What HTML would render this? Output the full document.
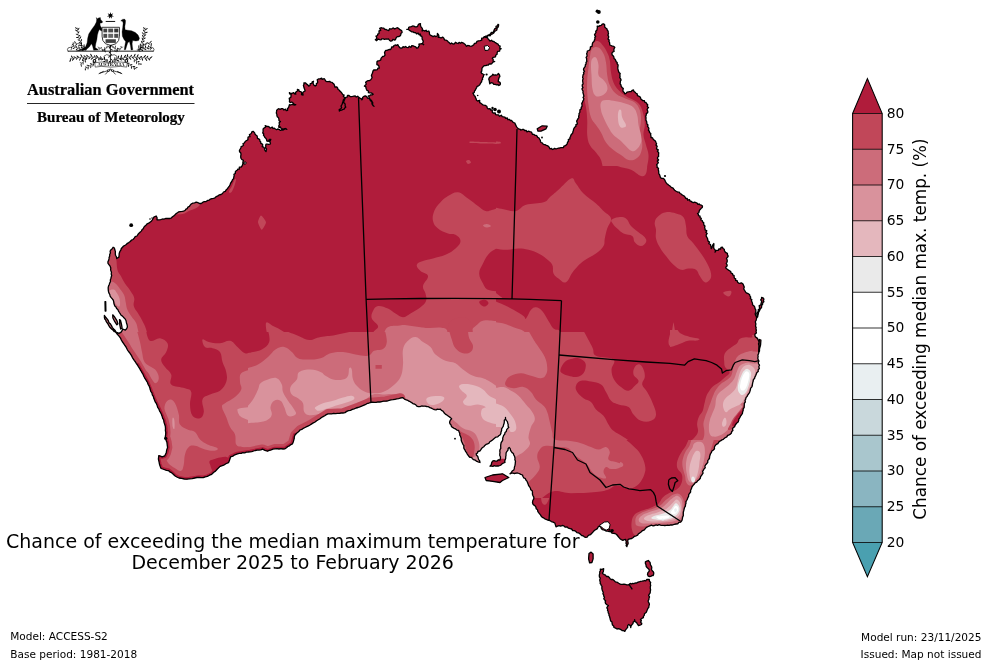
<!DOCTYPE html>
<html lang="en">
<head>
<meta charset="utf-8">
<title>Chance of exceeding the median maximum temperature</title>
<style>
html,body{margin:0;padding:0;background:#fff;}
body{width:992px;height:664px;overflow:hidden;}
svg{display:block;}
</style>
</head>
<body>
<svg width="992" height="664" viewBox="0 0 992 664">
<rect width="992" height="664" fill="#fff"/>
<defs><clipPath id="land"><path d="M113.1 247.2 L114.4 248.0 L114.8 249.8 L115.4 251.6 L115.3 253.5 L115.5 255.2 L116.4 256.8 L116.7 258.5 L118.9 257.1 L119.1 255.3 L119.2 253.5 L119.8 251.7 L120.8 250.2 L121.3 248.5 L122.5 247.2 L123.6 246.0 L125.0 245.3 L126.3 244.5 L127.4 243.3 L128.8 242.6 L130.2 241.5 L131.4 240.2 L133.1 239.5 L134.2 238.1 L135.2 236.6 L137.0 236.0 L137.9 234.5 L139.0 233.2 L140.3 232.1 L141.5 230.9 L142.1 229.5 L143.4 228.6 L143.9 227.1 L145.0 226.0 L146.2 224.9 L147.2 223.8 L148.7 223.1 L150.0 222.2 L151.3 221.3 L152.2 220.0 L153.0 218.6 L153.8 217.2 L156.2 216.0 L157.1 217.8 L157.0 219.8 L158.9 219.9 L160.7 219.6 L162.5 219.0 L164.0 219.1 L165.5 218.5 L167.0 218.3 L168.5 218.5 L170.0 218.5 L171.5 217.8 L172.5 216.7 L173.9 215.9 L175.0 214.8 L176.1 213.6 L177.5 212.8 L178.8 211.8 L180.3 211.6 L181.9 211.4 L183.5 211.1 L185.0 210.5 L185.9 209.2 L187.3 208.6 L187.9 207.1 L189.4 206.4 L190.2 205.1 L191.2 204.0 L192.8 203.1 L194.6 202.9 L196.2 202.2 L197.9 202.7 L199.5 203.5 L201.2 203.5 L202.6 202.4 L204.2 201.7 L206.1 201.6 L207.5 200.5 L209.1 200.2 L210.4 199.1 L211.9 198.6 L213.5 198.3 L215.0 197.8 L216.3 196.6 L217.9 195.9 L219.3 194.8 L221.1 194.5 L222.5 193.5 L223.5 192.0 L225.3 191.3 L226.2 189.8 L227.5 188.7 L228.3 187.4 L229.3 186.1 L230.0 184.8 L230.7 183.0 L231.8 181.5 L232.5 179.8 L233.6 178.6 L233.8 177.0 L234.2 175.7 L233.9 174.2 L235.4 173.4 L235.3 171.9 L236.1 170.8 L237.2 170.2 L237.8 169.1 L239.4 169.1 L239.3 167.1 L241.0 167.2 L241.8 166.3 L242.5 165.2 L242.7 163.7 L244.2 163.5 L242.8 162.5 L243.4 160.4 L241.8 159.5 L241.0 158.3 L240.7 157.0 L240.8 155.6 L241.0 154.3 L240.8 153.0 L239.6 151.8 L239.4 150.5 L240.2 149.0 L240.9 148.0 L241.1 146.7 L242.5 146.1 L243.5 145.3 L243.0 143.5 L244.4 143.0 L244.9 141.9 L245.8 141.0 L247.0 140.3 L248.0 139.6 L247.9 138.0 L248.3 136.8 L250.0 136.6 L249.4 134.6 L250.6 134.0 L251.4 133.1 L251.8 131.9 L253.1 131.3 L254.7 132.9 L255.0 134.1 L255.9 135.0 L257.0 135.7 L257.3 136.9 L257.5 138.3 L258.7 138.9 L259.8 139.7 L259.8 141.1 L260.8 141.9 L260.7 143.3 L262.1 143.9 L262.8 144.9 L262.2 146.7 L263.7 147.2 L264.4 148.1 L264.6 149.4 L265.0 150.6 L266.0 151.5 L266.3 150.2 L266.6 149.0 L265.5 147.8 L265.8 146.6 L265.7 145.4 L266.0 144.2 L267.3 144.2 L268.7 144.3 L270.0 144.2 L270.5 143.0 L269.6 141.6 L270.4 140.5 L270.8 139.4 L269.3 139.5 L268.5 141.3 L266.8 141.0 L266.6 139.6 L266.0 138.5 L264.9 137.6 L264.4 136.4 L263.5 135.4 L263.7 133.8 L262.7 132.9 L263.1 131.7 L263.1 130.3 L263.1 129.0 L264.1 128.0 L265.6 127.1 L265.2 125.6 L266.7 126.4 L268.4 126.5 L269.4 127.1 L270.4 128.2 L272.2 127.0 L272.9 128.5 L274.4 128.2 L275.4 129.0 L276.5 129.7 L277.7 129.0 L279.1 129.3 L280.4 130.4 L281.7 130.0 L283.0 130.2 L284.3 128.6 L285.6 129.0 L286.9 129.4 L285.7 128.5 L284.0 129.5 L282.7 128.9 L281.3 128.8 L280.4 127.0 L278.9 127.3 L278.8 125.7 L279.5 124.4 L279.1 122.8 L280.5 121.6 L279.0 120.8 L278.9 119.2 L278.5 117.7 L277.3 116.8 L276.9 115.6 L276.9 114.4 L276.3 113.1 L276.5 111.9 L276.6 110.7 L277.3 109.5 L278.6 108.7 L280.1 109.3 L281.5 108.6 L282.9 108.7 L283.8 110.0 L285.5 109.1 L286.3 110.6 L287.7 110.3 L287.4 108.7 L288.6 107.5 L289.0 106.1 L289.4 104.7 L290.6 105.0 L291.9 104.5 L293.2 104.7 L294.5 105.2 L295.8 104.7 L294.4 104.8 L293.7 103.5 L292.7 102.9 L291.8 102.0 L290.1 102.6 L289.4 101.5 L289.6 100.0 L289.2 98.4 L290.9 97.3 L291.0 95.8 L291.1 94.4 L289.6 93.8 L289.4 92.6 L290.5 93.5 L291.9 93.5 L293.5 92.6 L294.5 93.8 L295.8 94.2 L295.3 92.7 L296.3 91.7 L297.6 90.8 L297.4 89.4 L298.9 89.8 L299.2 91.3 L300.9 91.6 L301.7 92.6 L301.5 94.7 L303.1 95.0 L302.7 93.4 L303.2 92.0 L305.1 91.0 L304.7 89.4 L304.1 88.1 L303.8 86.8 L303.4 85.6 L304.0 84.2 L303.9 82.9 L305.6 83.0 L306.6 84.1 L307.8 84.9 L308.7 86.1 L310.0 85.5 L310.2 83.7 L311.7 83.4 L312.2 81.9 L313.5 81.3 L313.0 82.8 L313.4 84.0 L314.0 85.2 L315.2 86.1 L316.4 85.2 L316.3 83.8 L317.6 82.8 L317.6 81.4 L317.2 79.8 L318.4 78.9 L320.1 78.9 L321.6 78.1 L322.2 79.4 L324.2 78.7 L325.0 79.7 L325.6 81.0 L326.9 81.6 L328.3 81.7 L329.7 81.3 L330.6 82.2 L332.1 82.3 L332.9 83.3 L333.9 84.1 L334.5 85.3 L334.8 87.0 L336.8 86.9 L337.6 88.0 L338.1 89.5 L339.4 90.2 L340.1 91.4 L341.2 92.2 L342.0 93.3 L342.7 94.5 L344.2 95.0 L343.2 96.1 L344.6 97.5 L344.5 98.8 L343.4 99.8 L343.0 101.3 L343.4 102.5 L344.8 103.4 L345.2 104.6 L345.1 106.0 L345.8 107.1 L344.8 107.9 L344.1 109.1 L342.8 109.5 L341.7 110.1 L340.4 110.3 L339.4 111.1 L339.2 109.6 L340.7 108.8 L341.6 107.6 L341.0 106.0 L341.8 104.8 L342.4 103.6 L342.6 102.3 L343.9 101.4 L344.4 100.0 L345.0 98.6 L345.8 97.4 L347.1 97.2 L347.5 95.3 L349.0 95.5 L350.1 96.5 L351.3 96.6 L352.6 96.4 L353.9 96.1 L355.2 95.9 L356.2 97.0 L357.7 96.2 L358.7 97.4 L359.9 98.1 L361.2 98.6 L361.9 99.8 L362.6 98.8 L362.6 97.5 L363.5 96.6 L365.2 95.8 L366.8 96.6 L367.4 98.1 L369.3 98.4 L370.0 99.8 L370.6 101.0 L372.2 101.5 L371.9 103.1 L372.2 104.4 L372.9 105.5 L374.0 106.3 L373.2 105.3 L372.4 104.3 L372.8 102.8 L371.7 101.9 L371.6 100.6 L370.5 99.7 L369.5 98.5 L369.0 97.1 L368.4 95.8 L369.7 95.7 L370.7 94.8 L372.1 94.9 L373.2 94.2 L372.2 93.4 L371.0 92.8 L369.6 92.8 L368.4 92.6 L368.5 91.0 L367.0 90.4 L366.4 89.3 L366.0 88.1 L365.8 86.7 L364.4 86.1 L365.3 85.1 L366.3 84.1 L365.6 82.2 L366.8 81.3 L368.1 80.6 L369.6 80.6 L370.8 79.7 L371.6 78.5 L372.1 77.3 L371.4 75.8 L371.8 74.5 L372.4 73.3 L372.7 72.0 L373.2 70.8 L372.9 71.3 L373.6 70.0 L375.0 70.0 L376.3 69.9 L377.4 69.6 L378.0 68.1 L379.4 68.1 L379.0 66.7 L378.6 65.4 L376.9 64.7 L376.9 63.2 L377.0 61.6 L378.0 60.9 L379.6 60.6 L380.8 59.9 L381.0 58.4 L381.8 57.4 L382.7 56.5 L384.2 56.2 L385.0 55.2 L384.8 53.9 L384.5 52.6 L385.1 51.4 L385.8 50.3 L387.0 50.3 L388.2 49.8 L389.4 49.4 L390.6 49.5 L391.3 48.4 L391.7 47.0 L393.5 46.8 L393.9 45.5 L395.2 45.0 L396.6 45.3 L397.9 44.7 L398.6 46.1 L399.5 47.4 L400.7 48.2 L401.9 48.0 L403.1 46.7 L404.4 47.3 L405.6 46.4 L406.8 47.4 L408.2 47.6 L409.2 46.3 L410.9 47.4 L411.8 45.6 L413.2 45.8 L414.4 46.3 L415.7 46.8 L416.6 48.0 L418.1 47.9 L418.5 46.7 L419.3 45.6 L418.9 44.2 L420.1 44.0 L421.4 43.6 L422.6 43.9 L423.7 44.7 L422.4 43.5 L423.3 41.7 L422.9 40.3 L422.1 39.0 L422.2 37.7 L421.8 36.4 L420.2 35.6 L420.5 34.2 L419.0 34.6 L418.2 33.1 L416.5 33.9 L415.6 32.6 L414.2 32.6 L413.0 31.9 L411.6 31.8 L410.5 30.9 L409.3 30.4 L408.4 29.2 L406.8 29.4 L408.4 29.3 L408.7 27.4 L410.0 26.9 L411.3 26.6 L412.6 26.0 L413.9 26.2 L415.2 26.8 L416.5 26.9 L417.6 26.4 L418.1 24.9 L419.0 23.9 L420.5 23.7 L420.4 25.0 L420.7 26.2 L421.3 27.3 L422.3 28.4 L422.4 29.6 L422.1 31.0 L423.3 30.2 L424.9 31.1 L426.1 30.2 L426.7 31.6 L428.8 31.0 L429.4 32.6 L429.5 34.2 L430.3 35.2 L431.8 35.8 L433.0 36.6 L434.6 35.8 L435.8 36.6 L437.2 36.0 L437.4 34.7 L437.4 33.4 L438.4 34.6 L438.9 35.9 L438.2 37.4 L439.7 37.4 L441.0 38.0 L442.6 37.1 L443.9 38.2 L444.4 39.8 L445.8 40.1 L447.1 40.6 L448.1 41.7 L449.3 42.8 L450.3 43.9 L451.5 42.9 L453.0 44.0 L454.3 43.9 L455.4 42.3 L456.8 43.1 L458.1 43.5 L459.1 42.4 L460.5 43.3 L461.6 42.3 L462.8 42.8 L463.9 43.4 L464.9 44.2 L465.7 45.2 L466.5 46.3 L467.7 45.4 L468.9 45.6 L470.1 46.2 L471.3 46.3 L472.6 45.6 L473.8 44.8 L474.5 43.3 L476.1 43.1 L477.0 41.4 L478.5 40.8 L480.2 40.6 L481.7 40.2 L481.7 38.1 L483.4 37.9 L484.2 36.6 L485.8 37.3 L487.4 37.7 L488.1 38.9 L489.0 39.8 L490.0 41.1 L491.6 40.2 L492.5 41.4 L493.9 41.5 L494.8 42.3 L496.0 42.9 L496.9 43.7 L498.1 44.2 L498.7 45.5 L500.2 46.1 L499.6 48.1 L501.1 48.7 L499.9 49.5 L499.6 51.2 L497.7 51.3 L497.1 52.7 L497.1 54.3 L495.7 55.3 L495.5 56.8 L494.3 57.2 L493.1 57.3 L492.3 58.4 L493.2 59.4 L493.1 61.1 L494.7 61.6 L493.4 61.7 L492.5 62.7 L491.6 63.8 L490.4 64.0 L489.0 64.0 L488.3 65.2 L486.9 65.1 L485.8 65.6 L484.5 65.6 L483.4 66.3 L482.6 67.3 L481.9 68.4 L481.9 69.7 L481.8 71.0 L481.0 72.1 L481.7 73.4 L482.9 74.0 L484.2 74.5 L483.5 75.6 L483.3 76.9 L482.4 78.0 L482.6 79.4 L481.8 80.3 L481.6 81.8 L480.8 82.7 L480.2 83.9 L479.6 85.0 L478.5 85.8 L477.1 86.4 L476.6 87.6 L475.9 88.8 L475.4 90.0 L474.5 91.0 L474.3 92.5 L472.9 93.1 L473.6 94.2 L474.0 95.4 L475.1 96.3 L475.5 97.6 L476.1 98.7 L476.5 100.3 L477.6 101.0 L479.7 100.5 L479.6 102.6 L480.8 103.2 L481.8 104.0 L482.8 104.8 L484.2 105.2 L485.6 105.5 L486.8 106.2 L487.2 107.8 L488.1 108.9 L490.0 108.6 L490.6 110.0 L492.3 110.0 L492.3 112.3 L493.4 113.1 L495.2 112.8 L495.6 114.6 L497.1 114.8 L498.5 114.9 L499.5 116.3 L501.3 115.2 L502.2 116.7 L503.5 116.9 L504.9 117.1 L505.6 118.4 L507.3 118.0 L507.8 119.7 L509.5 119.3 L510.2 120.5 L511.7 120.5 L512.5 121.7 L513.5 122.5 L514.9 123.1 L515.4 124.4 L516.0 125.6 L516.6 126.9 L517.5 127.9 L518.5 128.8 L519.7 129.1 L520.8 130.1 L522.3 129.5 L523.7 129.3 L524.7 130.7 L526.1 130.3 L527.0 131.8 L528.5 131.2 L529.7 131.7 L531.1 131.8 L531.9 132.9 L532.5 134.4 L534.0 134.3 L534.8 135.4 L536.3 135.4 L537.2 136.2 L537.7 137.4 L539.1 138.0 L539.5 139.1 L540.3 140.1 L540.5 141.4 L541.0 142.5 L542.2 142.9 L543.0 143.9 L543.9 144.6 L545.3 144.7 L546.3 145.4 L547.5 145.7 L548.5 146.4 L549.3 147.4 L549.9 148.8 L551.5 148.4 L552.2 149.5 L553.5 149.1 L554.6 148.3 L556.0 149.0 L557.2 148.5 L558.5 148.1 L559.7 148.0 L560.9 147.6 L562.2 147.6 L563.5 147.5 L563.9 146.1 L565.4 145.6 L566.5 144.8 L567.3 143.7 L567.5 142.2 L568.5 141.2 L568.3 139.7 L569.9 138.9 L569.9 137.5 L570.6 136.3 L571.0 135.0 L571.8 134.0 L572.7 133.1 L572.9 131.7 L573.4 130.6 L573.6 129.2 L574.1 128.1 L574.9 127.1 L576.0 126.2 L575.8 124.9 L577.4 123.9 L577.1 122.5 L576.6 121.1 L577.4 119.9 L577.9 118.7 L578.9 117.6 L578.6 116.2 L579.1 115.0 L579.0 113.7 L579.8 112.5 L579.9 111.2 L579.9 109.8 L581.3 108.9 L581.2 107.5 L582.0 106.4 L582.1 105.0 L581.7 103.6 L582.4 102.4 L582.8 101.2 L583.5 100.0 L583.8 98.7 L583.0 97.5 L583.9 96.2 L583.6 95.0 L583.3 93.7 L582.9 92.5 L583.1 91.2 L582.4 90.0 L581.9 88.8 L583.0 87.5 L582.3 86.3 L582.2 85.0 L583.1 83.8 L582.9 82.5 L582.7 81.3 L582.6 80.0 L583.2 78.8 L582.6 77.5 L582.9 76.2 L583.0 75.0 L583.9 73.8 L583.5 72.5 L584.5 71.4 L583.5 69.8 L583.7 68.6 L584.5 67.4 L585.3 66.3 L585.3 65.0 L586.1 63.9 L586.0 62.5 L586.9 61.3 L586.6 60.0 L586.7 58.8 L586.1 57.4 L586.9 56.3 L587.1 55.0 L586.6 53.7 L587.2 52.5 L587.3 51.0 L588.9 50.5 L590.0 49.7 L590.3 48.3 L590.4 46.9 L592.0 46.4 L592.2 45.0 L592.4 43.7 L592.8 42.4 L594.0 41.4 L594.4 40.1 L595.0 39.0 L594.8 37.5 L595.6 36.4 L594.5 34.8 L595.2 33.7 L596.0 32.5 L595.7 31.2 L597.0 30.1 L597.1 28.8 L597.4 27.6 L597.2 26.2 L598.8 26.4 L599.9 25.6 L601.3 25.4 L602.2 24.2 L603.5 23.8 L604.6 24.5 L604.7 25.8 L604.8 27.2 L605.8 28.0 L606.9 28.8 L607.2 30.0 L608.1 31.1 L608.2 32.4 L608.5 33.7 L607.8 35.1 L608.6 36.2 L608.6 37.5 L608.0 38.9 L609.2 40.0 L608.9 41.3 L609.6 42.5 L609.7 43.7 L609.8 45.0 L611.1 45.5 L612.3 46.2 L613.8 46.3 L614.8 47.5 L614.1 48.7 L613.8 50.0 L614.1 51.4 L612.4 52.3 L611.9 53.5 L612.2 55.0 L613.3 55.9 L613.9 57.0 L614.0 58.5 L615.1 59.3 L615.7 60.4 L616.2 61.7 L617.2 62.5 L617.1 63.8 L618.1 64.9 L618.0 66.2 L617.8 67.6 L617.9 68.9 L618.2 70.1 L618.5 71.3 L619.0 72.5 L620.2 73.6 L619.8 75.0 L620.1 76.2 L619.7 77.5 L620.6 78.7 L621.1 79.9 L620.4 81.3 L620.3 82.6 L620.1 83.8 L621.0 85.0 L621.2 86.4 L622.1 87.5 L623.3 88.5 L622.9 90.1 L623.1 91.5 L624.2 92.5 L624.8 93.8 L626.0 93.3 L627.0 92.1 L628.4 91.9 L629.8 91.7 L631.2 91.5 L632.1 90.3 L633.5 90.0 L633.9 91.4 L635.1 92.2 L635.9 93.2 L637.2 93.9 L637.4 95.4 L638.5 96.2 L639.8 96.6 L640.5 97.7 L640.9 99.1 L641.9 99.8 L642.7 100.7 L644.4 100.6 L644.6 102.2 L646.0 102.5 L646.7 103.7 L647.7 104.8 L647.3 106.5 L648.5 107.5 L647.5 108.6 L647.1 109.8 L647.8 111.3 L647.7 112.6 L646.3 113.6 L646.3 114.9 L645.7 116.1 L646.0 117.5 L646.0 118.8 L645.9 120.2 L646.6 121.3 L646.8 122.6 L646.9 123.9 L648.0 125.0 L647.5 126.4 L648.5 127.5 L648.9 128.7 L648.4 130.2 L649.4 131.3 L649.5 132.6 L650.8 133.6 L650.6 134.9 L651.0 136.2 L651.0 137.5 L652.6 137.9 L653.2 139.3 L654.3 140.2 L655.4 141.1 L656.0 142.5 L656.6 143.7 L655.9 145.1 L657.2 146.2 L656.7 147.6 L656.5 148.9 L658.3 149.8 L657.4 151.3 L658.6 152.4 L658.7 153.7 L658.5 155.0 L658.7 156.3 L657.6 157.4 L657.5 158.6 L658.6 160.0 L657.3 161.1 L658.3 162.4 L657.8 163.6 L656.6 164.7 L657.2 166.0 L657.0 167.4 L658.5 168.3 L658.2 169.8 L658.7 171.0 L658.7 172.3 L658.8 173.7 L659.6 174.8 L660.0 176.0 L660.4 177.4 L661.4 178.3 L663.1 178.3 L664.1 179.1 L664.9 180.2 L665.4 181.5 L666.1 182.6 L666.9 183.7 L667.9 184.4 L668.9 185.3 L670.0 186.0 L670.9 186.9 L671.9 187.7 L673.1 188.1 L673.8 189.2 L674.7 190.2 L675.7 191.0 L676.8 191.5 L677.8 192.2 L679.4 192.2 L680.0 193.5 L681.2 194.0 L682.0 194.9 L683.2 195.5 L684.3 196.1 L685.1 197.1 L685.7 198.4 L687.2 198.5 L687.6 200.1 L689.5 199.6 L690.0 201.0 L691.2 201.3 L692.1 202.2 L693.3 202.7 L694.8 202.1 L695.9 202.7 L697.1 203.1 L697.9 204.3 L699.3 204.0 L700.3 204.9 L701.5 205.2 L702.5 206.0 L702.3 207.4 L701.2 208.3 L700.4 209.3 L699.5 210.2 L699.1 211.5 L698.8 212.8 L697.5 213.5 L698.4 214.4 L698.5 215.7 L700.1 216.2 L700.0 217.7 L701.3 218.3 L700.8 220.0 L702.3 220.5 L702.5 221.9 L703.7 222.5 L703.7 224.0 L704.0 225.2 L705.0 226.0 L704.6 227.4 L705.0 228.6 L705.1 229.9 L706.8 230.8 L705.8 232.3 L707.2 233.4 L706.2 234.9 L706.2 236.2 L706.9 237.3 L707.5 238.5 L707.8 239.8 L708.1 241.1 L709.5 242.0 L708.8 243.7 L710.5 244.5 L710.7 245.9 L711.1 247.1 L711.2 248.5 L712.1 247.4 L712.3 245.9 L713.0 244.7 L713.8 243.5 L713.9 244.8 L713.7 246.1 L713.7 247.3 L713.9 248.6 L715.0 249.7 L715.5 250.9 L715.0 252.2 L715.7 251.0 L716.8 250.3 L718.4 250.4 L718.9 248.8 L720.6 249.0 L721.0 247.3 L722.5 247.2 L723.0 248.5 L724.3 249.2 L724.4 250.6 L725.0 251.8 L725.9 252.7 L727.4 253.3 L727.5 254.8 L728.2 256.1 L727.5 257.3 L726.5 258.4 L727.1 259.8 L727.3 261.0 L726.9 262.3 L726.2 263.5 L727.1 264.8 L727.1 266.1 L725.7 267.2 L726.2 268.5 L727.4 269.2 L728.4 270.1 L729.6 270.8 L730.7 271.5 L731.1 273.1 L732.5 273.5 L732.7 274.8 L734.1 275.5 L734.1 277.0 L734.4 278.2 L735.7 278.9 L735.6 280.4 L737.4 280.8 L737.5 282.2 L738.6 283.1 L739.9 283.4 L741.3 282.8 L742.5 283.5 L743.3 284.6 L743.7 285.9 L744.3 287.1 L743.7 288.7 L744.3 289.9 L745.0 291.0 L745.7 292.3 L746.8 293.2 L748.3 293.7 L749.5 294.5 L750.0 296.0 L750.7 297.1 L750.3 298.6 L751.8 299.5 L751.4 301.0 L752.1 302.2 L752.5 303.4 L752.5 304.8 L753.8 305.7 L754.8 307.1 L754.9 308.4 L755.7 309.7 L755.9 311.0 L755.6 312.4 L755.2 313.8 L755.5 315.2 L756.3 316.5 L756.6 317.8 L756.4 319.2 L756.1 320.4 L755.4 321.5 L755.5 322.7 L755.9 324.0 L755.6 325.2 L755.6 326.4 L756.2 327.6 L755.9 328.9 L756.4 330.0 L756.0 331.3 L756.4 332.9 L755.0 334.0 L754.9 335.4 L755.3 336.8 L756.4 337.6 L757.5 338.4 L758.0 339.6 L758.6 340.8 L759.1 342.2 L758.5 343.8 L758.8 345.2 L759.5 346.6 L759.5 348.1 L759.5 349.5 L759.5 350.9 L758.9 352.2 L758.6 353.5 L757.9 355.0 L758.1 356.6 L757.8 358.2 L758.2 359.8 L759.0 361.1 L758.3 362.6 L758.7 364.0 L759.5 365.2 L758.8 366.8 L759.3 368.5 L758.1 369.9 L758.2 371.6 L756.9 372.6 L756.3 374.1 L755.7 375.6 L754.9 377.0 L754.6 378.4 L753.4 379.5 L753.2 381.0 L752.8 382.4 L752.5 383.9 L752.3 385.5 L751.9 386.9 L750.7 388.1 L750.4 389.6 L750.0 391.1 L749.5 392.6 L748.6 393.8 L747.7 395.1 L747.1 396.4 L746.0 397.6 L745.7 399.1 L745.0 400.5 L745.3 402.0 L744.3 403.3 L744.3 404.8 L744.2 406.3 L744.1 407.7 L743.1 409.0 L743.1 410.6 L742.6 412.1 L742.4 413.7 L741.4 414.9 L740.5 416.2 L739.9 417.6 L738.9 418.8 L738.7 420.4 L738.2 421.9 L737.0 422.8 L736.0 424.0 L735.1 425.2 L734.6 426.7 L733.3 427.6 L732.4 428.8 L732.9 430.5 L731.7 431.6 L731.4 433.0 L730.4 434.1 L729.1 434.9 L727.6 435.4 L726.8 436.9 L725.4 437.5 L724.2 438.4 L723.3 439.4 L722.0 439.8 L720.9 440.6 L719.8 441.2 L718.8 442.1 L717.9 443.6 L716.3 444.4 L715.2 445.7 L714.4 447.0 L714.5 448.8 L713.4 450.0 L711.9 451.0 L711.3 452.7 L710.4 453.9 L710.0 455.3 L709.6 456.6 L709.5 458.1 L708.8 459.4 L707.7 460.6 L707.8 462.3 L706.8 463.5 L705.8 464.7 L704.9 466.0 L705.2 467.8 L704.0 468.9 L703.4 470.2 L702.6 471.4 L703.1 473.1 L702.2 474.3 L701.6 475.5 L700.6 476.5 L700.4 478.0 L699.3 479.5 L697.7 480.7 L696.7 482.1 L695.1 482.9 L694.1 484.3 L692.9 485.6 L691.9 487.0 L691.4 488.8 L690.6 490.2 L690.6 492.0 L689.6 493.3 L688.7 494.7 L688.6 496.4 L687.8 497.8 L687.3 499.2 L686.6 500.5 L685.9 501.7 L686.0 503.3 L685.5 504.6 L685.4 506.1 L684.6 507.3 L684.2 508.7 L683.8 510.5 L683.3 512.2 L683.3 514.1 L683.3 515.7 L682.6 517.1 L682.4 518.6 L681.9 520.6 L680.5 522.2 L678.8 522.3 L677.7 523.9 L676.0 524.0 L674.2 524.3 L672.5 525.0 L670.6 524.9 L669.2 525.3 L667.7 525.2 L666.3 525.4 L664.8 525.5 L663.4 525.3 L661.9 525.4 L660.5 525.2 L659.1 524.6 L657.6 525.3 L656.1 524.9 L654.6 525.5 L653.1 525.9 L651.3 525.2 L649.8 525.8 L648.2 526.5 L646.6 527.3 L645.3 528.6 L644.4 529.8 L643.1 530.4 L641.8 531.1 L640.8 532.2 L639.6 533.1 L638.4 533.8 L637.6 535.1 L636.3 535.8 L634.5 536.3 L633.2 537.5 L631.7 538.5 L629.9 538.8 L628.1 539.4 L627.8 540.6 L627.8 541.8 L628.2 543.1 L627.8 544.3 L627.1 545.4 L626.9 546.6 L626.1 545.5 L626.6 544.2 L625.9 543.1 L626.4 541.8 L625.8 540.6 L625.8 539.4 L624.3 539.7 L622.9 540.3 L621.4 539.6 L620.0 538.7 L618.9 537.4 L617.8 536.0 L616.6 534.5 L615.0 533.5 L613.5 533.3 L611.9 533.0 L610.8 531.6 L609.2 531.5 L607.7 531.1 L606.2 531.1 L605.0 530.3 L603.7 529.8 L602.3 529.6 L601.3 528.5 L600.7 526.9 L599.4 526.1 L598.1 527.1 L597.4 528.6 L596.1 529.4 L594.7 530.2 L593.6 531.2 L592.7 532.5 L591.5 533.5 L590.6 534.7 L589.1 535.0 L588.0 535.8 L587.1 537.1 L585.7 537.4 L584.3 536.9 L583.2 535.8 L581.7 535.5 L580.6 534.6 L579.7 533.5 L578.4 532.9 L576.9 532.6 L575.9 531.5 L574.5 530.6 L572.7 530.5 L571.6 529.0 L570.0 528.6 L568.4 528.2 L567.1 526.9 L565.2 527.2 L563.9 525.9 L562.2 525.5 L560.8 526.2 L559.0 525.7 L557.5 526.1 L556.0 526.8 L555.4 524.9 L554.8 523.0 L553.1 522.1 L551.3 521.6 L549.8 520.5 L547.5 520.0 L546.2 519.4 L544.8 518.8 L543.7 517.9 L542.3 517.3 L541.2 516.2 L540.5 514.9 L539.6 513.8 L538.6 512.6 L537.8 511.3 L537.5 509.7 L536.2 508.8 L535.9 507.2 L535.2 506.0 L533.9 505.1 L532.9 504.0 L532.5 502.5 L532.8 500.5 L533.8 498.8 L533.8 497.1 L533.0 495.7 L532.4 494.1 L532.5 492.5 L532.2 490.8 L530.8 489.8 L530.4 488.2 L529.6 486.8 L528.6 485.5 L528.1 484.0 L527.5 482.5 L526.9 481.1 L525.9 480.0 L525.3 478.5 L523.7 477.8 L523.0 476.5 L522.5 475.0 L520.8 474.4 L519.2 473.5 L517.5 473.0 L516.0 473.2 L514.5 473.5 L513.0 473.1 L511.5 473.2 L510.0 473.8 L511.4 472.6 L512.2 471.0 L513.8 470.0 L514.3 468.6 L514.4 467.1 L514.9 465.7 L515.2 464.2 L515.3 462.7 L515.5 461.2 L514.9 459.7 L515.0 458.0 L514.6 456.4 L513.8 455.0 L513.4 453.5 L512.1 452.6 L511.2 451.4 L510.5 450.2 L510.2 448.6 L509.2 447.5 L508.1 448.5 L508.0 450.1 L507.0 451.3 L506.2 452.5 L506.0 453.9 L506.0 455.4 L505.7 456.8 L505.7 458.2 L505.3 459.6 L504.7 461.0 L505.0 462.5 L503.6 463.0 L502.2 463.6 L501.3 464.8 L500.0 465.5 L498.6 466.0 L497.2 466.0 L495.7 466.1 L494.3 465.6 L492.9 466.3 L491.4 466.1 L490.0 466.2 L491.3 464.8 L491.6 462.9 L492.5 461.2 L494.0 460.7 L495.6 461.2 L497.1 461.0 L498.4 459.8 L500.0 460.0 L500.4 458.5 L500.5 457.0 L499.8 455.5 L499.8 454.0 L500.0 452.5 L499.8 451.0 L500.0 449.6 L500.8 448.3 L500.7 446.8 L500.7 445.3 L500.9 443.9 L501.2 442.5 L502.2 441.2 L502.8 439.8 L502.7 438.1 L503.2 436.7 L503.7 435.3 L504.8 434.0 L505.0 432.5 L506.3 431.5 L506.6 429.8 L507.5 428.5 L508.8 427.5 L508.1 426.1 L508.2 424.5 L507.7 423.1 L507.4 421.6 L506.3 420.4 L505.5 419.1 L505.5 417.5 L505.5 419.1 L504.3 420.3 L504.3 421.8 L504.1 423.3 L503.6 424.7 L503.3 426.2 L502.5 427.5 L501.6 428.9 L501.6 430.5 L501.0 432.0 L500.8 433.6 L500.0 435.0 L498.7 435.8 L497.7 436.9 L496.0 437.1 L494.8 438.0 L493.6 439.0 L492.5 440.0 L491.2 440.9 L489.8 441.7 L489.0 443.2 L487.6 443.9 L486.0 444.4 L484.8 445.4 L483.9 446.7 L482.5 447.5 L481.5 448.6 L480.7 449.9 L479.8 451.0 L478.0 451.3 L477.5 453.0 L476.2 453.8 L476.6 455.3 L477.8 456.5 L478.2 458.1 L478.7 459.6 L479.7 460.9 L480.0 462.5 L478.2 461.9 L476.5 461.2 L475.0 460.0 L473.5 459.7 L472.4 458.6 L471.4 457.4 L469.8 457.3 L468.8 456.2 L467.9 455.0 L467.1 453.8 L466.5 452.5 L465.5 451.4 L465.0 450.0 L464.0 448.7 L463.8 447.2 L463.9 445.5 L462.9 444.3 L462.3 442.9 L461.6 441.5 L461.2 440.0 L461.2 438.2 L460.6 436.5 L459.8 435.1 L459.8 433.4 L459.1 431.9 L458.6 430.4 L456.9 430.1 L455.6 428.9 L454.0 428.3 L452.6 427.4 L451.4 426.4 L451.0 424.9 L450.0 423.8 L449.6 422.3 L450.2 420.4 L451.6 418.8 L450.2 417.4 L448.5 416.3 L447.2 415.2 L445.8 414.4 L444.5 413.3 L443.7 412.1 L442.8 411.0 L441.4 410.3 L440.5 409.2 L439.0 409.3 L437.4 409.1 L436.0 409.9 L434.4 409.7 L432.9 409.0 L431.4 408.2 L429.8 407.6 L428.4 406.7 L426.7 406.5 L425.1 406.1 L423.3 406.2 L421.6 406.0 L420.0 406.6 L418.3 406.7 L416.8 406.1 L415.8 404.8 L414.4 404.0 L412.8 403.6 L411.6 402.6 L410.2 401.7 L408.9 401.2 L407.7 400.3 L406.3 399.9 L405.0 399.4 L403.8 398.5 L402.7 397.6 L400.5 398.0 L398.7 398.6 L396.8 398.9 L394.9 399.3 L393.0 399.7 L391.1 399.8 L389.2 400.3 L387.4 401.0 L385.5 401.2 L383.6 401.2 L381.8 401.6 L379.9 402.0 L378.0 401.9 L376.1 402.3 L374.3 402.3 L372.4 402.1 L370.5 402.5 L368.7 403.2 L366.8 403.7 L365.2 404.7 L363.4 405.4 L361.6 406.2 L359.8 406.9 L358.0 407.5 L356.1 408.0 L354.2 408.8 L352.3 409.4 L350.5 410.3 L348.5 410.7 L346.7 411.4 L345.0 412.6 L343.0 413.0 L341.1 413.0 L339.3 413.4 L337.4 413.4 L335.5 413.6 L333.6 413.4 L331.8 413.8 L329.9 413.9 L328.0 413.8 L326.3 414.6 L324.7 415.7 L323.1 416.6 L321.5 417.5 L320.0 418.8 L318.3 419.7 L316.6 420.7 L315.1 422.0 L313.3 422.9 L311.7 423.9 L310.0 425.0 L308.4 425.9 L306.7 426.7 L305.0 427.5 L303.3 428.3 L301.8 429.4 L300.0 430.0 L298.5 431.8 L296.6 433.2 L295.0 435.0 L294.3 436.7 L294.2 438.5 L293.7 440.3 L293.2 442.0 L292.5 443.8 L290.9 444.6 L289.5 445.8 L287.8 446.5 L286.5 447.8 L285.0 448.8 L283.0 449.0 L281.0 448.6 L279.0 449.0 L277.0 448.6 L275.0 448.8 L273.0 449.1 L271.2 449.9 L269.3 450.4 L267.5 451.2 L265.0 450.3 L262.5 449.2 L260.8 449.9 L259.0 450.1 L257.1 450.1 L255.3 450.5 L253.6 451.0 L251.8 451.6 L250.0 451.8 L248.2 452.0 L246.4 452.1 L244.7 452.8 L242.8 452.7 L241.1 453.4 L239.3 453.3 L237.5 453.8 L234.8 454.8 L232.9 456.1 L230.6 456.9 L229.6 460.0 L228.5 462.7 L226.3 463.5 L224.3 464.8 L222.2 465.7 L220.1 466.4 L218.5 467.9 L216.9 469.5 L215.5 471.1 L213.8 472.2 L211.7 474.3 L209.5 475.2 L207.4 476.4 L205.2 476.8 L203.2 477.7 L201.1 477.7 L199.0 477.4 L196.9 477.5 L194.8 478.0 L192.2 478.6 L189.5 478.8 L186.9 479.2 L184.3 479.0 L181.6 478.4 L179.0 478.0 L176.8 477.0 L174.8 475.8 L173.3 474.2 L171.6 472.7 L169.9 471.9 L168.5 470.6 L166.3 470.3 L164.2 469.5 L161.1 468.5 L160.2 466.4 L159.5 464.3 L159.0 461.6 L158.4 459.0 L158.8 455.6 L160.5 456.1 L162.1 456.9 L164.8 455.8 L166.3 452.7 L166.5 450.9 L167.0 449.1 L167.6 447.4 L167.2 444.8 L166.9 442.1 L166.1 440.4 L165.8 438.4 L165.3 436.9 L165.6 434.8 L165.8 432.6 L165.4 430.6 L165.5 428.4 L165.3 426.3 L164.7 424.2 L164.0 422.2 L163.7 420.0 L162.6 418.2 L162.1 416.2 L161.4 414.3 L160.5 412.5 L159.5 410.8 L158.8 408.9 L157.7 407.3 L157.1 405.4 L156.4 403.5 L155.2 401.9 L154.5 400.0 L153.8 398.3 L153.3 396.4 L152.3 394.8 L151.9 392.9 L150.8 391.3 L150.2 389.6 L149.8 387.7 L149.1 385.9 L148.1 384.3 L147.5 382.5 L146.5 380.9 L145.6 379.4 L144.6 377.8 L143.8 376.2 L143.1 374.4 L142.1 372.9 L141.3 371.3 L140.3 369.8 L139.4 368.1 L138.4 366.6 L137.5 365.0 L136.4 363.6 L135.5 362.0 L134.4 360.6 L133.4 359.1 L132.4 357.6 L131.7 355.9 L130.7 354.3 L129.7 352.8 L128.5 351.5 L127.5 350.0 L126.0 347.0 L124.7 345.2 L123.5 343.3 L122.2 341.5 L121.1 339.6 L120.5 338.1 L119.6 336.9 L118.6 335.6 L117.5 334.5 L116.5 333.2 L115.5 332.0 L117.3 332.6 L119.0 333.3 L121.1 332.2 L122.1 330.7 L122.7 329.0 L125.3 330.1 L126.6 328.7 L127.4 326.9 L127.1 324.8 L126.4 322.7 L126.0 320.5 L124.8 318.5 L123.6 317.4 L122.5 316.1 L121.1 315.3 L120.3 313.8 L119.4 312.5 L118.5 311.1 L117.8 309.6 L116.6 308.5 L116.0 307.0 L114.8 305.9 L114.0 303.8 L113.7 301.6 L113.2 300.0 L112.1 298.7 L111.0 297.4 L110.1 296.1 L109.8 294.5 L109.0 293.2 L108.4 291.1 L108.2 289.0 L108.2 287.4 L108.6 285.9 L109.3 284.5 L109.7 283.0 L110.5 281.6 L110.3 279.9 L110.9 278.5 L111.2 277.0 L111.7 275.5 L111.2 274.0 L111.5 272.4 L111.0 271.0 L110.6 269.5 L110.8 267.9 L110.1 266.2 L109.1 264.8 L108.0 263.4 L107.9 261.8 L108.6 260.4 L109.0 258.9 L109.1 257.4 L109.7 255.9 L109.7 254.4 L110.4 252.9 L110.1 251.3 L110.8 249.9 L112.2 248.8Z M599.4 574.6 L599.8 573.3 L599.7 571.8 L600.5 570.6 L600.3 569.1 L602.0 569.3 L603.7 568.7 L603.5 570.2 L603.3 571.8 L602.3 573.0 L603.2 574.0 L604.3 574.6 L605.5 575.2 L606.4 576.5 L608.2 576.4 L609.2 577.5 L610.1 578.7 L611.2 579.5 L612.9 579.5 L614.0 580.4 L615.0 581.5 L616.1 582.2 L617.5 582.4 L618.6 583.2 L619.7 583.8 L620.9 584.4 L622.4 584.3 L623.9 584.1 L625.3 584.4 L626.8 584.8 L628.0 584.9 L629.2 584.6 L630.2 583.4 L631.5 584.0 L632.6 583.4 L633.9 583.7 L635.0 583.0 L636.3 583.2 L637.4 582.4 L638.5 582.0 L639.7 581.7 L640.8 581.3 L642.1 581.2 L643.3 581.0 L644.4 580.5 L645.8 580.9 L646.7 579.5 L648.0 579.5 L649.3 579.5 L649.5 581.2 L650.7 582.4 L650.3 583.9 L650.7 585.4 L650.3 586.8 L650.3 588.3 L650.6 589.9 L650.3 591.3 L650.2 592.8 L649.3 594.2 L648.6 595.4 L649.5 596.9 L649.0 598.1 L648.9 599.4 L648.2 600.7 L648.3 602.0 L649.1 603.2 L649.4 604.5 L648.9 605.9 L648.8 607.4 L647.8 608.5 L647.3 609.8 L646.8 610.9 L646.3 612.2 L645.4 613.0 L644.4 613.8 L644.4 615.1 L643.4 616.3 L643.4 617.7 L641.8 618.4 L640.5 619.6 L641.4 620.7 L640.5 622.2 L641.8 623.2 L641.5 624.5 L640.0 625.1 L638.5 625.5 L637.5 624.1 L636.6 622.6 L635.0 621.5 L634.6 619.6 L634.6 621.1 L633.2 622.1 L633.0 623.5 L632.0 624.7 L631.1 625.9 L630.7 627.5 L630.3 625.6 L628.7 624.5 L627.6 625.6 L627.7 627.3 L626.8 628.4 L625.6 629.8 L624.8 631.4 L623.7 630.7 L622.3 630.7 L621.3 629.8 L619.9 629.2 L618.5 628.7 L617.0 629.0 L615.6 628.1 L614.0 627.5 L613.7 626.0 L612.5 625.0 L612.1 623.5 L612.0 622.1 L610.9 621.2 L610.4 620.0 L610.1 618.7 L609.8 617.5 L609.5 616.3 L608.9 615.1 L609.0 613.8 L608.2 612.8 L608.2 611.5 L607.5 610.3 L607.7 609.0 L606.8 607.9 L607.5 606.6 L608.4 605.5 L606.9 604.7 L605.6 603.6 L605.2 602.0 L605.6 600.7 L604.4 599.7 L603.8 598.6 L604.5 597.2 L603.7 596.1 L603.7 594.9 L602.9 593.8 L603.3 592.5 L602.8 591.4 L602.3 590.3 L602.0 589.1 L601.8 587.9 L602.1 586.6 L601.3 585.6 L600.9 584.4 L600.1 583.3 L600.3 582.0 L599.8 580.8 L599.8 579.5 L600.3 578.2 L599.5 577.1 L599.3 575.8Z M375.3 39.8 L376.3 38.9 L376.8 37.8 L376.0 36.1 L377.6 35.5 L377.7 34.2 L379.1 33.5 L379.0 32.1 L379.0 30.8 L380.7 30.3 L379.7 28.4 L381.0 27.7 L382.3 28.2 L383.8 28.1 L384.8 29.3 L386.2 29.5 L387.4 30.2 L388.8 30.6 L389.6 28.7 L391.0 29.2 L392.2 28.5 L393.3 27.9 L394.8 29.0 L396.0 28.3 L397.1 27.7 L398.5 28.3 L399.5 29.4 L400.8 30.1 L401.9 31.0 L402.1 32.5 L400.9 33.4 L400.8 34.8 L400.1 35.9 L398.7 36.6 L397.3 36.7 L396.3 37.5 L395.7 39.0 L394.9 40.1 L392.9 39.3 L392.3 40.6 L390.8 41.2 L389.6 40.5 L388.6 39.0 L387.1 39.2 L385.8 39.0 L384.6 39.4 L383.3 38.9 L382.0 38.8 L381.0 39.8 L379.6 39.7 L378.1 39.0 L376.7 40.7Z M489.8 77.1 L490.8 76.2 L492.1 75.5 L492.9 74.2 L493.9 75.2 L495.3 74.8 L496.5 75.2 L497.6 74.5 L498.4 73.5 L499.5 74.9 L499.9 76.6 L499.0 77.6 L498.8 78.8 L498.4 80.0 L498.2 81.6 L499.7 82.1 L500.4 83.1 L500.2 84.7 L498.9 85.5 L497.9 84.6 L496.5 84.8 L495.3 84.3 L493.8 84.4 L492.9 83.1 L491.1 82.6 L489.8 83.9 L489.5 82.3 L489.3 80.7 L488.8 79.4 L489.0 78.2Z M497.9 24.3 L497.8 25.7 L496.0 26.4 L496.2 28.0 L494.6 28.9 L493.9 30.6 L493.4 32.3 L491.4 32.3 L490.5 33.6 L489.5 34.6 L488.2 35.2 L487.0 35.8 L485.6 36.1 L484.6 37.2 L485.9 36.4 L487.4 36.4 L488.4 35.4 L490.2 35.8 L491.0 34.4 L492.6 33.8 L493.8 32.9 L494.6 31.4 L495.8 30.7 L496.9 30.0 L497.0 28.4 L498.0 27.3 L498.5 26.1 L498.6 24.6Z M761.6 297.3 L763.4 298.1 L763.9 299.3 L763.4 300.6 L763.9 301.8 L762.7 302.7 L762.7 304.0 L761.9 305.1 L761.6 306.4 L761.5 307.7 L760.5 308.6 L759.9 309.7 L759.4 310.9 L758.5 312.3 L758.3 313.9 L757.9 315.4 L757.7 316.7 L756.8 317.7 L757.7 316.4 L757.1 315.0 L756.7 313.6 L757.4 312.4 L758.4 311.3 L758.2 309.7 L759.6 308.7 L759.4 307.1 L759.2 305.7 L760.7 305.0 L761.1 303.8 L761.3 302.6 L761.7 301.3 L760.7 299.9 L761.6 298.6Z M759.4 339.5 L760.9 340.2 L760.6 344.8 L759.4 349.3 L758.6 352.3 L758.9 346.3Z M485.0 477.5 L492.5 475.0 L502.5 473.8 L508.8 477.5 L502.5 480.5 L500.0 482.5 L491.2 481.2 L486.2 480.5Z M589.0 553.5 L591.1 552.1 L593.1 554.0 L593.1 558.9 L591.9 562.5 L589.6 562.9 L588.6 558.9Z M645.4 561.9 L646.8 561.2 L648.3 560.5 L649.2 561.5 L650.1 562.4 L650.3 563.8 L650.6 565.2 L651.5 566.4 L651.8 567.8 L651.4 569.3 L652.2 570.7 L653.3 571.7 L653.8 573.0 L653.6 574.3 L653.2 575.6 L652.0 575.5 L650.8 576.4 L649.6 576.5 L648.3 576.2 L647.5 574.5 L647.9 572.6 L649.3 571.1 L649.1 569.7 L648.3 568.7 L647.3 567.8 L646.2 566.5 L646.0 564.8 L645.4 563.4Z M537.2 128.8 L542.2 125.8 L547.2 126.2 L546.0 128.8 L541.0 131.2 L538.0 131.2Z M112.7 314.8 L114.2 316.4 L116.9 320.6 L117.9 323.8 L116.9 324.8 L114.8 321.7 L112.9 318.0Z M119.5 319.6 L120.6 320.6 L121.6 324.8 L122.1 328.0 L120.6 329.0 L119.8 324.8Z M104.4 315.3 L105.2 316.7 L106.3 318.0 L107.5 319.4 L108.4 320.9 L109.0 322.7 L110.5 324.1 L111.6 325.9 L112.4 327.6 L113.7 329.0 L114.9 330.2 L115.8 331.7 L114.2 331.7 L113.1 330.2 L111.6 329.0 L110.1 327.6 L109.0 325.9 L108.2 324.4 L107.3 323.0 L106.3 321.7 L105.8 320.2 L104.8 319.0 L104.4 317.5Z M105.0 301.6 L105.7 301.6 L105.9 311.1 L105.2 311.1Z"/></clipPath></defs>
<g clip-path="url(#land)">
<rect x="90" y="0" width="700" height="664" fill="#b01c3b"/>
<clipPath id="t0"><rect x="0" y="332" width="248" height="166"/></clipPath>
<g clip-path="url(#t0)">
<path d="M-5.0 327.0 C-5.0 327.0 253.0 327.0 253.0 327.0 C253.0 327.0 253.0 503.0 253.0 503.0 C253.0 503.0 -5.0 503.0 -5.0 503.0 C-5.0 503.0 -5.0 327.0 -5.0 327.0Z" fill="#c14759"/>
<path d="M146.2 330.8 C146.2 330.8 147.2 339.2 150.0 340.8 C152.8 342.2 156.5 337.8 160.0 338.2 C163.5 338.8 166.2 340.5 167.5 343.2 C168.8 346.0 167.5 348.8 166.2 352.0 C165.0 355.2 161.5 356.5 161.2 359.5 C161.0 362.5 163.0 364.0 165.0 367.0 C167.0 370.0 170.0 371.0 171.2 374.5 C172.5 378.0 168.5 381.8 171.2 384.5 C174.0 387.2 181.0 386.8 185.0 388.2 C189.0 389.8 190.2 388.8 191.2 392.0 C192.2 395.2 189.8 399.8 190.0 404.5 C190.2 409.2 190.5 413.0 192.5 415.8 C194.5 418.5 197.8 419.0 200.0 418.2 C202.2 417.5 203.2 415.8 203.8 412.0 C204.2 408.2 201.2 403.0 202.5 399.5 C203.8 396.0 206.5 396.2 210.0 394.5 C213.5 392.8 216.8 393.2 220.0 390.8 C223.2 388.2 225.0 385.8 226.2 382.0 C227.5 378.2 227.0 376.0 226.2 372.0 C225.5 368.0 223.8 366.0 222.5 362.0 C221.2 358.0 222.0 354.8 220.0 352.0 C218.0 349.2 215.5 349.2 212.5 348.2 C209.5 347.2 207.0 348.8 205.0 347.0 C203.0 345.2 201.8 340.5 202.5 339.5 C203.2 338.5 205.2 341.2 208.8 342.0 C212.2 342.8 215.8 343.5 220.0 343.2 C224.2 343.0 226.5 340.0 230.0 340.8 C233.5 341.5 234.5 344.5 237.5 347.0 C240.5 349.5 242.2 352.2 245.0 353.2 C247.8 354.2 251.2 352.0 251.2 352.0 C251.2 352.0 251.2 330.8 251.2 330.8 C251.2 330.8 146.2 330.8 146.2 330.8Z" fill="#b01c3b"/>
<path d="M120.0 330.8 C120.0 330.8 137.0 330.8 137.0 330.8 C137.0 330.8 139.0 337.8 140.0 342.0 C141.0 346.2 141.1 348.0 142.0 352.0 C142.9 356.0 142.7 359.0 144.5 362.0 C146.3 365.0 148.9 365.2 151.2 367.0 C153.6 368.8 154.8 368.5 156.2 370.8 C157.8 373.0 158.9 375.8 158.8 378.2 C158.6 380.8 157.0 383.2 155.5 383.2 C154.0 383.2 152.8 380.5 151.2 378.2 C149.7 376.0 149.5 374.0 147.5 372.0 C145.5 370.0 143.5 370.2 141.2 368.2 C139.0 366.2 138.2 365.2 136.2 362.0 C134.2 358.8 133.2 356.0 131.2 352.0 C129.2 348.0 128.5 346.2 126.2 342.0 C124.0 337.8 120.0 330.8 120.0 330.8Z" fill="#cc6c7a"/>
<path d="M165.0 404.5 C166.0 401.5 168.0 399.8 170.0 399.5 C172.0 399.2 173.2 400.2 175.0 403.2 C176.8 406.2 177.8 410.2 178.8 414.5 C179.8 418.8 178.2 421.5 180.0 424.5 C181.8 427.5 184.5 428.0 187.5 429.5 C190.5 431.0 192.5 430.0 195.0 432.0 C197.5 434.0 197.5 437.0 200.0 439.5 C202.5 442.0 204.0 442.8 207.5 444.5 C211.0 446.2 216.2 447.0 217.5 448.2 C218.8 449.5 216.2 450.5 213.8 450.8 C211.2 451.0 208.8 450.5 205.0 449.5 C201.2 448.5 198.2 446.2 195.0 445.8 C191.8 445.2 190.8 445.2 188.8 447.0 C186.8 448.8 186.0 451.0 185.0 454.5 C184.0 458.0 184.5 461.2 183.8 464.5 C183.0 467.8 183.0 470.0 181.2 470.8 C179.5 471.5 177.8 470.0 175.0 468.2 C172.2 466.5 169.2 464.8 167.5 462.0 C165.8 459.2 165.8 457.5 166.2 454.5 C166.8 451.5 169.2 450.5 170.0 447.0 C170.8 443.5 170.5 441.0 170.0 437.0 C169.5 433.0 168.5 431.5 167.5 427.0 C166.5 422.5 165.5 419.0 165.0 414.5 C164.5 410.0 164.0 407.5 165.0 404.5Z" fill="#cc6c7a"/>
<path d="M172.5 418.2 C172.8 416.8 173.8 417.5 174.2 419.5 C174.7 421.5 174.8 426.8 174.5 428.2 C174.2 429.8 173.2 429.0 172.8 427.0 C172.3 425.0 172.2 419.8 172.5 418.2Z" fill="#d9929c"/>
<path d="M251.2 369.5 C251.2 369.5 243.5 370.8 241.2 373.2 C239.0 375.8 240.0 378.8 240.0 382.0 C240.0 385.2 242.2 386.5 241.2 389.5 C240.2 392.5 238.2 394.2 235.0 397.0 C231.8 399.8 227.6 401.2 225.0 403.2 C222.4 405.2 221.8 404.2 222.0 407.0 C222.2 409.8 224.7 413.0 226.2 417.0 C227.8 421.0 228.2 423.5 230.0 427.0 C231.8 430.5 233.8 431.0 235.0 434.5 C236.2 438.0 234.8 442.0 236.2 444.5 C237.8 447.0 239.5 446.5 242.5 447.0 C245.5 447.5 251.2 447.0 251.2 447.0 C251.2 447.0 251.2 369.5 251.2 369.5Z" fill="#cc6c7a"/>
<path d="M251.2 407.0 C251.2 407.0 242.8 407.5 240.0 408.2 C237.2 409.0 237.2 409.0 237.5 410.8 C237.8 412.5 238.5 415.0 241.2 417.0 C244.0 419.0 251.2 420.8 251.2 420.8 C251.2 420.8 251.2 407.0 251.2 407.0Z" fill="#d9929c"/>
</g>
<clipPath id="t1"><rect x="248" y="332" width="248" height="166"/></clipPath>
<g clip-path="url(#t1)">
<path d="M243.0 327.0 C243.0 327.0 501.0 327.0 501.0 327.0 C501.0 327.0 501.0 503.0 501.0 503.0 C501.0 503.0 243.0 503.0 243.0 503.0 C243.0 503.0 243.0 327.0 243.0 327.0Z" fill="#c14759"/>
<path d="M246.8 330.8 C246.8 330.8 268.0 330.8 268.0 330.8 C268.0 330.8 270.5 338.2 269.2 342.0 C268.0 345.8 265.0 347.5 261.8 349.5 C258.5 351.5 256.0 351.2 253.0 352.0 C250.0 352.8 246.8 353.2 246.8 353.2 C246.8 353.2 246.8 330.8 246.8 330.8Z" fill="#b01c3b"/>
<path d="M285.5 330.8 C285.5 330.8 293.2 333.9 298.0 335.8 C302.8 337.6 304.8 339.8 309.2 340.0 C313.8 340.2 315.2 338.0 320.5 337.0 C325.8 336.0 328.8 336.2 335.5 335.0 C342.2 333.8 354.2 330.8 354.2 330.8 C354.2 330.8 285.5 330.8 285.5 330.8Z" fill="#b01c3b"/>
<path d="M246.8 368.2 C246.8 368.2 253.8 366.8 258.0 364.5 C262.2 362.2 264.5 360.0 268.0 357.0 C271.5 354.0 272.2 351.5 275.5 349.5 C278.8 347.5 281.0 346.5 284.2 347.0 C287.5 347.5 289.0 349.8 291.8 352.0 C294.5 354.2 294.8 356.8 298.0 358.2 C301.2 359.8 303.5 359.5 308.0 359.5 C312.5 359.5 316.0 359.5 320.5 358.2 C325.0 357.0 326.0 354.5 330.5 353.2 C335.0 352.0 338.0 351.8 343.0 352.0 C348.0 352.2 350.5 353.8 355.5 354.5 C360.5 355.2 364.2 356.5 368.0 355.8 C371.8 355.0 371.2 352.1 374.2 350.8 C377.2 349.4 380.5 350.8 383.0 349.0 C385.5 347.2 386.4 345.6 386.8 342.0 C387.1 338.4 385.0 330.8 385.0 330.8 C385.0 330.8 499.2 330.8 499.2 330.8 C499.2 330.8 499.2 507.0 499.2 507.0 C499.2 507.0 246.8 507.0 246.8 507.0 C246.8 507.0 246.8 368.2 246.8 368.2Z" fill="#cc6c7a"/>
<path d="M449.2 330.8 C449.2 330.8 450.5 336.0 451.8 339.5 C453.0 343.0 453.2 345.5 455.5 348.2 C457.8 351.0 460.0 352.5 463.0 353.2 C466.0 354.0 468.5 353.5 470.5 352.0 C472.5 350.5 473.2 348.5 473.0 345.8 C472.8 343.0 470.2 341.2 469.2 338.2 C468.2 335.2 468.0 330.8 468.0 330.8 C468.0 330.8 449.2 330.8 449.2 330.8Z" fill="#c14759"/>
<path d="M375.5 365.0 C375.5 365.0 381.8 365.0 381.8 365.0 C381.8 365.0 381.8 368.8 381.8 368.8 C381.8 368.8 375.5 368.8 375.5 368.8 C375.5 368.8 375.5 365.0 375.5 365.0Z" fill="#c14759"/>
<path d="M246.8 407.0 C246.8 407.0 250.8 403.0 253.0 399.5 C255.2 396.0 256.5 392.8 258.0 389.5 C259.5 386.2 258.5 385.2 260.5 383.2 C262.5 381.2 264.8 380.5 268.0 379.5 C271.2 378.5 274.0 377.2 276.8 378.2 C279.5 379.2 280.5 381.8 281.8 384.5 C283.0 387.2 281.8 388.8 283.0 392.0 C284.2 395.2 285.8 397.2 288.0 400.8 C290.2 404.2 292.8 406.8 294.2 409.5 C295.8 412.2 296.8 413.2 295.5 414.5 C294.2 415.8 290.2 417.2 288.0 415.8 C285.8 414.2 285.8 410.0 284.2 407.0 C282.8 404.0 282.5 402.0 280.5 400.8 C278.5 399.5 276.2 399.5 274.2 400.8 C272.2 402.0 271.0 404.2 270.5 407.0 C270.0 409.8 272.2 412.0 271.8 414.5 C271.2 417.0 270.2 418.0 268.0 419.5 C265.8 421.0 264.8 421.2 260.5 422.0 C256.2 422.8 246.8 423.2 246.8 423.2 C246.8 423.2 246.8 407.0 246.8 407.0Z" fill="#d9929c"/>
<path d="M290.5 387.0 C291.5 384.0 295.0 382.5 296.8 379.5 C298.5 376.5 296.5 374.0 299.2 372.0 C302.0 370.0 306.2 369.5 310.5 369.5 C314.8 369.5 317.5 370.8 320.5 372.0 C323.5 373.2 323.0 374.2 325.5 375.8 C328.0 377.2 329.5 378.8 333.0 379.5 C336.5 380.2 340.0 380.2 343.0 379.5 C346.0 378.8 346.8 378.0 348.0 375.8 C349.2 373.5 348.5 369.5 349.2 368.2 C350.0 367.0 351.0 367.2 351.8 369.5 C352.5 371.8 351.8 376.0 353.0 379.5 C354.2 383.0 355.5 384.5 358.0 387.0 C360.5 389.5 362.5 390.8 365.5 392.0 C368.5 393.2 369.5 393.2 373.0 393.2 C376.5 393.2 379.0 393.5 383.0 392.0 C387.0 390.5 389.5 388.8 393.0 385.8 C396.5 382.8 398.5 381.2 400.5 377.0 C402.5 372.8 402.5 370.0 403.0 364.5 C403.5 359.0 402.0 354.2 403.0 349.5 C404.0 344.8 405.5 343.2 408.0 340.8 C410.5 338.2 412.5 336.8 415.5 337.0 C418.5 337.2 420.0 340.0 423.0 342.0 C426.0 344.0 428.0 344.5 430.5 347.0 C433.0 349.5 432.5 351.8 435.5 354.5 C438.5 357.2 441.5 359.0 445.5 360.8 C449.5 362.5 452.0 361.5 455.5 363.2 C459.0 365.0 459.5 367.0 463.0 369.5 C466.5 372.0 469.0 374.0 473.0 375.8 C477.0 377.5 479.5 377.0 483.0 378.2 C486.5 379.5 487.2 380.0 490.5 382.0 C493.8 384.0 499.2 388.2 499.2 388.2 C499.2 388.2 499.2 457.0 499.2 457.0 C499.2 457.0 479.8 465.0 473.0 462.0 C466.2 459.0 468.5 448.0 465.5 442.0 C462.5 436.0 461.5 437.0 458.0 432.0 C454.5 427.0 452.5 421.8 448.0 417.0 C443.5 412.2 441.0 410.2 435.5 408.2 C430.0 406.2 425.5 408.4 420.5 407.0 C415.5 405.6 414.2 403.6 410.5 401.5 C406.8 399.4 405.2 398.0 401.8 396.5 C398.2 395.0 396.8 394.4 393.0 394.0 C389.2 393.6 387.0 394.4 383.0 394.5 C379.0 394.6 376.5 393.5 373.0 394.5 C369.5 395.5 368.5 397.6 365.5 399.5 C362.5 401.4 361.5 402.4 358.0 404.0 C354.5 405.6 352.5 406.4 348.0 407.8 C343.5 409.1 340.5 409.4 335.5 410.5 C330.5 411.6 328.0 412.1 323.0 413.0 C318.0 413.9 314.2 415.4 310.5 415.2 C306.8 415.1 305.8 414.4 304.2 412.0 C302.8 409.6 304.2 406.0 303.0 403.2 C301.8 400.5 300.2 400.0 298.0 398.2 C295.8 396.5 293.2 396.8 291.8 394.5 C290.2 392.2 289.5 390.0 290.5 387.0Z" fill="#d9929c"/>
<path d="M315.5 407.0 C316.9 405.8 319.5 404.5 323.0 403.2 C326.5 402.0 329.0 401.9 333.0 400.8 C337.0 399.6 339.2 398.5 343.0 397.5 C346.8 396.5 349.5 395.4 351.8 395.8 C354.0 396.1 355.0 397.8 354.2 399.0 C353.5 400.2 351.2 400.8 348.0 402.0 C344.8 403.2 342.0 403.8 338.0 405.0 C334.0 406.2 331.8 407.1 328.0 408.2 C324.2 409.4 321.6 410.5 319.2 410.8 C316.9 411.0 316.8 410.2 316.0 409.5 C315.2 408.8 314.1 408.2 315.5 407.0Z" fill="#e4b7bd"/>
<path d="M426.8 398.2 C427.9 396.9 430.0 396.6 433.0 396.2 C436.0 395.9 439.5 395.7 441.8 396.2 C444.0 396.8 444.8 397.6 444.2 399.0 C443.8 400.4 441.8 402.1 439.2 403.2 C436.8 404.4 434.1 405.1 431.8 405.0 C429.4 404.9 428.5 404.1 427.5 402.8 C426.5 401.4 425.6 399.6 426.8 398.2Z" fill="#e4b7bd"/>
<path d="M459.2 385.8 C460.0 384.4 462.2 384.0 465.5 384.0 C468.8 384.0 472.0 384.6 475.5 385.8 C479.0 386.9 480.2 387.5 483.0 389.5 C485.8 391.5 486.6 393.8 489.2 395.8 C491.9 397.8 494.0 398.2 496.0 399.5 C498.0 400.8 499.2 402.0 499.2 402.0 C499.2 402.0 499.2 424.5 499.2 424.5 C499.2 424.5 491.5 423.5 488.0 422.0 C484.5 420.5 483.0 419.5 481.8 417.0 C480.5 414.5 481.0 411.5 481.8 409.5 C482.5 407.5 486.2 408.0 485.5 407.0 C484.8 406.0 481.5 404.8 478.0 404.5 C474.5 404.2 471.0 406.2 468.0 405.8 C465.0 405.2 463.2 404.0 463.0 402.0 C462.8 400.0 467.0 398.0 466.8 395.8 C466.5 393.5 463.2 392.8 461.8 390.8 C460.2 388.8 458.5 387.1 459.2 385.8Z" fill="#e4b7bd"/>
<path d="M448.0 417.0 C447.0 414.5 452.5 419.8 455.5 422.0 C458.5 424.2 459.5 426.2 463.0 428.2 C466.5 430.2 470.0 429.8 473.0 432.0 C476.0 434.2 476.8 436.0 478.0 439.5 C479.2 443.0 480.0 446.0 479.2 449.5 C478.5 453.0 476.5 456.5 474.2 457.0 C472.0 457.5 470.8 456.5 468.0 452.0 C465.2 447.5 464.5 441.5 460.5 434.5 C456.5 427.5 449.0 419.5 448.0 417.0Z" fill="#cc6c7a"/>
<path d="M458.0 430.8 C458.8 430.4 461.8 432.0 464.2 433.2 C466.8 434.5 468.5 435.0 470.5 437.0 C472.5 439.0 473.5 440.2 474.2 443.2 C475.0 446.2 474.8 449.0 474.2 452.0 C473.8 455.0 473.2 458.2 471.8 458.2 C470.2 458.2 468.2 455.2 466.8 452.0 C465.2 448.8 465.5 445.4 464.2 442.0 C463.0 438.6 461.8 437.2 460.5 435.0 C459.2 432.8 457.2 431.1 458.0 430.8Z" fill="#c14759"/>
<path d="M483.0 459.0 C483.0 459.0 499.2 459.0 499.2 459.0 C499.2 459.0 499.2 487.0 499.2 487.0 C499.2 487.0 483.0 487.0 483.0 487.0 C483.0 487.0 483.0 459.0 483.0 459.0Z" fill="#b01c3b"/>
</g>
<clipPath id="t2"><rect x="496" y="332" width="248" height="166"/></clipPath>
<g clip-path="url(#t2)">
<path d="M494.8 330.8 C494.8 330.8 583.5 330.8 583.5 330.8 C583.5 330.8 589.8 342.0 592.2 347.0 C594.8 352.0 591.8 353.2 596.0 355.8 C600.2 358.2 610.4 356.8 613.5 359.5 C616.6 362.2 611.4 365.5 611.5 369.5 C611.6 373.5 612.1 376.0 614.0 379.5 C615.9 383.0 618.1 384.8 621.0 387.0 C623.9 389.2 625.8 391.0 628.5 390.8 C631.2 390.5 632.8 387.8 634.8 385.8 C636.8 383.8 638.8 383.0 638.5 380.8 C638.2 378.5 634.2 377.2 633.5 374.5 C632.8 371.8 633.5 369.0 634.8 367.0 C636.0 365.0 638.0 364.0 639.8 364.5 C641.5 365.0 642.5 367.0 643.5 369.5 C644.5 372.0 645.0 374.0 644.8 377.0 C644.5 380.0 641.8 381.5 642.2 384.5 C642.8 387.5 645.2 388.5 647.2 392.0 C649.2 395.5 650.5 397.5 652.2 402.0 C654.0 406.5 656.2 410.8 656.0 414.5 C655.8 418.2 654.0 419.5 651.0 420.8 C648.0 422.0 644.5 422.0 641.0 420.8 C637.5 419.5 636.0 417.2 633.5 414.5 C631.0 411.8 631.5 409.0 628.5 407.0 C625.5 405.0 622.0 405.8 618.5 404.5 C615.0 403.2 613.5 403.2 611.0 400.8 C608.5 398.2 608.0 395.2 606.0 392.0 C604.0 388.8 604.0 386.6 601.0 384.5 C598.0 382.4 595.0 382.2 591.0 381.5 C587.0 380.8 584.0 379.9 581.0 380.8 C578.0 381.6 576.8 383.5 576.0 385.8 C575.2 388.0 575.8 389.5 577.2 392.0 C578.8 394.5 580.8 396.2 583.5 398.2 C586.2 400.2 588.5 399.8 591.0 402.0 C593.5 404.2 593.5 406.8 596.0 409.5 C598.5 412.2 601.0 412.8 603.5 415.8 C606.0 418.8 606.5 421.5 608.5 424.5 C610.5 427.5 610.5 428.2 613.5 430.8 C616.5 433.2 619.8 434.5 623.5 437.0 C627.2 439.5 629.0 440.2 632.2 443.2 C635.5 446.2 637.2 448.2 639.8 452.0 C642.2 455.8 643.5 458.0 644.8 462.0 C646.0 466.0 646.2 468.0 646.0 472.0 C645.8 476.0 645.0 478.8 643.5 482.0 C642.0 485.2 641.5 487.0 638.5 488.2 C635.5 489.5 633.0 488.8 628.5 488.2 C624.0 487.8 620.0 485.5 616.0 485.8 C612.0 486.0 612.5 488.2 608.5 489.5 C604.5 490.8 603.5 491.2 596.0 492.0 C588.5 492.8 580.0 493.2 571.0 493.2 C562.0 493.2 558.5 489.2 551.0 492.0 C543.5 494.8 533.5 507.0 533.5 507.0 C533.5 507.0 494.8 507.0 494.8 507.0 C494.8 507.0 494.8 330.8 494.8 330.8Z" fill="#c14759"/>
<path d="M560.5 369.5 C561.0 367.2 562.6 364.1 564.8 362.0 C566.9 359.9 568.2 359.8 571.0 359.0 C573.8 358.2 575.8 357.6 578.5 358.2 C581.2 358.9 583.4 360.0 584.8 362.0 C586.1 364.0 586.0 365.8 585.5 368.2 C585.0 370.8 584.1 372.8 582.2 374.5 C580.4 376.2 578.8 376.8 576.0 377.0 C573.2 377.2 571.2 376.5 568.5 375.8 C565.8 375.0 563.9 374.5 562.2 373.2 C560.6 372.0 560.0 371.8 560.5 369.5Z" fill="#b01c3b"/>
<path d="M494.8 330.8 C494.8 330.8 528.5 330.8 528.5 330.8 C528.5 330.8 531.5 336.2 533.5 339.5 C535.5 342.8 536.2 343.5 538.5 347.0 C540.8 350.5 543.0 353.0 544.8 357.0 C546.5 361.0 547.0 363.5 547.2 367.0 C547.5 370.5 547.2 372.2 546.0 374.5 C544.8 376.8 544.0 378.0 541.0 378.2 C538.0 378.5 535.0 376.8 531.0 375.8 C527.0 374.8 525.0 373.2 521.0 373.2 C517.0 373.2 514.0 374.2 511.0 375.8 C508.0 377.2 507.0 378.8 506.0 380.8 C505.0 382.8 504.5 384.2 506.0 385.8 C507.5 387.2 510.0 388.0 513.5 388.2 C517.0 388.5 520.0 386.2 523.5 387.0 C527.0 387.8 528.5 389.5 531.0 392.0 C533.5 394.5 533.5 396.8 536.0 399.5 C538.5 402.2 541.2 403.2 543.5 405.8 C545.8 408.2 546.0 408.8 547.2 412.0 C548.5 415.2 548.8 418.0 549.8 422.0 C550.8 426.0 551.2 428.5 552.2 432.0 C553.2 435.5 551.5 437.8 554.8 439.5 C558.0 441.2 563.2 440.0 568.5 440.8 C573.8 441.5 576.5 442.0 581.0 443.2 C585.5 444.5 587.5 445.8 591.0 447.0 C594.5 448.2 595.5 449.5 598.5 449.5 C601.5 449.5 603.8 446.5 606.0 447.0 C608.2 447.5 609.2 449.5 609.8 452.0 C610.2 454.5 607.2 457.5 608.5 459.5 C609.8 461.5 613.2 461.0 616.0 462.0 C618.8 463.0 621.8 463.2 622.2 464.5 C622.8 465.8 620.8 467.4 618.5 468.2 C616.2 469.1 613.5 469.2 611.0 469.0 C608.5 468.8 607.5 466.4 606.0 467.0 C604.5 467.6 603.5 469.8 603.5 472.0 C603.5 474.2 607.0 477.2 606.0 478.2 C605.0 479.2 601.2 478.2 598.5 477.0 C595.8 475.8 594.5 474.5 592.2 472.0 C590.0 469.5 589.5 467.0 587.2 464.5 C585.0 462.0 583.8 461.5 581.0 459.5 C578.2 457.5 576.0 456.8 573.5 454.5 C571.0 452.2 571.5 449.8 568.5 448.2 C565.5 446.8 563.0 447.5 558.5 447.0 C554.0 446.5 549.8 445.2 546.0 445.8 C542.2 446.2 541.5 447.2 539.8 449.5 C538.0 451.8 537.2 453.5 537.2 457.0 C537.2 460.5 540.0 463.5 539.8 467.0 C539.5 470.5 538.2 471.5 536.0 474.5 C533.8 477.5 531.0 479.5 528.5 482.0 C526.0 484.5 527.0 488.0 523.5 487.0 C520.0 486.0 516.8 480.0 511.0 477.0 C505.2 474.0 494.8 472.0 494.8 472.0 C494.8 472.0 494.8 330.8 494.8 330.8Z" fill="#cc6c7a"/>
<path d="M494.8 388.2 C494.8 388.2 500.2 386.5 503.5 387.0 C506.8 387.5 508.0 389.0 511.0 390.8 C514.0 392.5 515.5 393.0 518.5 395.8 C521.5 398.5 523.2 401.2 526.0 404.5 C528.8 407.8 530.5 409.0 532.2 412.0 C534.0 415.0 535.0 416.5 534.8 419.5 C534.5 422.5 532.2 423.5 531.0 427.0 C529.8 430.5 528.8 433.5 528.5 437.0 C528.2 440.5 530.8 441.5 529.8 444.5 C528.8 447.5 526.0 449.8 523.5 452.0 C521.0 454.2 519.8 453.8 517.2 455.8 C514.8 457.8 515.5 460.8 511.0 462.0 C506.5 463.2 494.8 462.0 494.8 462.0 C494.8 462.0 494.8 388.2 494.8 388.2Z" fill="#d9929c"/>
<path d="M494.8 403.2 C494.8 403.2 500.5 404.5 503.5 406.5 C506.5 408.5 507.5 410.4 509.8 413.2 C512.0 416.1 513.5 417.5 514.8 420.8 C516.0 424.0 516.8 427.2 516.0 429.5 C515.2 431.8 512.8 432.2 511.0 432.0 C509.2 431.8 510.5 429.2 507.2 428.2 C504.0 427.2 494.8 427.0 494.8 427.0 C494.8 427.0 494.8 403.2 494.8 403.2Z" fill="#e4b7bd"/>
<path d="M494.8 459.0 C494.8 459.0 504.1 458.4 505.5 459.0 C506.9 459.6 508.6 461.7 509.0 464.5 C509.4 467.3 510.4 484.8 509.0 487.0 C507.6 489.2 494.8 487.0 494.8 487.0 C494.8 487.0 494.8 459.0 494.8 459.0Z" fill="#b01c3b"/>
<path d="M671.0 330.8 C671.0 330.8 668.5 338.9 668.5 342.0 C668.5 345.1 669.5 346.2 671.0 346.5 C672.5 346.8 673.0 344.4 676.0 343.2 C679.0 342.1 681.5 341.5 686.0 340.8 C690.5 340.0 697.0 340.2 698.5 339.5 C700.0 338.8 696.5 338.0 693.5 337.0 C690.5 336.0 686.5 335.8 683.5 334.5 C680.5 333.2 678.5 330.8 678.5 330.8 C678.5 330.8 671.0 330.8 671.0 330.8Z" fill="#c14759"/>
<path d="M747.2 334.5 C747.2 334.5 740.5 339.0 737.2 342.0 C734.0 345.0 733.2 346.8 731.0 349.5 C728.8 352.2 727.2 352.8 726.0 355.8 C724.8 358.8 725.8 361.0 724.8 364.5 C723.8 368.0 722.8 369.8 721.0 373.2 C719.2 376.8 718.0 378.2 716.0 382.0 C714.0 385.8 713.0 388.0 711.0 392.0 C709.0 396.0 707.9 398.0 706.0 402.0 C704.1 406.0 703.0 408.0 701.5 412.0 C700.0 416.0 699.4 418.0 698.5 422.0 C697.6 426.0 698.2 428.5 697.2 432.0 C696.2 435.5 695.8 436.0 693.5 439.5 C691.2 443.0 688.8 445.5 686.0 449.5 C683.2 453.5 681.6 455.5 679.8 459.5 C677.9 463.5 676.5 465.5 676.5 469.5 C676.5 473.5 679.6 476.0 679.8 479.5 C679.9 483.0 679.0 484.5 677.2 487.0 C675.5 489.5 672.8 488.0 671.0 492.0 C669.2 496.0 668.5 507.0 668.5 507.0 C668.5 507.0 747.2 507.0 747.2 507.0 C747.2 507.0 747.2 334.5 747.2 334.5Z" fill="#c14759"/>
<path d="M747.2 347.0 C747.2 347.0 742.5 350.0 739.8 352.0 C737.0 354.0 735.2 354.5 733.5 357.0 C731.8 359.5 732.0 361.2 731.0 364.5 C730.0 367.8 730.2 369.8 728.5 373.2 C726.8 376.8 724.5 378.2 722.2 382.0 C720.0 385.8 719.2 388.0 717.2 392.0 C715.2 396.0 714.0 398.0 712.2 402.0 C710.5 406.0 709.8 408.0 708.5 412.0 C707.2 416.0 706.8 418.0 706.0 422.0 C705.2 426.0 705.8 428.2 704.8 432.0 C703.8 435.8 703.2 437.2 701.0 440.8 C698.8 444.2 696.2 445.8 693.5 449.5 C690.8 453.2 689.2 455.5 687.2 459.5 C685.2 463.5 684.0 465.5 683.5 469.5 C683.0 473.5 683.8 476.5 684.8 479.5 C685.8 482.5 676.0 483.5 688.5 484.5 C701.0 485.5 747.2 484.5 747.2 484.5 C747.2 484.5 747.2 347.0 747.2 347.0Z" fill="#cc6c7a"/>
<path d="M747.2 357.0 C747.2 357.0 742.0 358.2 739.8 360.8 C737.5 363.2 737.5 365.8 736.0 369.5 C734.5 373.2 734.5 375.8 732.2 379.5 C730.0 383.2 727.2 384.8 724.8 388.2 C722.2 391.8 721.5 393.2 719.8 397.0 C718.0 400.8 717.5 403.0 716.0 407.0 C714.5 411.0 713.5 413.0 712.2 417.0 C711.0 421.0 710.5 423.2 709.8 427.0 C709.0 430.8 707.8 433.8 708.5 435.8 C709.2 437.8 711.0 437.8 713.5 437.0 C716.0 436.2 714.2 433.0 721.0 432.0 C727.8 431.0 747.2 432.0 747.2 432.0 C747.2 432.0 747.2 357.0 747.2 357.0Z" fill="#d9929c"/>
<path d="M689.8 457.0 C691.0 454.0 691.5 453.5 693.5 452.0 C695.5 450.5 697.5 449.5 699.8 449.5 C702.0 449.5 704.0 449.5 704.8 452.0 C705.5 454.5 704.5 458.0 703.5 462.0 C702.5 466.0 701.2 468.0 699.8 472.0 C698.2 476.0 697.8 479.5 696.0 482.0 C694.2 484.5 692.8 485.0 691.0 484.5 C689.2 484.0 688.0 483.0 687.2 479.5 C686.5 476.0 686.8 471.5 687.2 467.0 C687.8 462.5 688.5 460.0 689.8 457.0Z" fill="#d9929c"/>
<path d="M747.2 364.5 C747.2 364.5 742.0 368.8 739.8 372.0 C737.5 375.2 738.0 377.2 736.0 380.8 C734.0 384.2 732.0 386.2 729.8 389.5 C727.5 392.8 726.2 393.5 724.8 397.0 C723.2 400.5 722.0 404.5 722.2 407.0 C722.5 409.5 724.0 409.5 726.0 409.5 C728.0 409.5 729.8 408.5 732.2 407.0 C734.8 405.5 735.5 404.0 738.5 402.0 C741.5 400.0 747.2 397.0 747.2 397.0 C747.2 397.0 747.2 364.5 747.2 364.5Z" fill="#e4b7bd"/>
<path d="M692.2 459.5 C693.2 456.5 694.5 455.5 696.0 454.5 C697.5 453.5 699.0 453.0 699.8 454.5 C700.5 456.0 700.2 458.5 699.8 462.0 C699.2 465.5 698.2 468.5 697.2 472.0 C696.2 475.5 696.0 478.0 694.8 479.5 C693.5 481.0 691.8 481.5 691.0 479.5 C690.2 477.5 690.8 473.5 691.0 469.5 C691.2 465.5 691.2 462.5 692.2 459.5Z" fill="#e4b7bd"/>
<path d="M747.2 372.0 C747.2 372.0 743.0 374.2 741.0 377.0 C739.0 379.8 737.5 382.2 737.2 385.8 C737.0 389.2 737.8 393.2 739.8 394.5 C741.8 395.8 747.2 392.0 747.2 392.0 C747.2 392.0 747.2 372.0 747.2 372.0Z" fill="#eaeaea"/>
<path d="M693.5 462.0 C694.4 458.5 696.4 457.8 697.2 458.2 C698.1 458.8 698.2 461.2 698.0 464.5 C697.8 467.8 697.0 472.2 696.0 474.5 C695.0 476.8 693.5 478.2 693.0 475.8 C692.5 473.2 692.6 465.5 693.5 462.0Z" fill="#eaeaea"/>
<path d="M747.2 378.2 C747.2 378.2 743.6 380.0 742.2 382.0 C740.9 384.0 740.2 386.2 740.5 388.2 C740.8 390.2 742.1 391.5 743.5 392.0 C744.9 392.5 747.2 390.8 747.2 390.8 C747.2 390.8 747.2 378.2 747.2 378.2Z" fill="#ffffff"/>
<path d="M691.0 479.5 C691.2 478.5 692.8 477.8 693.5 478.2 C694.2 478.8 695.0 481.0 694.8 482.0 C694.5 483.0 693.0 483.8 692.2 483.2 C691.5 482.8 690.8 480.5 691.0 479.5Z" fill="#ffffff"/>
<path d="M747.2 404.5 C747.2 404.5 742.5 408.0 739.8 410.8 C737.0 413.5 736.0 414.8 733.5 418.2 C731.0 421.8 729.8 424.5 727.2 428.2 C724.8 432.0 723.2 434.2 721.0 437.0 C718.8 439.8 716.0 440.5 716.0 442.0 C716.0 443.5 714.8 447.5 721.0 444.5 C727.2 441.5 747.2 427.0 747.2 427.0 C747.2 427.0 747.2 404.5 747.2 404.5Z" fill="#c14759"/>
<path d="M747.2 409.5 C747.2 409.5 743.5 413.0 741.0 415.8 C738.5 418.5 736.8 420.2 734.8 423.2 C732.8 426.2 730.8 429.0 731.0 430.8 C731.2 432.5 732.8 433.8 736.0 432.0 C739.2 430.2 747.2 422.0 747.2 422.0 C747.2 422.0 747.2 409.5 747.2 409.5Z" fill="#b01c3b"/>
</g>
<clipPath id="t3"><rect x="496" y="498" width="248" height="166"/></clipPath>
<g clip-path="url(#t3)">
<path d="M658.5 496.8 C658.5 496.8 654.0 501.9 651.0 504.2 C648.0 506.6 646.2 506.9 643.5 508.5 C640.8 510.1 639.4 510.6 637.2 512.5 C635.1 514.4 634.1 515.4 633.0 518.0 C631.9 520.6 630.9 523.0 631.5 525.5 C632.1 528.0 633.1 530.0 636.0 530.5 C638.9 531.0 642.0 529.0 646.0 528.0 C650.0 527.0 651.0 526.2 656.0 525.5 C661.0 524.8 666.0 524.8 671.0 524.2 C676.0 523.8 677.0 528.5 681.0 523.0 C685.0 517.5 691.0 496.8 691.0 496.8 C691.0 496.8 658.5 496.8 658.5 496.8Z" fill="#c14759"/>
<path d="M662.2 496.8 C662.2 496.8 656.8 502.9 653.5 505.5 C650.2 508.1 648.8 508.4 646.0 510.0 C643.2 511.6 641.8 511.6 639.8 513.5 C637.8 515.4 636.8 517.0 636.0 519.2 C635.2 521.5 634.5 523.6 636.0 525.0 C637.5 526.4 639.5 526.2 643.5 526.0 C647.5 525.8 650.5 524.4 656.0 523.8 C661.5 523.1 666.0 523.4 671.0 523.0 C676.0 522.6 677.2 527.0 681.0 521.8 C684.8 516.5 689.8 496.8 689.8 496.8 C689.8 496.8 662.2 496.8 662.2 496.8Z" fill="#cc6c7a"/>
<path d="M666.0 496.8 C666.0 496.8 661.8 502.5 658.5 505.5 C655.2 508.5 652.8 509.9 649.8 511.8 C646.8 513.6 645.5 513.4 643.5 515.0 C641.5 516.6 639.8 518.4 639.8 520.0 C639.8 521.6 640.2 522.5 643.5 523.0 C646.8 523.5 650.5 522.8 656.0 522.5 C661.5 522.2 666.2 522.1 671.0 521.8 C675.8 521.4 676.4 525.5 679.8 520.5 C683.1 515.5 688.0 496.8 688.0 496.8 C688.0 496.8 666.0 496.8 666.0 496.8Z" fill="#d9929c"/>
<path d="M669.8 496.8 C669.8 496.8 666.2 502.5 663.5 505.5 C660.8 508.5 659.0 509.8 656.0 511.8 C653.0 513.8 650.8 514.0 648.5 515.5 C646.2 517.0 644.2 518.0 644.8 519.2 C645.2 520.5 646.8 521.4 651.0 521.8 C655.2 522.1 660.5 521.5 666.0 521.0 C671.5 520.5 674.5 524.1 678.5 519.2 C682.5 514.4 686.0 496.8 686.0 496.8 C686.0 496.8 669.8 496.8 669.8 496.8Z" fill="#e4b7bd"/>
<path d="M671.0 501.8 C669.0 503.0 671.0 505.6 668.5 508.0 C666.0 510.4 662.0 511.8 658.5 513.5 C655.0 515.2 652.2 515.5 651.0 516.8 C649.8 518.0 649.2 519.4 652.2 520.0 C655.2 520.6 661.0 520.4 666.0 520.0 C671.0 519.6 674.0 520.9 677.2 518.0 C680.5 515.1 682.0 508.8 682.2 505.5 C682.5 502.2 680.8 502.5 678.5 501.8 C676.2 501.0 673.0 500.5 671.0 501.8Z" fill="#eaeaea"/>
<path d="M673.0 505.5 C671.8 506.5 672.9 508.6 670.5 510.5 C668.1 512.4 663.9 513.6 661.0 515.0 C658.1 516.4 656.0 516.6 656.0 517.5 C656.0 518.4 658.0 519.1 661.0 519.2 C664.0 519.4 668.0 518.8 671.0 518.0 C674.0 517.2 674.2 517.2 676.0 515.5 C677.8 513.8 679.6 511.2 679.8 509.2 C679.9 507.2 677.9 506.2 676.5 505.5 C675.1 504.8 674.2 504.5 673.0 505.5Z" fill="#ffffff"/>
<path d="M541.0 496.8 C541.0 496.8 541.2 501.5 542.2 503.0 C543.2 504.5 544.5 505.5 546.0 504.2 C547.5 503.0 549.8 496.8 549.8 496.8 C549.8 496.8 541.0 496.8 541.0 496.8Z" fill="#c14759"/>
</g>
<clipPath id="t4"><rect x="0" y="166" width="248" height="166"/></clipPath>
<g clip-path="url(#t4)">
<path d="M113.8 246.0 C117.0 248.5 115.5 253.7 116.2 258.5 C117.0 263.3 116.5 266.4 117.5 270.0 C118.5 273.6 119.5 273.5 121.0 276.2 C122.5 279.0 123.3 280.8 125.2 283.8 C127.2 286.7 128.7 288.1 130.5 291.0 C132.3 293.9 133.6 295.0 134.2 298.0 C134.9 301.0 133.0 302.9 133.8 306.0 C134.5 309.1 136.3 310.4 138.0 313.2 C139.7 316.1 140.7 317.4 142.2 320.5 C143.8 323.6 144.8 325.4 146.0 329.0 C147.2 332.6 148.5 338.5 148.5 338.5 C148.5 338.5 100.0 338.5 100.0 338.5 C100.0 338.5 97.2 264.5 100.0 246.0 C102.8 227.5 110.5 243.5 113.8 246.0Z" fill="#c14759"/>
<path d="M107.5 279.8 C109.9 280.1 110.3 280.7 112.0 281.5 C113.7 282.3 114.2 282.2 115.8 283.8 C117.3 285.2 118.3 286.7 120.0 289.0 C121.7 291.3 123.1 292.5 124.2 295.2 C125.4 298.0 125.1 299.8 125.8 302.8 C126.4 305.7 126.3 307.2 127.5 310.0 C128.7 312.8 129.8 313.9 131.5 316.5 C133.2 319.1 134.7 320.1 136.0 322.8 C137.3 325.4 137.2 326.9 138.0 330.0 C138.8 333.1 140.0 338.5 140.0 338.5 C140.0 338.5 100.0 338.5 100.0 338.5 C100.0 338.5 98.5 291.5 100.0 279.8 C101.5 268.0 105.1 279.4 107.5 279.8Z" fill="#cc6c7a"/>
<path d="M109.0 291.0 C109.8 289.7 112.2 289.1 113.8 289.5 C115.3 289.9 115.8 291.4 117.0 293.2 C118.2 295.1 118.9 296.2 119.5 298.5 C120.1 300.8 120.2 303.1 120.0 304.8 C119.8 306.4 119.4 306.8 118.5 306.5 C117.6 306.2 116.7 304.9 115.5 303.5 C114.3 302.1 113.6 301.2 112.5 299.8 C111.4 298.2 110.7 297.8 110.0 296.0 C109.3 294.2 108.2 292.3 109.0 291.0Z" fill="#d9929c"/>
<path d="M175.0 213.5 C175.0 212.5 179.2 211.0 182.5 209.0 C185.8 207.0 187.8 204.7 191.2 203.5 C194.8 202.3 198.8 202.2 200.0 203.0 C201.2 203.8 199.5 205.8 197.5 207.2 C195.5 208.8 193.0 209.2 190.0 210.5 C187.0 211.8 185.5 213.4 182.5 214.0 C179.5 214.6 175.0 214.5 175.0 213.5Z" fill="#c14759"/>
<path d="M229.0 191.5 C229.2 190.2 230.9 188.3 232.0 186.0 C233.1 183.7 233.7 181.3 234.5 180.0 C235.3 178.7 236.1 178.1 236.0 179.5 C235.9 180.9 235.0 184.4 234.0 187.0 C233.0 189.6 232.0 191.6 231.0 192.5 C230.0 193.4 228.8 192.8 229.0 191.5Z" fill="#c14759"/>
</g>
<clipPath id="t5"><rect x="248" y="166" width="248" height="166"/></clipPath>
<g clip-path="url(#t5)">
<path d="M258.0 222.2 C257.9 220.8 260.2 215.5 261.0 215.5 C261.8 215.5 265.9 220.8 266.0 222.2 C266.1 223.7 262.6 229.8 261.8 229.8 C260.9 229.8 258.1 223.7 258.0 222.2Z" fill="#c14759"/>
<path d="M499.2 207.8 C499.2 207.8 494.5 209.3 491.8 210.0 C489.0 210.7 488.2 211.8 485.5 211.0 C482.8 210.2 481.5 208.5 478.0 206.0 C474.5 203.5 472.0 201.2 468.0 198.5 C464.0 195.8 462.0 192.8 458.0 192.2 C454.0 191.8 451.5 194.0 448.0 196.0 C444.5 198.0 443.2 199.2 440.5 202.2 C437.8 205.2 435.8 207.2 434.2 211.0 C432.8 214.8 432.2 217.5 433.0 221.0 C433.8 224.5 435.0 226.0 438.0 228.5 C441.0 231.0 444.5 232.2 448.0 233.5 C451.5 234.8 453.0 233.2 455.5 234.8 C458.0 236.2 460.5 238.2 460.5 241.0 C460.5 243.8 458.5 245.8 455.5 248.5 C452.5 251.2 450.0 252.8 445.5 254.8 C441.0 256.8 437.5 257.2 433.0 258.5 C428.5 259.8 426.2 259.8 423.0 261.0 C419.8 262.2 417.2 262.8 416.8 264.8 C416.2 266.8 418.2 268.8 420.5 271.0 C422.8 273.2 427.5 273.0 428.0 276.0 C428.5 279.0 423.5 282.5 423.0 286.0 C422.5 289.5 424.9 290.5 425.5 293.5 C426.1 296.5 427.0 298.2 426.0 301.0 C425.0 303.8 423.6 304.8 420.5 307.2 C417.4 309.8 414.0 311.5 410.5 313.5 C407.0 315.5 406.0 317.2 403.0 317.2 C400.0 317.2 398.5 315.2 395.5 313.5 C392.5 311.8 391.5 310.0 388.0 308.5 C384.5 307.0 381.0 305.5 378.0 306.0 C375.0 306.5 374.2 308.5 373.0 311.0 C371.8 313.5 370.8 315.5 371.8 318.5 C372.8 321.5 377.5 323.5 378.0 326.0 C378.5 328.5 376.2 328.5 374.2 331.0 C372.2 333.5 368.0 338.5 368.0 338.5 C368.0 338.5 499.2 338.5 499.2 338.5 C499.2 338.5 499.2 207.8 499.2 207.8Z" fill="#c14759"/>
<path d="M499.2 247.2 C499.2 247.2 492.5 250.2 489.2 253.5 C486.0 256.8 485.0 259.5 483.0 263.5 C481.0 267.5 479.2 269.5 479.2 273.5 C479.2 277.5 481.2 280.2 483.0 283.5 C484.8 286.8 484.8 288.1 488.0 289.8 C491.2 291.4 499.2 291.5 499.2 291.5 C499.2 291.5 499.2 247.2 499.2 247.2Z" fill="#b01c3b"/>
<path d="M479.2 302.2 C479.2 300.9 482.4 299.6 484.2 299.8 C486.1 299.9 488.5 301.6 488.5 303.0 C488.5 304.4 486.1 306.6 484.2 306.5 C482.4 306.4 479.2 303.6 479.2 302.2Z" fill="#b01c3b"/>
<path d="M483.0 225.5 C483.0 224.8 485.1 223.9 486.8 224.0 C488.4 224.1 491.0 225.3 491.0 226.0 C491.0 226.7 488.4 227.6 486.8 227.5 C485.1 227.4 483.0 226.2 483.0 225.5Z" fill="#cc6c7a"/>
<path d="M383.0 338.5 C383.0 338.5 384.0 330.3 387.0 327.8 C390.0 325.2 394.1 326.2 398.0 325.8 C401.9 325.2 402.0 324.9 406.5 325.2 C411.0 325.6 416.0 326.7 420.5 327.2 C425.0 327.8 424.8 327.9 429.0 328.0 C433.2 328.1 437.9 327.2 441.5 327.8 C445.1 328.2 445.9 328.4 447.2 330.5 C448.6 332.6 448.5 338.5 448.5 338.5 C448.5 338.5 383.0 338.5 383.0 338.5Z" fill="#cc6c7a"/>
<path d="M469.2 338.5 C469.2 338.5 469.9 333.1 471.2 330.5 C472.6 327.9 474.1 327.4 476.2 325.5 C478.4 323.6 479.4 322.0 482.0 321.0 C484.6 320.0 486.1 320.4 489.5 320.5 C492.9 320.6 499.2 321.5 499.2 321.5 C499.2 321.5 499.2 338.5 499.2 338.5 C499.2 338.5 469.2 338.5 469.2 338.5Z" fill="#cc6c7a"/>
<path d="M266.0 323.0 C267.0 320.5 270.4 324.8 273.0 326.0 C275.6 327.2 276.8 327.6 279.2 329.0 C281.8 330.4 285.5 333.0 285.5 333.0 C285.5 333.0 285.5 338.5 285.5 338.5 C285.5 338.5 268.0 338.5 268.0 338.5 C268.0 338.5 265.0 325.5 266.0 323.0Z" fill="#c14759"/>
<path d="M447.5 338.5 C447.5 338.5 447.1 330.9 448.0 327.2 C448.9 323.6 449.2 322.4 451.8 320.5 C454.2 318.6 457.2 317.8 460.5 317.5 C463.8 317.2 465.7 317.3 468.0 319.0 C470.3 320.7 471.0 322.1 472.0 326.0 C473.0 329.9 473.0 338.5 473.0 338.5 C473.0 338.5 447.5 338.5 447.5 338.5Z" fill="#c14759"/>
</g>
<clipPath id="t6"><rect x="496" y="166" width="248" height="166"/></clipPath>
<g clip-path="url(#t6)">
<path d="M494.8 207.5 C494.8 207.5 499.2 208.6 503.5 209.2 C507.8 209.9 511.5 211.9 516.0 211.0 C520.5 210.1 520.5 206.5 526.0 204.8 C531.5 203.0 538.8 203.8 543.5 202.2 C548.2 200.8 546.8 199.8 549.8 197.2 C552.8 194.8 554.2 193.5 558.5 189.8 C562.8 186.0 567.5 179.8 571.0 178.5 C574.5 177.2 573.5 180.5 576.0 183.5 C578.5 186.5 579.5 189.5 583.5 193.5 C587.5 197.5 592.0 200.0 596.0 203.5 C600.0 207.0 600.5 208.0 603.5 211.0 C606.5 214.0 610.2 215.0 611.0 218.5 C611.8 222.0 608.5 224.5 607.2 228.5 C606.0 232.5 605.5 235.0 604.8 238.5 C604.0 242.0 605.2 243.0 603.5 246.0 C601.8 249.0 600.0 250.5 596.0 253.5 C592.0 256.5 588.0 257.5 583.5 261.0 C579.0 264.5 577.0 266.8 573.5 271.0 C570.0 275.2 569.0 280.8 566.0 282.2 C563.0 283.8 561.0 280.2 558.5 278.5 C556.0 276.8 554.8 276.2 553.5 273.5 C552.2 270.8 553.8 267.8 552.2 264.8 C550.8 261.8 548.8 260.8 546.0 258.5 C543.2 256.2 542.0 255.2 538.5 253.5 C535.0 251.8 532.5 250.8 528.5 249.8 C524.5 248.8 523.0 248.5 518.5 248.5 C514.0 248.5 510.8 249.8 506.0 249.8 C501.2 249.8 494.8 248.5 494.8 248.5 C494.8 248.5 494.8 207.5 494.8 207.5Z" fill="#c14759"/>
<path d="M611.5 219.8 C612.6 218.4 615.6 217.5 618.5 217.2 C621.4 217.0 623.5 216.8 626.0 218.5 C628.5 220.2 628.5 223.2 631.0 226.0 C633.5 228.8 635.8 230.0 638.5 232.2 C641.2 234.5 643.2 235.2 644.8 237.2 C646.2 239.2 646.8 240.5 646.0 242.2 C645.2 244.0 643.2 246.0 641.0 246.0 C638.8 246.0 636.5 244.2 634.8 242.2 C633.0 240.2 634.5 237.8 632.2 236.0 C630.0 234.2 626.5 235.0 623.5 233.5 C620.5 232.0 619.4 230.4 617.2 228.5 C615.1 226.6 614.1 225.8 613.0 224.0 C611.9 222.2 610.4 221.1 611.5 219.8Z" fill="#c14759"/>
<path d="M654.8 222.2 C655.2 219.5 656.2 218.0 658.5 216.0 C660.8 214.0 662.5 212.8 666.0 212.2 C669.5 211.8 672.5 212.5 676.0 213.5 C679.5 214.5 681.5 214.8 683.5 217.2 C685.5 219.8 685.2 222.2 686.0 226.0 C686.8 229.8 685.8 232.5 687.2 236.0 C688.8 239.5 690.8 240.0 693.5 243.5 C696.2 247.0 698.2 249.5 701.0 253.5 C703.8 257.5 705.2 259.5 707.2 263.5 C709.2 267.5 710.5 270.2 711.0 273.5 C711.5 276.8 711.0 278.0 709.8 279.8 C708.5 281.5 706.8 283.0 704.8 282.2 C702.8 281.5 701.5 278.5 699.8 276.0 C698.0 273.5 698.2 271.2 696.0 269.8 C693.8 268.2 691.5 268.5 688.5 268.5 C685.5 268.5 684.0 270.5 681.0 269.8 C678.0 269.0 676.5 267.5 673.5 264.8 C670.5 262.0 668.8 259.5 666.0 256.0 C663.2 252.5 661.8 250.8 659.8 247.2 C657.8 243.8 656.8 242.0 656.0 238.5 C655.2 235.0 656.2 233.0 656.0 229.8 C655.8 226.5 654.2 225.0 654.8 222.2Z" fill="#c14759"/>
<path d="M613.5 164.8 C613.5 164.8 617.5 166.2 621.0 167.2 C624.5 168.2 627.0 168.0 631.0 169.8 C635.0 171.5 638.0 175.2 641.0 176.0 C644.0 176.8 644.8 175.8 646.0 173.5 C647.2 171.2 647.2 164.8 647.2 164.8 C647.2 164.8 613.5 164.8 613.5 164.8Z" fill="#c14759"/>
<path d="M723.5 292.2 C724.5 291.4 729.8 290.2 731.0 291.0 C732.2 291.8 730.8 295.1 729.8 296.0 C728.8 296.9 727.2 296.2 726.0 295.5 C724.8 294.8 722.5 293.1 723.5 292.2Z" fill="#c14759"/>
<path d="M671.0 338.5 C671.0 338.5 673.2 322.2 673.5 322.2 C673.8 322.2 676.0 338.5 676.0 338.5 C676.0 338.5 671.0 338.5 671.0 338.5Z" fill="#c14759"/>
<path d="M494.8 301.0 C494.8 301.0 499.8 303.0 503.5 304.8 C507.2 306.5 509.5 307.5 513.5 309.8 C517.5 312.0 521.0 314.2 523.5 316.0 C526.0 317.8 524.5 319.8 526.0 318.5 C527.5 317.2 529.0 312.0 531.0 309.8 C533.0 307.5 533.8 307.0 536.0 307.2 C538.2 307.5 539.8 308.2 542.2 311.0 C544.8 313.8 546.2 317.5 548.5 321.0 C550.8 324.5 551.2 326.5 553.5 328.5 C555.8 330.5 558.5 329.0 559.8 331.0 C561.0 333.0 559.8 338.5 559.8 338.5 C559.8 338.5 494.8 338.5 494.8 338.5 C494.8 338.5 494.8 301.0 494.8 301.0Z" fill="#c14759"/>
<path d="M494.8 322.2 C494.8 322.2 499.8 322.5 503.5 323.5 C507.2 324.5 509.5 325.8 513.5 327.2 C517.5 328.8 520.5 328.8 523.5 331.0 C526.5 333.2 528.5 338.5 528.5 338.5 C528.5 338.5 494.8 338.5 494.8 338.5 C494.8 338.5 494.8 322.2 494.8 322.2Z" fill="#cc6c7a"/>
<path d="M494.8 292.2 C494.8 292.2 498.2 294.8 499.8 296.0 C501.2 297.2 503.2 297.9 502.2 298.5 C501.2 299.1 494.8 299.0 494.8 299.0 C494.8 299.0 494.8 292.2 494.8 292.2Z" fill="#c14759"/>
</g>
<clipPath id="t7"><rect x="496" y="0" width="248" height="166"/></clipPath>
<g clip-path="url(#t7)">
<path d="M494.8 141.5 C494.8 141.5 500.1 141.9 500.5 142.0 C500.9 142.1 500.9 143.4 500.5 143.5 C500.1 143.6 494.8 144.0 494.8 144.0 C494.8 144.0 494.8 141.5 494.8 141.5Z" fill="#c14759"/>
<path d="M593.5 42.5 C595.2 41.2 596.5 40.5 598.5 41.2 C600.5 42.0 601.8 44.0 603.5 46.2 C605.2 48.5 606.0 49.8 607.2 52.5 C608.5 55.2 609.0 56.0 609.8 60.0 C610.5 64.0 610.2 68.0 611.0 72.5 C611.8 77.0 612.0 79.0 613.5 82.5 C615.0 86.0 616.0 87.2 618.5 90.0 C621.0 92.8 623.0 94.2 626.0 96.2 C629.0 98.2 630.8 98.2 633.5 100.0 C636.2 101.8 637.8 102.0 639.8 105.0 C641.8 108.0 642.5 111.0 643.5 115.0 C644.5 119.0 644.8 121.0 644.8 125.0 C644.8 129.0 643.2 131.0 643.5 135.0 C643.8 139.0 645.0 141.0 646.0 145.0 C647.0 149.0 648.2 150.8 648.5 155.0 C648.8 159.2 647.8 162.5 647.2 166.0 C646.8 169.5 646.0 172.5 646.0 172.5 C646.0 172.5 603.5 172.5 603.5 172.5 C603.5 172.5 602.5 164.0 601.0 160.0 C599.5 156.0 598.2 155.5 596.0 152.5 C593.8 149.5 591.5 148.5 589.8 145.0 C588.0 141.5 587.8 140.0 587.2 135.0 C586.8 130.0 587.5 125.5 587.2 120.0 C587.0 114.5 586.8 112.5 586.0 107.5 C585.2 102.5 584.2 100.0 583.5 95.0 C582.8 90.0 582.2 87.5 582.2 82.5 C582.2 77.5 582.8 75.0 583.5 70.0 C584.2 65.0 584.8 62.0 586.0 57.5 C587.2 53.0 588.2 50.5 589.8 47.5 C591.2 44.5 591.8 43.8 593.5 42.5Z" fill="#c14759"/>
<path d="M592.2 48.8 C594.0 46.8 596.2 46.5 598.5 47.5 C600.8 48.5 602.0 50.8 603.5 53.8 C605.0 56.8 605.2 58.2 606.0 62.5 C606.8 66.8 606.5 70.5 607.2 75.0 C608.0 79.5 608.0 81.2 609.8 85.0 C611.5 88.8 612.8 91.0 616.0 93.8 C619.2 96.5 622.2 97.0 626.0 98.8 C629.8 100.5 632.0 100.2 634.8 102.5 C637.5 104.8 638.5 106.5 639.8 110.0 C641.0 113.5 641.0 115.5 641.0 120.0 C641.0 124.5 639.5 128.0 639.8 132.5 C640.0 137.0 642.0 138.5 642.2 142.5 C642.5 146.5 642.2 149.2 641.0 152.5 C639.8 155.8 638.5 157.2 636.0 158.8 C633.5 160.2 631.5 160.8 628.5 160.0 C625.5 159.2 624.0 157.0 621.0 155.0 C618.0 153.0 616.5 152.5 613.5 150.0 C610.5 147.5 608.5 146.0 606.0 142.5 C603.5 139.0 603.0 136.0 601.0 132.5 C599.0 129.0 598.0 128.0 596.0 125.0 C594.0 122.0 592.5 121.5 591.0 117.5 C589.5 113.5 589.2 110.0 588.5 105.0 C587.8 100.0 587.5 97.5 587.2 92.5 C587.0 87.5 587.0 85.0 587.2 80.0 C587.5 75.0 588.0 72.0 588.5 67.5 C589.0 63.0 589.0 61.2 589.8 57.5 C590.5 53.8 590.5 50.8 592.2 48.8Z" fill="#cc6c7a"/>
<path d="M592.2 58.8 C593.2 57.2 594.8 56.2 596.0 57.5 C597.2 58.8 598.0 61.5 598.5 65.0 C599.0 68.5 597.5 72.0 598.5 75.0 C599.5 78.0 601.8 77.8 603.5 80.0 C605.2 82.2 606.8 83.8 607.2 86.2 C607.8 88.8 607.5 90.5 606.0 92.5 C604.5 94.5 602.0 95.8 599.8 96.2 C597.5 96.8 596.2 96.8 594.8 95.0 C593.2 93.2 592.9 91.5 592.2 87.5 C591.6 83.5 591.8 79.5 591.5 75.0 C591.2 70.5 590.9 68.2 591.0 65.0 C591.1 61.8 591.2 60.2 592.2 58.8Z" fill="#d9929c"/>
<path d="M601.0 102.5 C602.0 100.5 603.0 100.2 606.0 100.0 C609.0 99.8 612.0 100.5 616.0 101.2 C620.0 102.0 622.5 102.5 626.0 103.8 C629.5 105.0 631.2 105.2 633.5 107.5 C635.8 109.8 636.2 111.5 637.2 115.0 C638.2 118.5 637.8 121.0 638.5 125.0 C639.2 129.0 640.5 131.5 641.0 135.0 C641.5 138.5 641.8 139.8 641.0 142.5 C640.2 145.2 639.0 147.0 637.2 148.8 C635.5 150.5 634.5 151.8 632.2 151.2 C630.0 150.8 628.5 148.5 626.0 146.2 C623.5 144.0 622.2 142.2 619.8 140.0 C617.2 137.8 615.8 137.5 613.5 135.0 C611.2 132.5 610.5 131.0 608.5 127.5 C606.5 124.0 605.0 121.0 603.5 117.5 C602.0 114.0 601.5 113.0 601.0 110.0 C600.5 107.0 600.0 104.5 601.0 102.5Z" fill="#d9929c"/>
<path d="M618.5 111.2 C619.1 109.5 620.2 108.8 621.0 110.0 C621.8 111.2 621.2 114.5 622.2 117.5 C623.2 120.5 625.8 123.0 626.0 125.0 C626.2 127.0 624.8 127.2 623.5 127.5 C622.2 127.8 620.9 128.0 619.8 126.2 C618.6 124.5 618.2 121.8 618.0 118.8 C617.8 115.8 617.9 113.0 618.5 111.2Z" fill="#e4b7bd"/>
</g>
<clipPath id="t8"><rect x="670" y="330" width="120" height="120"/></clipPath>
<g clip-path="url(#t8)">
<path d="M666.4 326.4 C666.4 326.4 796.5 326.4 796.5 326.4 C796.5 326.4 796.5 456.5 796.5 456.5 C796.5 456.5 666.4 456.5 666.4 456.5 C666.4 456.5 666.4 326.4 666.4 326.4Z" fill="#b01c3b"/>
<path d="M669.1 329.1 C669.1 329.1 677.2 329.1 677.2 329.1 C677.2 329.1 678.3 332.1 680.8 333.6 C683.4 335.2 686.3 335.9 689.9 336.9 C693.5 337.9 697.5 338.0 698.9 338.7 C700.4 339.4 699.3 340.0 697.1 340.5 C694.9 340.9 691.3 340.2 688.1 340.8 C684.8 341.5 683.7 342.5 680.8 343.6 C678.0 344.6 676.0 345.5 673.6 346.3 C671.3 347.0 669.1 347.2 669.1 347.2 C669.1 347.2 669.1 329.1 669.1 329.1Z" fill="#c14759"/>
<path d="M756.7 334.5 C747.9 335.1 754.4 336.7 752.2 337.2 C750.1 337.8 748.4 336.9 745.9 337.2 C743.4 337.6 741.4 337.8 739.6 339.0 C737.8 340.3 738.5 341.9 736.9 343.6 C735.2 345.2 733.4 345.7 731.4 347.2 C729.5 348.6 728.4 349.2 726.9 350.8 C725.5 352.4 724.8 353.1 724.2 355.3 C723.7 357.5 724.0 359.3 724.2 361.6 C724.4 364.0 724.0 364.9 725.1 367.0 C726.2 369.2 729.8 370.3 729.6 372.5 C729.5 374.6 726.4 375.9 724.2 377.9 C722.0 379.9 721.0 380.8 718.8 382.4 C716.6 384.0 715.4 384.2 713.4 386.0 C711.4 387.8 710.3 389.3 708.9 391.4 C707.4 393.6 707.0 394.3 706.1 396.9 C705.2 399.4 705.1 401.2 704.3 404.1 C703.6 407.0 703.6 408.8 702.5 411.3 C701.4 413.9 700.0 414.2 698.9 416.7 C697.8 419.3 697.3 421.1 697.1 424.0 C696.9 426.9 698.4 428.7 698.0 431.2 C697.7 433.7 696.9 434.5 695.3 436.6 C693.7 438.8 691.9 440.1 689.9 442.0 C687.9 444.0 686.8 444.0 685.4 446.6 C683.9 449.1 682.7 454.7 682.7 454.7 C682.7 454.7 796.5 454.7 796.5 454.7 C796.5 454.7 796.5 334.5 796.5 334.5 C796.5 334.5 765.6 334.0 756.7 334.5Z" fill="#c14759"/>
<path d="M756.7 351.7 C748.1 351.5 754.9 350.8 753.1 350.8 C751.3 350.8 749.9 351.1 747.7 351.7 C745.5 352.2 744.3 352.6 742.3 353.5 C740.3 354.4 739.2 354.8 737.8 356.2 C736.3 357.7 736.0 358.7 735.1 360.7 C734.2 362.7 734.0 363.3 733.3 366.1 C732.5 369.0 732.9 372.3 731.4 375.2 C730.0 378.1 728.2 378.8 726.0 380.6 C723.9 382.4 722.6 382.4 720.6 384.2 C718.6 386.0 717.5 387.5 716.1 389.6 C714.6 391.8 714.5 392.5 713.4 395.1 C712.3 397.6 711.7 399.4 710.7 402.3 C709.6 405.2 709.0 406.6 708.0 409.5 C706.9 412.4 706.1 413.9 705.2 416.7 C704.3 419.6 703.6 421.1 703.4 424.0 C703.3 426.9 704.3 428.3 704.3 431.2 C704.3 434.1 704.5 436.1 703.4 438.4 C702.3 440.8 700.9 441.1 698.9 443.0 C696.9 444.8 695.3 445.1 693.5 447.5 C691.7 449.8 689.9 454.7 689.9 454.7 C689.9 454.7 796.5 454.7 796.5 454.7 C796.5 454.7 796.5 351.7 796.5 351.7 C796.5 351.7 765.4 351.9 756.7 351.7Z" fill="#cc6c7a"/>
<path d="M754.9 363.4 C745.5 363.3 751.7 362.5 749.5 362.5 C747.3 362.5 746.1 362.7 744.1 363.4 C742.1 364.2 741.0 364.5 739.6 366.1 C738.1 367.8 738.0 369.0 736.9 371.6 C735.8 374.1 735.6 376.3 734.2 378.8 C732.7 381.3 731.6 382.2 729.6 384.2 C727.7 386.2 726.4 386.9 724.2 388.7 C722.0 390.5 720.4 391.3 718.8 393.3 C717.2 395.2 716.8 396.1 716.1 398.7 C715.4 401.2 715.9 403.0 715.2 405.9 C714.5 408.8 713.6 410.2 712.5 413.1 C711.4 416.0 710.5 417.5 709.8 420.4 C709.0 423.3 708.9 424.9 708.9 427.6 C708.9 430.3 708.9 432.1 709.8 433.9 C710.7 435.7 711.6 436.3 713.4 436.6 C715.2 437.0 716.6 436.4 718.8 435.7 C721.0 435.0 722.0 434.6 724.2 433.0 C726.4 431.4 727.8 430.1 729.6 427.6 C731.4 425.1 731.4 422.9 733.3 420.4 C735.1 417.8 736.9 417.5 738.7 414.9 C740.5 412.4 740.8 410.2 742.3 407.7 C743.7 405.2 735.1 403.4 745.9 402.3 C756.7 401.2 796.5 402.3 796.5 402.3 C796.5 402.3 796.5 363.4 796.5 363.4 C796.5 363.4 764.3 363.6 754.9 363.4Z" fill="#d9929c"/>
<path d="M750.4 365.2 C748.6 364.3 747.5 364.7 745.9 365.2 C744.3 365.8 743.6 366.3 742.3 368.0 C741.0 369.6 740.5 370.8 739.6 373.4 C738.7 375.9 738.5 377.7 737.8 380.6 C737.0 383.5 737.2 385.3 736.0 387.8 C734.7 390.4 733.4 391.3 731.4 393.3 C729.5 395.2 727.7 396.0 726.0 397.8 C724.4 399.6 723.9 400.3 723.3 402.3 C722.8 404.3 722.8 405.7 723.3 407.7 C723.9 409.7 724.8 411.9 726.0 412.2 C727.3 412.6 727.8 410.6 729.6 409.5 C731.4 408.4 732.9 407.9 735.1 406.8 C737.2 405.7 738.7 405.7 740.5 404.1 C742.3 402.5 742.7 401.2 744.1 398.7 C745.5 396.1 746.3 394.3 747.7 391.4 C749.2 388.6 750.1 387.1 751.3 384.2 C752.6 381.3 753.3 379.9 754.0 377.0 C754.8 374.1 755.7 372.1 754.9 369.8 C754.2 367.4 752.2 366.1 750.4 365.2Z" fill="#e4b7bd"/>
<path d="M723.3 419.5 C723.9 418.2 724.5 417.5 725.1 417.7 C725.7 417.8 726.2 418.9 726.4 420.4 C726.6 421.8 726.6 423.6 726.0 424.9 C725.4 426.1 724.1 426.9 723.3 426.7 C722.5 426.5 722.0 425.4 722.0 424.0 C722.0 422.5 722.7 420.7 723.3 419.5Z" fill="#e4b7bd"/>
<path d="M747.7 368.9 C746.3 368.5 745.4 369.4 744.1 370.7 C742.8 371.9 742.5 372.8 741.4 375.2 C740.3 377.5 739.4 379.7 738.7 382.4 C738.0 385.1 737.6 386.6 737.8 388.7 C738.0 390.9 738.7 392.0 739.6 393.3 C740.5 394.5 741.0 395.2 742.3 395.1 C743.6 394.9 744.6 394.2 745.9 392.3 C747.2 390.5 747.7 388.7 748.6 386.0 C749.5 383.3 750.0 381.5 750.4 378.8 C750.9 376.1 751.5 374.5 751.0 372.5 C750.4 370.5 749.1 369.2 747.7 368.9Z" fill="#eaeaea"/>
<path d="M746.8 371.2 C745.8 371.2 745.1 372.0 744.1 373.4 C743.1 374.7 742.7 375.9 741.9 377.9 C741.2 379.9 740.8 381.3 740.5 383.3 C740.1 385.3 739.8 386.4 740.1 387.8 C740.5 389.3 741.2 390.4 742.3 390.5 C743.4 390.7 744.5 390.2 745.5 388.7 C746.6 387.3 747.0 385.7 747.7 383.3 C748.4 381.0 748.9 379.0 749.2 377.0 C749.4 375.0 749.6 374.5 749.2 373.4 C748.7 372.2 747.8 371.2 746.8 371.2Z" fill="#ffffff"/>
<path d="M747.7 399.6 C746.6 401.2 745.5 403.0 744.1 405.0 C742.7 407.0 741.9 407.7 740.5 409.5 C739.0 411.3 738.3 412.2 736.9 414.0 C735.4 415.8 734.5 416.6 733.3 418.6 C732.0 420.5 731.6 421.8 730.5 424.0 C729.5 426.1 727.5 428.5 727.8 429.4 C728.2 430.3 730.0 430.3 732.3 428.5 C734.7 426.7 737.0 424.5 739.6 420.4 C742.1 416.2 743.0 412.4 745.0 407.7 C747.0 403.0 749.0 398.5 749.5 396.9 C750.1 395.2 748.8 398.0 747.7 399.6Z" fill="#c14759"/>
<path d="M743.2 409.5 C742.3 409.7 741.0 410.8 739.6 412.2 C738.1 413.7 737.2 414.9 736.0 416.7 C734.7 418.6 734.0 419.5 733.3 421.3 C732.5 423.1 731.8 425.1 732.3 425.8 C732.9 426.5 734.3 426.3 736.0 424.9 C737.6 423.4 738.9 421.3 740.5 418.6 C742.1 415.8 743.6 413.1 744.1 411.3 C744.6 409.5 744.1 409.3 743.2 409.5Z" fill="#b01c3b"/>
</g>
<clipPath id="t9"><rect x="620" y="440" width="120" height="120"/></clipPath>
<g clip-path="url(#t9)">
<path d="M616.4 436.4 C616.4 436.4 746.5 436.4 746.5 436.4 C746.5 436.4 746.5 566.5 746.5 566.5 C746.5 566.5 616.4 566.5 616.4 566.5 C616.4 566.5 616.4 436.4 616.4 436.4Z" fill="#b01c3b"/>
<path d="M619.1 439.1 C619.1 439.1 625.4 439.1 625.4 439.1 C625.4 439.1 630.1 443.1 632.7 445.4 C635.2 447.8 636.1 448.3 638.1 450.8 C640.1 453.4 641.1 454.8 642.6 458.1 C644.0 461.3 644.9 463.9 645.3 467.1 C645.7 470.4 645.3 471.4 644.4 474.3 C643.5 477.2 642.4 479.2 640.8 481.6 C639.2 483.9 638.6 484.6 636.3 486.1 C633.9 487.5 632.5 489.0 629.0 488.8 C625.6 488.6 619.1 485.2 619.1 485.2 C619.1 485.2 619.1 439.1 619.1 439.1Z" fill="#c14759"/>
<path d="M619.1 462.0 C619.1 462.0 621.0 462.0 621.8 462.6 C622.6 463.2 623.3 464.0 623.3 464.9 C623.2 465.8 622.3 466.6 621.4 467.1 C620.6 467.6 619.1 467.5 619.1 467.5 C619.1 467.5 619.1 462.0 619.1 462.0Z" fill="#cc6c7a"/>
<path d="M688.7 439.1 C688.7 439.1 687.2 443.1 686.0 445.4 C684.7 447.8 683.8 448.5 682.3 450.8 C680.9 453.2 679.8 454.6 678.7 457.2 C677.7 459.7 677.1 461.1 676.9 463.5 C676.7 465.8 676.9 466.9 677.8 468.9 C678.7 470.9 680.5 471.4 681.4 473.4 C682.3 475.4 682.5 476.5 682.3 478.9 C682.2 481.2 681.6 483.1 680.5 485.2 C679.5 487.2 678.6 487.9 676.9 489.2 C675.3 490.4 674.4 490.5 672.4 491.5 C670.4 492.5 669.0 493.0 667.0 494.2 C665.0 495.5 664.1 496.0 662.5 497.8 C660.8 499.6 660.8 501.4 658.9 503.3 C656.9 505.1 655.2 505.6 652.5 506.9 C649.8 508.1 648.2 508.5 645.3 509.6 C642.4 510.7 640.4 511.0 638.1 512.3 C635.7 513.6 634.8 514.1 633.6 515.9 C632.3 517.7 632.1 518.8 631.7 521.3 C631.4 523.9 631.2 525.8 631.7 528.6 C632.3 531.3 632.5 533.1 634.5 534.9 C636.4 536.7 630.1 537.0 641.7 537.6 C653.3 538.1 671.3 546.3 692.3 537.6 C713.3 528.9 746.5 494.2 746.5 494.2 C746.5 494.2 746.5 439.1 746.5 439.1 C746.5 439.1 688.7 439.1 688.7 439.1Z" fill="#c14759"/>
<path d="M691.4 439.1 C691.4 439.1 690.7 443.1 689.6 445.4 C688.5 447.8 687.2 448.5 686.0 450.8 C684.7 453.2 684.0 454.6 683.3 457.2 C682.5 459.7 682.3 461.0 682.3 463.5 C682.3 466.0 682.7 467.3 683.3 469.8 C683.8 472.3 684.5 473.8 685.1 476.1 C685.6 478.5 685.2 479.8 686.0 481.6 C686.7 483.4 687.2 484.6 688.7 485.2 C690.1 485.7 691.4 485.2 693.2 484.3 C695.0 483.4 696.1 482.3 697.7 480.7 C699.3 479.0 700.1 478.3 701.3 476.1 C702.6 474.0 703.0 472.3 704.0 469.8 C705.1 467.3 705.8 466.0 706.7 463.5 C707.7 461.0 707.8 459.7 708.6 457.2 C709.3 454.6 709.6 453.2 710.4 450.8 C711.1 448.5 711.4 447.8 712.2 445.4 C712.9 443.1 714.0 439.1 714.0 439.1 C714.0 439.1 691.4 439.1 691.4 439.1Z" fill="#cc6c7a"/>
<path d="M679.6 494.2 C677.8 493.1 676.2 493.7 674.2 494.2 C672.2 494.8 671.5 495.7 669.7 496.9 C667.9 498.2 667.0 498.9 665.2 500.5 C663.4 502.2 662.8 503.5 660.7 505.1 C658.5 506.6 657.0 507.2 654.3 508.3 C651.6 509.4 649.8 509.5 647.1 510.5 C644.4 511.5 643.0 511.9 640.8 513.2 C638.6 514.5 637.3 515.0 636.3 516.8 C635.2 518.6 635.2 520.4 635.4 522.2 C635.5 524.0 635.5 525.0 637.2 525.8 C638.8 526.7 640.4 526.6 643.5 526.4 C646.6 526.2 648.6 525.2 652.5 524.9 C656.5 524.7 659.0 525.1 663.4 524.9 C667.7 524.8 670.4 525.1 674.2 524.0 C678.0 523.0 680.4 522.6 682.3 519.5 C684.3 516.4 684.0 512.7 684.2 508.7 C684.3 504.7 684.2 502.5 683.3 499.6 C682.3 496.7 681.4 495.3 679.6 494.2Z" fill="#cc6c7a"/>
<path d="M694.1 443.6 C692.8 444.9 693.4 446.1 692.3 448.1 C691.2 450.1 689.8 451.2 688.7 453.6 C687.5 455.9 687.0 457.2 686.5 459.9 C686.0 462.6 685.9 464.2 686.0 467.1 C686.0 470.0 686.3 471.6 686.9 474.3 C687.4 477.0 687.6 479.0 688.7 480.7 C689.8 482.3 690.8 482.7 692.3 482.5 C693.7 482.3 694.5 481.4 695.9 479.8 C697.3 478.1 698.3 476.9 699.5 474.3 C700.8 471.8 701.3 470.0 702.2 467.1 C703.1 464.2 703.5 463.1 704.0 459.9 C704.6 456.6 705.1 454.1 704.9 450.8 C704.8 447.6 704.4 445.4 703.1 443.6 C701.9 441.8 700.4 441.8 698.6 441.8 C696.8 441.8 695.4 442.3 694.1 443.6Z" fill="#d9929c"/>
<path d="M677.8 496.0 C676.4 495.5 675.7 496.2 674.2 496.9 C672.8 497.7 672.0 498.4 670.6 499.6 C669.2 500.9 668.6 501.7 667.0 503.3 C665.4 504.8 664.6 505.9 662.5 507.2 C660.3 508.6 658.9 509.1 656.1 510.1 C653.4 511.1 651.6 511.3 648.9 512.3 C646.2 513.3 644.6 513.7 642.6 515.0 C640.6 516.3 639.5 517.2 639.0 518.6 C638.4 520.1 638.6 521.3 639.9 522.2 C641.1 523.2 642.0 523.3 645.3 523.5 C648.6 523.7 651.8 523.4 656.1 523.1 C660.5 522.9 663.0 522.8 667.0 522.2 C671.0 521.7 673.1 521.7 676.0 520.4 C678.9 519.2 680.2 518.6 681.4 515.9 C682.7 513.2 682.3 510.1 682.3 506.9 C682.3 503.6 682.3 501.8 681.4 499.6 C680.5 497.5 679.3 496.6 677.8 496.0Z" fill="#d9929c"/>
<path d="M696.8 450.8 C695.7 451.2 695.2 451.7 694.1 453.6 C693.0 455.4 692.3 457.2 691.4 459.9 C690.5 462.6 689.9 464.2 689.6 467.1 C689.2 470.0 689.2 471.6 689.6 474.3 C689.9 477.0 690.4 479.4 691.4 480.7 C692.4 481.9 693.4 481.6 694.5 480.7 C695.5 479.8 696.0 478.5 696.8 476.1 C697.6 473.8 698.1 471.8 698.6 468.9 C699.2 466.0 699.2 464.4 699.5 461.7 C699.9 459.0 700.4 457.3 700.4 455.4 C700.4 453.4 700.2 452.7 699.5 451.7 C698.8 450.8 697.9 450.5 696.8 450.8Z" fill="#e4b7bd"/>
<path d="M676.9 499.6 C675.5 499.3 674.8 501.1 673.3 502.3 C671.9 503.6 671.3 504.5 669.7 506.0 C668.1 507.4 667.5 508.3 665.2 509.6 C662.8 510.8 660.8 511.3 658.0 512.3 C655.1 513.3 653.3 513.6 650.7 514.5 C648.2 515.4 646.6 515.8 645.3 516.8 C644.0 517.8 643.5 518.6 644.4 519.5 C645.3 520.4 646.7 521.0 649.8 521.3 C652.9 521.7 656.0 521.5 659.8 521.3 C663.6 521.1 665.4 521.1 668.8 520.4 C672.2 519.7 674.6 519.3 676.9 517.7 C679.3 516.1 679.8 515.0 680.5 512.3 C681.3 509.6 681.3 506.7 680.5 504.2 C679.8 501.6 678.4 500.0 676.9 499.6Z" fill="#e4b7bd"/>
<path d="M691.9 477.0 C692.5 476.3 693.5 476.3 694.1 477.0 C694.7 477.8 695.2 479.6 695.0 480.7 C694.8 481.7 693.9 482.5 693.2 482.5 C692.5 482.5 691.6 481.7 691.4 480.7 C691.1 479.6 691.4 477.8 691.9 477.0Z" fill="#eaeaea"/>
<path d="M676.0 503.3 C674.8 503.1 674.4 504.7 673.3 506.0 C672.2 507.2 672.0 508.3 670.6 509.6 C669.2 510.8 668.3 511.3 666.1 512.3 C663.9 513.3 662.3 513.7 659.8 514.5 C657.2 515.3 655.1 515.4 653.4 516.3 C651.8 517.1 650.7 517.9 651.6 518.6 C652.5 519.3 654.9 519.7 658.0 519.9 C661.0 520.1 663.7 520.1 667.0 519.5 C670.2 518.9 671.9 518.3 674.2 516.8 C676.6 515.4 677.7 514.3 678.7 512.3 C679.7 510.3 679.8 508.7 679.3 506.9 C678.7 505.1 677.2 503.4 676.0 503.3Z" fill="#eaeaea"/>
<path d="M675.1 506.0 C674.3 506.4 674.1 507.5 673.3 508.7 C672.5 509.9 671.1 510.8 671.0 511.9 C670.8 513.0 671.4 513.8 672.4 514.1 C673.4 514.3 674.9 514.1 676.0 513.2 C677.2 512.3 677.9 510.9 678.2 509.6 C678.5 508.2 678.1 507.2 677.5 506.5 C676.9 505.8 676.0 505.5 675.1 506.0Z" fill="#ffffff"/>
<path d="M656.1 516.8 C656.5 516.2 659.4 516.2 661.6 515.9 C663.7 515.7 665.4 515.4 667.0 515.5 C668.6 515.7 669.9 516.2 669.7 516.8 C669.5 517.4 668.1 518.1 666.1 518.6 C664.1 519.1 661.7 519.5 659.8 519.2 C657.8 518.8 655.8 517.5 656.1 516.8Z" fill="#ffffff"/>
<path d="M674.2 509.6 C674.4 508.8 675.5 508.1 676.0 508.3 C676.6 508.6 677.1 510.0 676.9 510.8 C676.7 511.6 675.7 512.5 675.1 512.3 C674.6 512.0 674.0 510.4 674.2 509.6Z" fill="#e9eff1"/>
<path d="M661.2 519.2 C661.3 518.7 662.4 518.3 663.0 518.4 C663.6 518.6 664.2 519.4 664.1 519.9 C664.0 520.3 662.9 520.7 662.3 520.6 C661.7 520.5 661.1 519.6 661.2 519.2Z" fill="#e9eff1"/>
</g>
<clipPath id="t10"><rect x="248" y="0" width="248" height="166"/></clipPath>
<g clip-path="url(#t10)">
<path d="M470.0 141.5 C470.9 141.4 481.1 141.9 483.0 142.0 C484.9 142.1 499.2 142.5 499.2 142.5 C499.2 142.5 499.2 144.0 499.2 144.0 C499.2 144.0 484.9 143.6 483.0 143.5 C481.1 143.4 470.9 143.1 470.0 143.0 C469.1 142.9 469.1 141.6 470.0 141.5Z" fill="#c14759"/>
<path d="M466.0 161.0 C466.2 160.5 468.6 159.8 469.2 160.0 C469.9 160.2 471.2 162.0 471.0 162.5 C470.8 163.0 468.7 164.2 468.0 164.0 C467.3 163.8 465.8 161.5 466.0 161.0Z" fill="#c14759"/>
</g>
<path d="M400.5 398.0 L385.5 401.2 L370.5 402.5 L358.0 407.5 L343.0 413.0 L328.0 413.8 L320.0 418.8 L310.0 425.0 L300.0 430.0 L295.0 435.0 L292.5 443.8 L285.0 448.8 L275.0 448.8 L267.5 451.2 L262.5 449.2 L250.0 451.8 L237.5 453.8 L234.8 454.8 L230.6 456.9 L229.6 460.0 L228.5 462.7 L224.3 464.8 L220.1 466.4 L216.9 469.5 L213.8 472.2 L211.7 474.3 L207.4 476.4 L203.2 477.7 L199.0 477.4 L194.8 478.0 L189.5 478.8 L184.3 479.0 L179.0 478.0 L174.8 475.8 L171.6 472.7 L168.5 470.6 L164.2 469.5 L161.1 468.5 L159.5 464.3 L158.4 459.0 L158.8 455.6 L162.1 456.9 L164.8 455.8 L166.3 452.7 L167.6 447.4 L166.9 442.1 L165.8 438.4 L165.3 436.9 L165.8 432.6 L165.3 426.3 L163.7 420.0 L160.5 412.5 L154.5 400.0 L147.5 382.5 L137.5 365.0 L127.5 350.0 L126.0 347.0 L121.1 339.6 L117.5 334.5" fill="none" stroke="#c14759" stroke-width="9.5" stroke-linejoin="round" stroke-linecap="round"/>
<path d="M209.5 461.3 C210.2 460.0 211.7 459.9 213.8 459.2 C215.9 458.5 217.6 458.1 220.1 457.6 C222.6 457.2 224.8 456.6 226.4 456.9 C228.1 457.1 227.9 457.6 228.3 458.8 C228.7 459.9 229.3 461.5 228.5 462.7 C227.7 463.9 226.0 464.0 224.3 464.8 C222.6 465.5 221.6 465.4 220.1 466.4 C218.6 467.3 218.2 468.4 216.9 469.5 C215.7 470.7 214.8 472.1 213.8 472.2 C212.8 472.2 212.5 471.1 211.9 469.7 C211.2 468.4 210.9 467.2 210.4 465.5 C209.9 463.8 208.9 462.6 209.5 461.3Z" fill="#b01c3b"/>
<path d="M295.0 435.0 L292.5 443.8 L285.0 448.8 L275.0 448.8 L267.5 451.2 L262.5 449.2 L250.0 451.8 L237.5 453.8 L234.8 454.8 L230.6 456.9 L229.6 460.0 L228.5 462.7 L224.3 464.8 L220.1 466.4 L216.9 469.5 L213.8 472.2 L211.7 474.3 L207.4 476.4 L203.2 477.7 L199.0 477.4 L194.8 478.0 L189.5 478.8 L184.3 479.0 L179.0 478.0 L174.8 475.8 L171.6 472.7 L168.5 470.6 L164.2 469.5 L161.1 468.5 L159.5 464.3 L158.4 459.0 L158.8 455.6 L162.1 456.9 L164.8 455.8 L166.3 452.7 L167.6 447.4 L166.9 442.1 L165.8 438.4 L165.3 436.9 L165.8 432.6 L165.3 426.3 L163.7 420.0 L160.5 412.5 L154.5 400.0 L147.5 382.5 L137.5 365.0" fill="none" stroke="#b01c3b" stroke-width="4.2" stroke-linejoin="round" stroke-linecap="round"/>
</g>
<path d="M113.1 247.2 L114.4 248.0 L114.8 249.8 L115.4 251.6 L115.3 253.5 L115.5 255.2 L116.4 256.8 L116.7 258.5 L118.9 257.1 L119.1 255.3 L119.2 253.5 L119.8 251.7 L120.8 250.2 L121.3 248.5 L122.5 247.2 L123.6 246.0 L125.0 245.3 L126.3 244.5 L127.4 243.3 L128.8 242.6 L130.2 241.5 L131.4 240.2 L133.1 239.5 L134.2 238.1 L135.2 236.6 L137.0 236.0 L137.9 234.5 L139.0 233.2 L140.3 232.1 L141.5 230.9 L142.1 229.5 L143.4 228.6 L143.9 227.1 L145.0 226.0 L146.2 224.9 L147.2 223.8 L148.7 223.1 L150.0 222.2 L151.3 221.3 L152.2 220.0 L153.0 218.6 L153.8 217.2 L156.2 216.0 L157.1 217.8 L157.0 219.8 L158.9 219.9 L160.7 219.6 L162.5 219.0 L164.0 219.1 L165.5 218.5 L167.0 218.3 L168.5 218.5 L170.0 218.5 L171.5 217.8 L172.5 216.7 L173.9 215.9 L175.0 214.8 L176.1 213.6 L177.5 212.8 L178.8 211.8 L180.3 211.6 L181.9 211.4 L183.5 211.1 L185.0 210.5 L185.9 209.2 L187.3 208.6 L187.9 207.1 L189.4 206.4 L190.2 205.1 L191.2 204.0 L192.8 203.1 L194.6 202.9 L196.2 202.2 L197.9 202.7 L199.5 203.5 L201.2 203.5 L202.6 202.4 L204.2 201.7 L206.1 201.6 L207.5 200.5 L209.1 200.2 L210.4 199.1 L211.9 198.6 L213.5 198.3 L215.0 197.8 L216.3 196.6 L217.9 195.9 L219.3 194.8 L221.1 194.5 L222.5 193.5 L223.5 192.0 L225.3 191.3 L226.2 189.8 L227.5 188.7 L228.3 187.4 L229.3 186.1 L230.0 184.8 L230.7 183.0 L231.8 181.5 L232.5 179.8 L233.6 178.6 L233.8 177.0 L234.2 175.7 L233.9 174.2 L235.4 173.4 L235.3 171.9 L236.1 170.8 L237.2 170.2 L237.8 169.1 L239.4 169.1 L239.3 167.1 L241.0 167.2 L241.8 166.3 L242.5 165.2 L242.7 163.7 L244.2 163.5 L242.8 162.5 L243.4 160.4 L241.8 159.5 L241.0 158.3 L240.7 157.0 L240.8 155.6 L241.0 154.3 L240.8 153.0 L239.6 151.8 L239.4 150.5 L240.2 149.0 L240.9 148.0 L241.1 146.7 L242.5 146.1 L243.5 145.3 L243.0 143.5 L244.4 143.0 L244.9 141.9 L245.8 141.0 L247.0 140.3 L248.0 139.6 L247.9 138.0 L248.3 136.8 L250.0 136.6 L249.4 134.6 L250.6 134.0 L251.4 133.1 L251.8 131.9 L253.1 131.3 L254.7 132.9 L255.0 134.1 L255.9 135.0 L257.0 135.7 L257.3 136.9 L257.5 138.3 L258.7 138.9 L259.8 139.7 L259.8 141.1 L260.8 141.9 L260.7 143.3 L262.1 143.9 L262.8 144.9 L262.2 146.7 L263.7 147.2 L264.4 148.1 L264.6 149.4 L265.0 150.6 L266.0 151.5 L266.3 150.2 L266.6 149.0 L265.5 147.8 L265.8 146.6 L265.7 145.4 L266.0 144.2 L267.3 144.2 L268.7 144.3 L270.0 144.2 L270.5 143.0 L269.6 141.6 L270.4 140.5 L270.8 139.4 L269.3 139.5 L268.5 141.3 L266.8 141.0 L266.6 139.6 L266.0 138.5 L264.9 137.6 L264.4 136.4 L263.5 135.4 L263.7 133.8 L262.7 132.9 L263.1 131.7 L263.1 130.3 L263.1 129.0 L264.1 128.0 L265.6 127.1 L265.2 125.6 L266.7 126.4 L268.4 126.5 L269.4 127.1 L270.4 128.2 L272.2 127.0 L272.9 128.5 L274.4 128.2 L275.4 129.0 L276.5 129.7 L277.7 129.0 L279.1 129.3 L280.4 130.4 L281.7 130.0 L283.0 130.2 L284.3 128.6 L285.6 129.0 L286.9 129.4 L285.7 128.5 L284.0 129.5 L282.7 128.9 L281.3 128.8 L280.4 127.0 L278.9 127.3 L278.8 125.7 L279.5 124.4 L279.1 122.8 L280.5 121.6 L279.0 120.8 L278.9 119.2 L278.5 117.7 L277.3 116.8 L276.9 115.6 L276.9 114.4 L276.3 113.1 L276.5 111.9 L276.6 110.7 L277.3 109.5 L278.6 108.7 L280.1 109.3 L281.5 108.6 L282.9 108.7 L283.8 110.0 L285.5 109.1 L286.3 110.6 L287.7 110.3 L287.4 108.7 L288.6 107.5 L289.0 106.1 L289.4 104.7 L290.6 105.0 L291.9 104.5 L293.2 104.7 L294.5 105.2 L295.8 104.7 L294.4 104.8 L293.7 103.5 L292.7 102.9 L291.8 102.0 L290.1 102.6 L289.4 101.5 L289.6 100.0 L289.2 98.4 L290.9 97.3 L291.0 95.8 L291.1 94.4 L289.6 93.8 L289.4 92.6 L290.5 93.5 L291.9 93.5 L293.5 92.6 L294.5 93.8 L295.8 94.2 L295.3 92.7 L296.3 91.7 L297.6 90.8 L297.4 89.4 L298.9 89.8 L299.2 91.3 L300.9 91.6 L301.7 92.6 L301.5 94.7 L303.1 95.0 L302.7 93.4 L303.2 92.0 L305.1 91.0 L304.7 89.4 L304.1 88.1 L303.8 86.8 L303.4 85.6 L304.0 84.2 L303.9 82.9 L305.6 83.0 L306.6 84.1 L307.8 84.9 L308.7 86.1 L310.0 85.5 L310.2 83.7 L311.7 83.4 L312.2 81.9 L313.5 81.3 L313.0 82.8 L313.4 84.0 L314.0 85.2 L315.2 86.1 L316.4 85.2 L316.3 83.8 L317.6 82.8 L317.6 81.4 L317.2 79.8 L318.4 78.9 L320.1 78.9 L321.6 78.1 L322.2 79.4 L324.2 78.7 L325.0 79.7 L325.6 81.0 L326.9 81.6 L328.3 81.7 L329.7 81.3 L330.6 82.2 L332.1 82.3 L332.9 83.3 L333.9 84.1 L334.5 85.3 L334.8 87.0 L336.8 86.9 L337.6 88.0 L338.1 89.5 L339.4 90.2 L340.1 91.4 L341.2 92.2 L342.0 93.3 L342.7 94.5 L344.2 95.0 L343.2 96.1 L344.6 97.5 L344.5 98.8 L343.4 99.8 L343.0 101.3 L343.4 102.5 L344.8 103.4 L345.2 104.6 L345.1 106.0 L345.8 107.1 L344.8 107.9 L344.1 109.1 L342.8 109.5 L341.7 110.1 L340.4 110.3 L339.4 111.1 L339.2 109.6 L340.7 108.8 L341.6 107.6 L341.0 106.0 L341.8 104.8 L342.4 103.6 L342.6 102.3 L343.9 101.4 L344.4 100.0 L345.0 98.6 L345.8 97.4 L347.1 97.2 L347.5 95.3 L349.0 95.5 L350.1 96.5 L351.3 96.6 L352.6 96.4 L353.9 96.1 L355.2 95.9 L356.2 97.0 L357.7 96.2 L358.7 97.4 L359.9 98.1 L361.2 98.6 L361.9 99.8 L362.6 98.8 L362.6 97.5 L363.5 96.6 L365.2 95.8 L366.8 96.6 L367.4 98.1 L369.3 98.4 L370.0 99.8 L370.6 101.0 L372.2 101.5 L371.9 103.1 L372.2 104.4 L372.9 105.5 L374.0 106.3 L373.2 105.3 L372.4 104.3 L372.8 102.8 L371.7 101.9 L371.6 100.6 L370.5 99.7 L369.5 98.5 L369.0 97.1 L368.4 95.8 L369.7 95.7 L370.7 94.8 L372.1 94.9 L373.2 94.2 L372.2 93.4 L371.0 92.8 L369.6 92.8 L368.4 92.6 L368.5 91.0 L367.0 90.4 L366.4 89.3 L366.0 88.1 L365.8 86.7 L364.4 86.1 L365.3 85.1 L366.3 84.1 L365.6 82.2 L366.8 81.3 L368.1 80.6 L369.6 80.6 L370.8 79.7 L371.6 78.5 L372.1 77.3 L371.4 75.8 L371.8 74.5 L372.4 73.3 L372.7 72.0 L373.2 70.8 L372.9 71.3 L373.6 70.0 L375.0 70.0 L376.3 69.9 L377.4 69.6 L378.0 68.1 L379.4 68.1 L379.0 66.7 L378.6 65.4 L376.9 64.7 L376.9 63.2 L377.0 61.6 L378.0 60.9 L379.6 60.6 L380.8 59.9 L381.0 58.4 L381.8 57.4 L382.7 56.5 L384.2 56.2 L385.0 55.2 L384.8 53.9 L384.5 52.6 L385.1 51.4 L385.8 50.3 L387.0 50.3 L388.2 49.8 L389.4 49.4 L390.6 49.5 L391.3 48.4 L391.7 47.0 L393.5 46.8 L393.9 45.5 L395.2 45.0 L396.6 45.3 L397.9 44.7 L398.6 46.1 L399.5 47.4 L400.7 48.2 L401.9 48.0 L403.1 46.7 L404.4 47.3 L405.6 46.4 L406.8 47.4 L408.2 47.6 L409.2 46.3 L410.9 47.4 L411.8 45.6 L413.2 45.8 L414.4 46.3 L415.7 46.8 L416.6 48.0 L418.1 47.9 L418.5 46.7 L419.3 45.6 L418.9 44.2 L420.1 44.0 L421.4 43.6 L422.6 43.9 L423.7 44.7 L422.4 43.5 L423.3 41.7 L422.9 40.3 L422.1 39.0 L422.2 37.7 L421.8 36.4 L420.2 35.6 L420.5 34.2 L419.0 34.6 L418.2 33.1 L416.5 33.9 L415.6 32.6 L414.2 32.6 L413.0 31.9 L411.6 31.8 L410.5 30.9 L409.3 30.4 L408.4 29.2 L406.8 29.4 L408.4 29.3 L408.7 27.4 L410.0 26.9 L411.3 26.6 L412.6 26.0 L413.9 26.2 L415.2 26.8 L416.5 26.9 L417.6 26.4 L418.1 24.9 L419.0 23.9 L420.5 23.7 L420.4 25.0 L420.7 26.2 L421.3 27.3 L422.3 28.4 L422.4 29.6 L422.1 31.0 L423.3 30.2 L424.9 31.1 L426.1 30.2 L426.7 31.6 L428.8 31.0 L429.4 32.6 L429.5 34.2 L430.3 35.2 L431.8 35.8 L433.0 36.6 L434.6 35.8 L435.8 36.6 L437.2 36.0 L437.4 34.7 L437.4 33.4 L438.4 34.6 L438.9 35.9 L438.2 37.4 L439.7 37.4 L441.0 38.0 L442.6 37.1 L443.9 38.2 L444.4 39.8 L445.8 40.1 L447.1 40.6 L448.1 41.7 L449.3 42.8 L450.3 43.9 L451.5 42.9 L453.0 44.0 L454.3 43.9 L455.4 42.3 L456.8 43.1 L458.1 43.5 L459.1 42.4 L460.5 43.3 L461.6 42.3 L462.8 42.8 L463.9 43.4 L464.9 44.2 L465.7 45.2 L466.5 46.3 L467.7 45.4 L468.9 45.6 L470.1 46.2 L471.3 46.3 L472.6 45.6 L473.8 44.8 L474.5 43.3 L476.1 43.1 L477.0 41.4 L478.5 40.8 L480.2 40.6 L481.7 40.2 L481.7 38.1 L483.4 37.9 L484.2 36.6 L485.8 37.3 L487.4 37.7 L488.1 38.9 L489.0 39.8 L490.0 41.1 L491.6 40.2 L492.5 41.4 L493.9 41.5 L494.8 42.3 L496.0 42.9 L496.9 43.7 L498.1 44.2 L498.7 45.5 L500.2 46.1 L499.6 48.1 L501.1 48.7 L499.9 49.5 L499.6 51.2 L497.7 51.3 L497.1 52.7 L497.1 54.3 L495.7 55.3 L495.5 56.8 L494.3 57.2 L493.1 57.3 L492.3 58.4 L493.2 59.4 L493.1 61.1 L494.7 61.6 L493.4 61.7 L492.5 62.7 L491.6 63.8 L490.4 64.0 L489.0 64.0 L488.3 65.2 L486.9 65.1 L485.8 65.6 L484.5 65.6 L483.4 66.3 L482.6 67.3 L481.9 68.4 L481.9 69.7 L481.8 71.0 L481.0 72.1 L481.7 73.4 L482.9 74.0 L484.2 74.5 L483.5 75.6 L483.3 76.9 L482.4 78.0 L482.6 79.4 L481.8 80.3 L481.6 81.8 L480.8 82.7 L480.2 83.9 L479.6 85.0 L478.5 85.8 L477.1 86.4 L476.6 87.6 L475.9 88.8 L475.4 90.0 L474.5 91.0 L474.3 92.5 L472.9 93.1 L473.6 94.2 L474.0 95.4 L475.1 96.3 L475.5 97.6 L476.1 98.7 L476.5 100.3 L477.6 101.0 L479.7 100.5 L479.6 102.6 L480.8 103.2 L481.8 104.0 L482.8 104.8 L484.2 105.2 L485.6 105.5 L486.8 106.2 L487.2 107.8 L488.1 108.9 L490.0 108.6 L490.6 110.0 L492.3 110.0 L492.3 112.3 L493.4 113.1 L495.2 112.8 L495.6 114.6 L497.1 114.8 L498.5 114.9 L499.5 116.3 L501.3 115.2 L502.2 116.7 L503.5 116.9 L504.9 117.1 L505.6 118.4 L507.3 118.0 L507.8 119.7 L509.5 119.3 L510.2 120.5 L511.7 120.5 L512.5 121.7 L513.5 122.5 L514.9 123.1 L515.4 124.4 L516.0 125.6 L516.6 126.9 L517.5 127.9 L518.5 128.8 L519.7 129.1 L520.8 130.1 L522.3 129.5 L523.7 129.3 L524.7 130.7 L526.1 130.3 L527.0 131.8 L528.5 131.2 L529.7 131.7 L531.1 131.8 L531.9 132.9 L532.5 134.4 L534.0 134.3 L534.8 135.4 L536.3 135.4 L537.2 136.2 L537.7 137.4 L539.1 138.0 L539.5 139.1 L540.3 140.1 L540.5 141.4 L541.0 142.5 L542.2 142.9 L543.0 143.9 L543.9 144.6 L545.3 144.7 L546.3 145.4 L547.5 145.7 L548.5 146.4 L549.3 147.4 L549.9 148.8 L551.5 148.4 L552.2 149.5 L553.5 149.1 L554.6 148.3 L556.0 149.0 L557.2 148.5 L558.5 148.1 L559.7 148.0 L560.9 147.6 L562.2 147.6 L563.5 147.5 L563.9 146.1 L565.4 145.6 L566.5 144.8 L567.3 143.7 L567.5 142.2 L568.5 141.2 L568.3 139.7 L569.9 138.9 L569.9 137.5 L570.6 136.3 L571.0 135.0 L571.8 134.0 L572.7 133.1 L572.9 131.7 L573.4 130.6 L573.6 129.2 L574.1 128.1 L574.9 127.1 L576.0 126.2 L575.8 124.9 L577.4 123.9 L577.1 122.5 L576.6 121.1 L577.4 119.9 L577.9 118.7 L578.9 117.6 L578.6 116.2 L579.1 115.0 L579.0 113.7 L579.8 112.5 L579.9 111.2 L579.9 109.8 L581.3 108.9 L581.2 107.5 L582.0 106.4 L582.1 105.0 L581.7 103.6 L582.4 102.4 L582.8 101.2 L583.5 100.0 L583.8 98.7 L583.0 97.5 L583.9 96.2 L583.6 95.0 L583.3 93.7 L582.9 92.5 L583.1 91.2 L582.4 90.0 L581.9 88.8 L583.0 87.5 L582.3 86.3 L582.2 85.0 L583.1 83.8 L582.9 82.5 L582.7 81.3 L582.6 80.0 L583.2 78.8 L582.6 77.5 L582.9 76.2 L583.0 75.0 L583.9 73.8 L583.5 72.5 L584.5 71.4 L583.5 69.8 L583.7 68.6 L584.5 67.4 L585.3 66.3 L585.3 65.0 L586.1 63.9 L586.0 62.5 L586.9 61.3 L586.6 60.0 L586.7 58.8 L586.1 57.4 L586.9 56.3 L587.1 55.0 L586.6 53.7 L587.2 52.5 L587.3 51.0 L588.9 50.5 L590.0 49.7 L590.3 48.3 L590.4 46.9 L592.0 46.4 L592.2 45.0 L592.4 43.7 L592.8 42.4 L594.0 41.4 L594.4 40.1 L595.0 39.0 L594.8 37.5 L595.6 36.4 L594.5 34.8 L595.2 33.7 L596.0 32.5 L595.7 31.2 L597.0 30.1 L597.1 28.8 L597.4 27.6 L597.2 26.2 L598.8 26.4 L599.9 25.6 L601.3 25.4 L602.2 24.2 L603.5 23.8 L604.6 24.5 L604.7 25.8 L604.8 27.2 L605.8 28.0 L606.9 28.8 L607.2 30.0 L608.1 31.1 L608.2 32.4 L608.5 33.7 L607.8 35.1 L608.6 36.2 L608.6 37.5 L608.0 38.9 L609.2 40.0 L608.9 41.3 L609.6 42.5 L609.7 43.7 L609.8 45.0 L611.1 45.5 L612.3 46.2 L613.8 46.3 L614.8 47.5 L614.1 48.7 L613.8 50.0 L614.1 51.4 L612.4 52.3 L611.9 53.5 L612.2 55.0 L613.3 55.9 L613.9 57.0 L614.0 58.5 L615.1 59.3 L615.7 60.4 L616.2 61.7 L617.2 62.5 L617.1 63.8 L618.1 64.9 L618.0 66.2 L617.8 67.6 L617.9 68.9 L618.2 70.1 L618.5 71.3 L619.0 72.5 L620.2 73.6 L619.8 75.0 L620.1 76.2 L619.7 77.5 L620.6 78.7 L621.1 79.9 L620.4 81.3 L620.3 82.6 L620.1 83.8 L621.0 85.0 L621.2 86.4 L622.1 87.5 L623.3 88.5 L622.9 90.1 L623.1 91.5 L624.2 92.5 L624.8 93.8 L626.0 93.3 L627.0 92.1 L628.4 91.9 L629.8 91.7 L631.2 91.5 L632.1 90.3 L633.5 90.0 L633.9 91.4 L635.1 92.2 L635.9 93.2 L637.2 93.9 L637.4 95.4 L638.5 96.2 L639.8 96.6 L640.5 97.7 L640.9 99.1 L641.9 99.8 L642.7 100.7 L644.4 100.6 L644.6 102.2 L646.0 102.5 L646.7 103.7 L647.7 104.8 L647.3 106.5 L648.5 107.5 L647.5 108.6 L647.1 109.8 L647.8 111.3 L647.7 112.6 L646.3 113.6 L646.3 114.9 L645.7 116.1 L646.0 117.5 L646.0 118.8 L645.9 120.2 L646.6 121.3 L646.8 122.6 L646.9 123.9 L648.0 125.0 L647.5 126.4 L648.5 127.5 L648.9 128.7 L648.4 130.2 L649.4 131.3 L649.5 132.6 L650.8 133.6 L650.6 134.9 L651.0 136.2 L651.0 137.5 L652.6 137.9 L653.2 139.3 L654.3 140.2 L655.4 141.1 L656.0 142.5 L656.6 143.7 L655.9 145.1 L657.2 146.2 L656.7 147.6 L656.5 148.9 L658.3 149.8 L657.4 151.3 L658.6 152.4 L658.7 153.7 L658.5 155.0 L658.7 156.3 L657.6 157.4 L657.5 158.6 L658.6 160.0 L657.3 161.1 L658.3 162.4 L657.8 163.6 L656.6 164.7 L657.2 166.0 L657.0 167.4 L658.5 168.3 L658.2 169.8 L658.7 171.0 L658.7 172.3 L658.8 173.7 L659.6 174.8 L660.0 176.0 L660.4 177.4 L661.4 178.3 L663.1 178.3 L664.1 179.1 L664.9 180.2 L665.4 181.5 L666.1 182.6 L666.9 183.7 L667.9 184.4 L668.9 185.3 L670.0 186.0 L670.9 186.9 L671.9 187.7 L673.1 188.1 L673.8 189.2 L674.7 190.2 L675.7 191.0 L676.8 191.5 L677.8 192.2 L679.4 192.2 L680.0 193.5 L681.2 194.0 L682.0 194.9 L683.2 195.5 L684.3 196.1 L685.1 197.1 L685.7 198.4 L687.2 198.5 L687.6 200.1 L689.5 199.6 L690.0 201.0 L691.2 201.3 L692.1 202.2 L693.3 202.7 L694.8 202.1 L695.9 202.7 L697.1 203.1 L697.9 204.3 L699.3 204.0 L700.3 204.9 L701.5 205.2 L702.5 206.0 L702.3 207.4 L701.2 208.3 L700.4 209.3 L699.5 210.2 L699.1 211.5 L698.8 212.8 L697.5 213.5 L698.4 214.4 L698.5 215.7 L700.1 216.2 L700.0 217.7 L701.3 218.3 L700.8 220.0 L702.3 220.5 L702.5 221.9 L703.7 222.5 L703.7 224.0 L704.0 225.2 L705.0 226.0 L704.6 227.4 L705.0 228.6 L705.1 229.9 L706.8 230.8 L705.8 232.3 L707.2 233.4 L706.2 234.9 L706.2 236.2 L706.9 237.3 L707.5 238.5 L707.8 239.8 L708.1 241.1 L709.5 242.0 L708.8 243.7 L710.5 244.5 L710.7 245.9 L711.1 247.1 L711.2 248.5 L712.1 247.4 L712.3 245.9 L713.0 244.7 L713.8 243.5 L713.9 244.8 L713.7 246.1 L713.7 247.3 L713.9 248.6 L715.0 249.7 L715.5 250.9 L715.0 252.2 L715.7 251.0 L716.8 250.3 L718.4 250.4 L718.9 248.8 L720.6 249.0 L721.0 247.3 L722.5 247.2 L723.0 248.5 L724.3 249.2 L724.4 250.6 L725.0 251.8 L725.9 252.7 L727.4 253.3 L727.5 254.8 L728.2 256.1 L727.5 257.3 L726.5 258.4 L727.1 259.8 L727.3 261.0 L726.9 262.3 L726.2 263.5 L727.1 264.8 L727.1 266.1 L725.7 267.2 L726.2 268.5 L727.4 269.2 L728.4 270.1 L729.6 270.8 L730.7 271.5 L731.1 273.1 L732.5 273.5 L732.7 274.8 L734.1 275.5 L734.1 277.0 L734.4 278.2 L735.7 278.9 L735.6 280.4 L737.4 280.8 L737.5 282.2 L738.6 283.1 L739.9 283.4 L741.3 282.8 L742.5 283.5 L743.3 284.6 L743.7 285.9 L744.3 287.1 L743.7 288.7 L744.3 289.9 L745.0 291.0 L745.7 292.3 L746.8 293.2 L748.3 293.7 L749.5 294.5 L750.0 296.0 L750.7 297.1 L750.3 298.6 L751.8 299.5 L751.4 301.0 L752.1 302.2 L752.5 303.4 L752.5 304.8 L753.8 305.7 L754.8 307.1 L754.9 308.4 L755.7 309.7 L755.9 311.0 L755.6 312.4 L755.2 313.8 L755.5 315.2 L756.3 316.5 L756.6 317.8 L756.4 319.2 L756.1 320.4 L755.4 321.5 L755.5 322.7 L755.9 324.0 L755.6 325.2 L755.6 326.4 L756.2 327.6 L755.9 328.9 L756.4 330.0 L756.0 331.3 L756.4 332.9 L755.0 334.0 L754.9 335.4 L755.3 336.8 L756.4 337.6 L757.5 338.4 L758.0 339.6 L758.6 340.8 L759.1 342.2 L758.5 343.8 L758.8 345.2 L759.5 346.6 L759.5 348.1 L759.5 349.5 L759.5 350.9 L758.9 352.2 L758.6 353.5 L757.9 355.0 L758.1 356.6 L757.8 358.2 L758.2 359.8 L759.0 361.1 L758.3 362.6 L758.7 364.0 L759.5 365.2 L758.8 366.8 L759.3 368.5 L758.1 369.9 L758.2 371.6 L756.9 372.6 L756.3 374.1 L755.7 375.6 L754.9 377.0 L754.6 378.4 L753.4 379.5 L753.2 381.0 L752.8 382.4 L752.5 383.9 L752.3 385.5 L751.9 386.9 L750.7 388.1 L750.4 389.6 L750.0 391.1 L749.5 392.6 L748.6 393.8 L747.7 395.1 L747.1 396.4 L746.0 397.6 L745.7 399.1 L745.0 400.5 L745.3 402.0 L744.3 403.3 L744.3 404.8 L744.2 406.3 L744.1 407.7 L743.1 409.0 L743.1 410.6 L742.6 412.1 L742.4 413.7 L741.4 414.9 L740.5 416.2 L739.9 417.6 L738.9 418.8 L738.7 420.4 L738.2 421.9 L737.0 422.8 L736.0 424.0 L735.1 425.2 L734.6 426.7 L733.3 427.6 L732.4 428.8 L732.9 430.5 L731.7 431.6 L731.4 433.0 L730.4 434.1 L729.1 434.9 L727.6 435.4 L726.8 436.9 L725.4 437.5 L724.2 438.4 L723.3 439.4 L722.0 439.8 L720.9 440.6 L719.8 441.2 L718.8 442.1 L717.9 443.6 L716.3 444.4 L715.2 445.7 L714.4 447.0 L714.5 448.8 L713.4 450.0 L711.9 451.0 L711.3 452.7 L710.4 453.9 L710.0 455.3 L709.6 456.6 L709.5 458.1 L708.8 459.4 L707.7 460.6 L707.8 462.3 L706.8 463.5 L705.8 464.7 L704.9 466.0 L705.2 467.8 L704.0 468.9 L703.4 470.2 L702.6 471.4 L703.1 473.1 L702.2 474.3 L701.6 475.5 L700.6 476.5 L700.4 478.0 L699.3 479.5 L697.7 480.7 L696.7 482.1 L695.1 482.9 L694.1 484.3 L692.9 485.6 L691.9 487.0 L691.4 488.8 L690.6 490.2 L690.6 492.0 L689.6 493.3 L688.7 494.7 L688.6 496.4 L687.8 497.8 L687.3 499.2 L686.6 500.5 L685.9 501.7 L686.0 503.3 L685.5 504.6 L685.4 506.1 L684.6 507.3 L684.2 508.7 L683.8 510.5 L683.3 512.2 L683.3 514.1 L683.3 515.7 L682.6 517.1 L682.4 518.6 L681.9 520.6 L680.5 522.2 L678.8 522.3 L677.7 523.9 L676.0 524.0 L674.2 524.3 L672.5 525.0 L670.6 524.9 L669.2 525.3 L667.7 525.2 L666.3 525.4 L664.8 525.5 L663.4 525.3 L661.9 525.4 L660.5 525.2 L659.1 524.6 L657.6 525.3 L656.1 524.9 L654.6 525.5 L653.1 525.9 L651.3 525.2 L649.8 525.8 L648.2 526.5 L646.6 527.3 L645.3 528.6 L644.4 529.8 L643.1 530.4 L641.8 531.1 L640.8 532.2 L639.6 533.1 L638.4 533.8 L637.6 535.1 L636.3 535.8 L634.5 536.3 L633.2 537.5 L631.7 538.5 L629.9 538.8 L628.1 539.4 L627.8 540.6 L627.8 541.8 L628.2 543.1 L627.8 544.3 L627.1 545.4 L626.9 546.6 L626.1 545.5 L626.6 544.2 L625.9 543.1 L626.4 541.8 L625.8 540.6 L625.8 539.4 L624.3 539.7 L622.9 540.3 L621.4 539.6 L620.0 538.7 L618.9 537.4 L617.8 536.0 L616.6 534.5 L615.0 533.5 L613.5 533.3 L611.9 533.0 L610.8 531.6 L609.2 531.5 L607.7 531.1 L606.2 531.1 L605.0 530.3 L603.7 529.8 L602.3 529.6 L601.3 528.5 L600.7 526.9 L599.4 526.1 L598.1 527.1 L597.4 528.6 L596.1 529.4 L594.7 530.2 L593.6 531.2 L592.7 532.5 L591.5 533.5 L590.6 534.7 L589.1 535.0 L588.0 535.8 L587.1 537.1 L585.7 537.4 L584.3 536.9 L583.2 535.8 L581.7 535.5 L580.6 534.6 L579.7 533.5 L578.4 532.9 L576.9 532.6 L575.9 531.5 L574.5 530.6 L572.7 530.5 L571.6 529.0 L570.0 528.6 L568.4 528.2 L567.1 526.9 L565.2 527.2 L563.9 525.9 L562.2 525.5 L560.8 526.2 L559.0 525.7 L557.5 526.1 L556.0 526.8 L555.4 524.9 L554.8 523.0 L553.1 522.1 L551.3 521.6 L549.8 520.5 L547.5 520.0 L546.2 519.4 L544.8 518.8 L543.7 517.9 L542.3 517.3 L541.2 516.2 L540.5 514.9 L539.6 513.8 L538.6 512.6 L537.8 511.3 L537.5 509.7 L536.2 508.8 L535.9 507.2 L535.2 506.0 L533.9 505.1 L532.9 504.0 L532.5 502.5 L532.8 500.5 L533.8 498.8 L533.8 497.1 L533.0 495.7 L532.4 494.1 L532.5 492.5 L532.2 490.8 L530.8 489.8 L530.4 488.2 L529.6 486.8 L528.6 485.5 L528.1 484.0 L527.5 482.5 L526.9 481.1 L525.9 480.0 L525.3 478.5 L523.7 477.8 L523.0 476.5 L522.5 475.0 L520.8 474.4 L519.2 473.5 L517.5 473.0 L516.0 473.2 L514.5 473.5 L513.0 473.1 L511.5 473.2 L510.0 473.8 L511.4 472.6 L512.2 471.0 L513.8 470.0 L514.3 468.6 L514.4 467.1 L514.9 465.7 L515.2 464.2 L515.3 462.7 L515.5 461.2 L514.9 459.7 L515.0 458.0 L514.6 456.4 L513.8 455.0 L513.4 453.5 L512.1 452.6 L511.2 451.4 L510.5 450.2 L510.2 448.6 L509.2 447.5 L508.1 448.5 L508.0 450.1 L507.0 451.3 L506.2 452.5 L506.0 453.9 L506.0 455.4 L505.7 456.8 L505.7 458.2 L505.3 459.6 L504.7 461.0 L505.0 462.5 L503.6 463.0 L502.2 463.6 L501.3 464.8 L500.0 465.5 L498.6 466.0 L497.2 466.0 L495.7 466.1 L494.3 465.6 L492.9 466.3 L491.4 466.1 L490.0 466.2 L491.3 464.8 L491.6 462.9 L492.5 461.2 L494.0 460.7 L495.6 461.2 L497.1 461.0 L498.4 459.8 L500.0 460.0 L500.4 458.5 L500.5 457.0 L499.8 455.5 L499.8 454.0 L500.0 452.5 L499.8 451.0 L500.0 449.6 L500.8 448.3 L500.7 446.8 L500.7 445.3 L500.9 443.9 L501.2 442.5 L502.2 441.2 L502.8 439.8 L502.7 438.1 L503.2 436.7 L503.7 435.3 L504.8 434.0 L505.0 432.5 L506.3 431.5 L506.6 429.8 L507.5 428.5 L508.8 427.5 L508.1 426.1 L508.2 424.5 L507.7 423.1 L507.4 421.6 L506.3 420.4 L505.5 419.1 L505.5 417.5 L505.5 419.1 L504.3 420.3 L504.3 421.8 L504.1 423.3 L503.6 424.7 L503.3 426.2 L502.5 427.5 L501.6 428.9 L501.6 430.5 L501.0 432.0 L500.8 433.6 L500.0 435.0 L498.7 435.8 L497.7 436.9 L496.0 437.1 L494.8 438.0 L493.6 439.0 L492.5 440.0 L491.2 440.9 L489.8 441.7 L489.0 443.2 L487.6 443.9 L486.0 444.4 L484.8 445.4 L483.9 446.7 L482.5 447.5 L481.5 448.6 L480.7 449.9 L479.8 451.0 L478.0 451.3 L477.5 453.0 L476.2 453.8 L476.6 455.3 L477.8 456.5 L478.2 458.1 L478.7 459.6 L479.7 460.9 L480.0 462.5 L478.2 461.9 L476.5 461.2 L475.0 460.0 L473.5 459.7 L472.4 458.6 L471.4 457.4 L469.8 457.3 L468.8 456.2 L467.9 455.0 L467.1 453.8 L466.5 452.5 L465.5 451.4 L465.0 450.0 L464.0 448.7 L463.8 447.2 L463.9 445.5 L462.9 444.3 L462.3 442.9 L461.6 441.5 L461.2 440.0 L461.2 438.2 L460.6 436.5 L459.8 435.1 L459.8 433.4 L459.1 431.9 L458.6 430.4 L456.9 430.1 L455.6 428.9 L454.0 428.3 L452.6 427.4 L451.4 426.4 L451.0 424.9 L450.0 423.8 L449.6 422.3 L450.2 420.4 L451.6 418.8 L450.2 417.4 L448.5 416.3 L447.2 415.2 L445.8 414.4 L444.5 413.3 L443.7 412.1 L442.8 411.0 L441.4 410.3 L440.5 409.2 L439.0 409.3 L437.4 409.1 L436.0 409.9 L434.4 409.7 L432.9 409.0 L431.4 408.2 L429.8 407.6 L428.4 406.7 L426.7 406.5 L425.1 406.1 L423.3 406.2 L421.6 406.0 L420.0 406.6 L418.3 406.7 L416.8 406.1 L415.8 404.8 L414.4 404.0 L412.8 403.6 L411.6 402.6 L410.2 401.7 L408.9 401.2 L407.7 400.3 L406.3 399.9 L405.0 399.4 L403.8 398.5 L402.7 397.6 L400.5 398.0 L398.7 398.6 L396.8 398.9 L394.9 399.3 L393.0 399.7 L391.1 399.8 L389.2 400.3 L387.4 401.0 L385.5 401.2 L383.6 401.2 L381.8 401.6 L379.9 402.0 L378.0 401.9 L376.1 402.3 L374.3 402.3 L372.4 402.1 L370.5 402.5 L368.7 403.2 L366.8 403.7 L365.2 404.7 L363.4 405.4 L361.6 406.2 L359.8 406.9 L358.0 407.5 L356.1 408.0 L354.2 408.8 L352.3 409.4 L350.5 410.3 L348.5 410.7 L346.7 411.4 L345.0 412.6 L343.0 413.0 L341.1 413.0 L339.3 413.4 L337.4 413.4 L335.5 413.6 L333.6 413.4 L331.8 413.8 L329.9 413.9 L328.0 413.8 L326.3 414.6 L324.7 415.7 L323.1 416.6 L321.5 417.5 L320.0 418.8 L318.3 419.7 L316.6 420.7 L315.1 422.0 L313.3 422.9 L311.7 423.9 L310.0 425.0 L308.4 425.9 L306.7 426.7 L305.0 427.5 L303.3 428.3 L301.8 429.4 L300.0 430.0 L298.5 431.8 L296.6 433.2 L295.0 435.0 L294.3 436.7 L294.2 438.5 L293.7 440.3 L293.2 442.0 L292.5 443.8 L290.9 444.6 L289.5 445.8 L287.8 446.5 L286.5 447.8 L285.0 448.8 L283.0 449.0 L281.0 448.6 L279.0 449.0 L277.0 448.6 L275.0 448.8 L273.0 449.1 L271.2 449.9 L269.3 450.4 L267.5 451.2 L265.0 450.3 L262.5 449.2 L260.8 449.9 L259.0 450.1 L257.1 450.1 L255.3 450.5 L253.6 451.0 L251.8 451.6 L250.0 451.8 L248.2 452.0 L246.4 452.1 L244.7 452.8 L242.8 452.7 L241.1 453.4 L239.3 453.3 L237.5 453.8 L234.8 454.8 L232.9 456.1 L230.6 456.9 L229.6 460.0 L228.5 462.7 L226.3 463.5 L224.3 464.8 L222.2 465.7 L220.1 466.4 L218.5 467.9 L216.9 469.5 L215.5 471.1 L213.8 472.2 L211.7 474.3 L209.5 475.2 L207.4 476.4 L205.2 476.8 L203.2 477.7 L201.1 477.7 L199.0 477.4 L196.9 477.5 L194.8 478.0 L192.2 478.6 L189.5 478.8 L186.9 479.2 L184.3 479.0 L181.6 478.4 L179.0 478.0 L176.8 477.0 L174.8 475.8 L173.3 474.2 L171.6 472.7 L169.9 471.9 L168.5 470.6 L166.3 470.3 L164.2 469.5 L161.1 468.5 L160.2 466.4 L159.5 464.3 L159.0 461.6 L158.4 459.0 L158.8 455.6 L160.5 456.1 L162.1 456.9 L164.8 455.8 L166.3 452.7 L166.5 450.9 L167.0 449.1 L167.6 447.4 L167.2 444.8 L166.9 442.1 L166.1 440.4 L165.8 438.4 L165.3 436.9 L165.6 434.8 L165.8 432.6 L165.4 430.6 L165.5 428.4 L165.3 426.3 L164.7 424.2 L164.0 422.2 L163.7 420.0 L162.6 418.2 L162.1 416.2 L161.4 414.3 L160.5 412.5 L159.5 410.8 L158.8 408.9 L157.7 407.3 L157.1 405.4 L156.4 403.5 L155.2 401.9 L154.5 400.0 L153.8 398.3 L153.3 396.4 L152.3 394.8 L151.9 392.9 L150.8 391.3 L150.2 389.6 L149.8 387.7 L149.1 385.9 L148.1 384.3 L147.5 382.5 L146.5 380.9 L145.6 379.4 L144.6 377.8 L143.8 376.2 L143.1 374.4 L142.1 372.9 L141.3 371.3 L140.3 369.8 L139.4 368.1 L138.4 366.6 L137.5 365.0 L136.4 363.6 L135.5 362.0 L134.4 360.6 L133.4 359.1 L132.4 357.6 L131.7 355.9 L130.7 354.3 L129.7 352.8 L128.5 351.5 L127.5 350.0 L126.0 347.0 L124.7 345.2 L123.5 343.3 L122.2 341.5 L121.1 339.6 L120.5 338.1 L119.6 336.9 L118.6 335.6 L117.5 334.5 L116.5 333.2 L115.5 332.0 L117.3 332.6 L119.0 333.3 L121.1 332.2 L122.1 330.7 L122.7 329.0 L125.3 330.1 L126.6 328.7 L127.4 326.9 L127.1 324.8 L126.4 322.7 L126.0 320.5 L124.8 318.5 L123.6 317.4 L122.5 316.1 L121.1 315.3 L120.3 313.8 L119.4 312.5 L118.5 311.1 L117.8 309.6 L116.6 308.5 L116.0 307.0 L114.8 305.9 L114.0 303.8 L113.7 301.6 L113.2 300.0 L112.1 298.7 L111.0 297.4 L110.1 296.1 L109.8 294.5 L109.0 293.2 L108.4 291.1 L108.2 289.0 L108.2 287.4 L108.6 285.9 L109.3 284.5 L109.7 283.0 L110.5 281.6 L110.3 279.9 L110.9 278.5 L111.2 277.0 L111.7 275.5 L111.2 274.0 L111.5 272.4 L111.0 271.0 L110.6 269.5 L110.8 267.9 L110.1 266.2 L109.1 264.8 L108.0 263.4 L107.9 261.8 L108.6 260.4 L109.0 258.9 L109.1 257.4 L109.7 255.9 L109.7 254.4 L110.4 252.9 L110.1 251.3 L110.8 249.9 L112.2 248.8Z M599.4 574.6 L599.8 573.3 L599.7 571.8 L600.5 570.6 L600.3 569.1 L602.0 569.3 L603.7 568.7 L603.5 570.2 L603.3 571.8 L602.3 573.0 L603.2 574.0 L604.3 574.6 L605.5 575.2 L606.4 576.5 L608.2 576.4 L609.2 577.5 L610.1 578.7 L611.2 579.5 L612.9 579.5 L614.0 580.4 L615.0 581.5 L616.1 582.2 L617.5 582.4 L618.6 583.2 L619.7 583.8 L620.9 584.4 L622.4 584.3 L623.9 584.1 L625.3 584.4 L626.8 584.8 L628.0 584.9 L629.2 584.6 L630.2 583.4 L631.5 584.0 L632.6 583.4 L633.9 583.7 L635.0 583.0 L636.3 583.2 L637.4 582.4 L638.5 582.0 L639.7 581.7 L640.8 581.3 L642.1 581.2 L643.3 581.0 L644.4 580.5 L645.8 580.9 L646.7 579.5 L648.0 579.5 L649.3 579.5 L649.5 581.2 L650.7 582.4 L650.3 583.9 L650.7 585.4 L650.3 586.8 L650.3 588.3 L650.6 589.9 L650.3 591.3 L650.2 592.8 L649.3 594.2 L648.6 595.4 L649.5 596.9 L649.0 598.1 L648.9 599.4 L648.2 600.7 L648.3 602.0 L649.1 603.2 L649.4 604.5 L648.9 605.9 L648.8 607.4 L647.8 608.5 L647.3 609.8 L646.8 610.9 L646.3 612.2 L645.4 613.0 L644.4 613.8 L644.4 615.1 L643.4 616.3 L643.4 617.7 L641.8 618.4 L640.5 619.6 L641.4 620.7 L640.5 622.2 L641.8 623.2 L641.5 624.5 L640.0 625.1 L638.5 625.5 L637.5 624.1 L636.6 622.6 L635.0 621.5 L634.6 619.6 L634.6 621.1 L633.2 622.1 L633.0 623.5 L632.0 624.7 L631.1 625.9 L630.7 627.5 L630.3 625.6 L628.7 624.5 L627.6 625.6 L627.7 627.3 L626.8 628.4 L625.6 629.8 L624.8 631.4 L623.7 630.7 L622.3 630.7 L621.3 629.8 L619.9 629.2 L618.5 628.7 L617.0 629.0 L615.6 628.1 L614.0 627.5 L613.7 626.0 L612.5 625.0 L612.1 623.5 L612.0 622.1 L610.9 621.2 L610.4 620.0 L610.1 618.7 L609.8 617.5 L609.5 616.3 L608.9 615.1 L609.0 613.8 L608.2 612.8 L608.2 611.5 L607.5 610.3 L607.7 609.0 L606.8 607.9 L607.5 606.6 L608.4 605.5 L606.9 604.7 L605.6 603.6 L605.2 602.0 L605.6 600.7 L604.4 599.7 L603.8 598.6 L604.5 597.2 L603.7 596.1 L603.7 594.9 L602.9 593.8 L603.3 592.5 L602.8 591.4 L602.3 590.3 L602.0 589.1 L601.8 587.9 L602.1 586.6 L601.3 585.6 L600.9 584.4 L600.1 583.3 L600.3 582.0 L599.8 580.8 L599.8 579.5 L600.3 578.2 L599.5 577.1 L599.3 575.8Z M375.3 39.8 L376.3 38.9 L376.8 37.8 L376.0 36.1 L377.6 35.5 L377.7 34.2 L379.1 33.5 L379.0 32.1 L379.0 30.8 L380.7 30.3 L379.7 28.4 L381.0 27.7 L382.3 28.2 L383.8 28.1 L384.8 29.3 L386.2 29.5 L387.4 30.2 L388.8 30.6 L389.6 28.7 L391.0 29.2 L392.2 28.5 L393.3 27.9 L394.8 29.0 L396.0 28.3 L397.1 27.7 L398.5 28.3 L399.5 29.4 L400.8 30.1 L401.9 31.0 L402.1 32.5 L400.9 33.4 L400.8 34.8 L400.1 35.9 L398.7 36.6 L397.3 36.7 L396.3 37.5 L395.7 39.0 L394.9 40.1 L392.9 39.3 L392.3 40.6 L390.8 41.2 L389.6 40.5 L388.6 39.0 L387.1 39.2 L385.8 39.0 L384.6 39.4 L383.3 38.9 L382.0 38.8 L381.0 39.8 L379.6 39.7 L378.1 39.0 L376.7 40.7Z M489.8 77.1 L490.8 76.2 L492.1 75.5 L492.9 74.2 L493.9 75.2 L495.3 74.8 L496.5 75.2 L497.6 74.5 L498.4 73.5 L499.5 74.9 L499.9 76.6 L499.0 77.6 L498.8 78.8 L498.4 80.0 L498.2 81.6 L499.7 82.1 L500.4 83.1 L500.2 84.7 L498.9 85.5 L497.9 84.6 L496.5 84.8 L495.3 84.3 L493.8 84.4 L492.9 83.1 L491.1 82.6 L489.8 83.9 L489.5 82.3 L489.3 80.7 L488.8 79.4 L489.0 78.2Z M497.9 24.3 L497.8 25.7 L496.0 26.4 L496.2 28.0 L494.6 28.9 L493.9 30.6 L493.4 32.3 L491.4 32.3 L490.5 33.6 L489.5 34.6 L488.2 35.2 L487.0 35.8 L485.6 36.1 L484.6 37.2 L485.9 36.4 L487.4 36.4 L488.4 35.4 L490.2 35.8 L491.0 34.4 L492.6 33.8 L493.8 32.9 L494.6 31.4 L495.8 30.7 L496.9 30.0 L497.0 28.4 L498.0 27.3 L498.5 26.1 L498.6 24.6Z M761.6 297.3 L763.4 298.1 L763.9 299.3 L763.4 300.6 L763.9 301.8 L762.7 302.7 L762.7 304.0 L761.9 305.1 L761.6 306.4 L761.5 307.7 L760.5 308.6 L759.9 309.7 L759.4 310.9 L758.5 312.3 L758.3 313.9 L757.9 315.4 L757.7 316.7 L756.8 317.7 L757.7 316.4 L757.1 315.0 L756.7 313.6 L757.4 312.4 L758.4 311.3 L758.2 309.7 L759.6 308.7 L759.4 307.1 L759.2 305.7 L760.7 305.0 L761.1 303.8 L761.3 302.6 L761.7 301.3 L760.7 299.9 L761.6 298.6Z M759.4 339.5 L760.9 340.2 L760.6 344.8 L759.4 349.3 L758.6 352.3 L758.9 346.3Z M485.0 477.5 L492.5 475.0 L502.5 473.8 L508.8 477.5 L502.5 480.5 L500.0 482.5 L491.2 481.2 L486.2 480.5Z M589.0 553.5 L591.1 552.1 L593.1 554.0 L593.1 558.9 L591.9 562.5 L589.6 562.9 L588.6 558.9Z M645.4 561.9 L646.8 561.2 L648.3 560.5 L649.2 561.5 L650.1 562.4 L650.3 563.8 L650.6 565.2 L651.5 566.4 L651.8 567.8 L651.4 569.3 L652.2 570.7 L653.3 571.7 L653.8 573.0 L653.6 574.3 L653.2 575.6 L652.0 575.5 L650.8 576.4 L649.6 576.5 L648.3 576.2 L647.5 574.5 L647.9 572.6 L649.3 571.1 L649.1 569.7 L648.3 568.7 L647.3 567.8 L646.2 566.5 L646.0 564.8 L645.4 563.4Z M537.2 128.8 L542.2 125.8 L547.2 126.2 L546.0 128.8 L541.0 131.2 L538.0 131.2Z M112.7 314.8 L114.2 316.4 L116.9 320.6 L117.9 323.8 L116.9 324.8 L114.8 321.7 L112.9 318.0Z M119.5 319.6 L120.6 320.6 L121.6 324.8 L122.1 328.0 L120.6 329.0 L119.8 324.8Z M104.4 315.3 L105.2 316.7 L106.3 318.0 L107.5 319.4 L108.4 320.9 L109.0 322.7 L110.5 324.1 L111.6 325.9 L112.4 327.6 L113.7 329.0 L114.9 330.2 L115.8 331.7 L114.2 331.7 L113.1 330.2 L111.6 329.0 L110.1 327.6 L109.0 325.9 L108.2 324.4 L107.3 323.0 L106.3 321.7 L105.8 320.2 L104.8 319.0 L104.4 317.5Z M105.0 301.6 L105.7 301.6 L105.9 311.1 L105.2 311.1Z" fill="none" stroke="#000" stroke-width="1.3" stroke-linejoin="round"/>
<path d="M358.5 97.5 L361.0 166.0 L366.1 299.4 L371.0 402.5" fill="none" stroke="#000" stroke-width="1.3" stroke-linejoin="round"/>
<path d="M366.1 299.4 L390.0 298.8 L420.0 298.5 L455.0 298.4 L496.0 298.6 L512.0 298.9 L530.0 299.4 L561.5 300.6" fill="none" stroke="#000" stroke-width="1.3" stroke-linejoin="round"/>
<path d="M517.0 129.0 L516.0 166.0 L512.0 298.9" fill="none" stroke="#000" stroke-width="1.3" stroke-linejoin="round"/>
<path d="M561.5 300.6 L559.0 355.0 L554.0 447.5 L549.0 520.0" fill="none" stroke="#000" stroke-width="1.3" stroke-linejoin="round"/>
<path d="M559.0 355.0 L613.5 359.7 L646.0 362.0 L670.0 363.4 L684.5 365.2 L688.1 361.6 L694.4 358.9 L700.7 359.8 L706.1 360.7 L711.6 362.5 L717.0 365.2 L721.5 368.9 L722.4 373.0 L726.0 370.7 L731.4 369.8 L733.3 365.2 L735.1 362.5 L742.3 359.8 L749.5 360.7 L754.9 361.6 L758.9 360.7" fill="none" stroke="#000" stroke-width="1.3" stroke-linejoin="round"/>
<path d="M554.0 447.5 L565.0 449.5 L572.5 452.5 L577.5 460.0 L586.0 464.0 L590.0 472.5 L600.0 480.0 L606.0 487.5 L612.5 485.0 L620.0 484.3 L623.6 487.0 L629.0 488.8 L634.5 489.7 L639.9 490.6 L645.3 490.2 L650.7 489.7 L653.4 492.4 L655.2 496.0 L656.1 501.4 L657.1 506.0 L680.5 521.3" fill="none" stroke="#000" stroke-width="1.3" stroke-linejoin="round"/>
<path d="M668.8 479.8 L671.5 478.0 L675.1 477.6 L677.8 480.7 L675.1 482.5 L674.2 486.1 L672.4 491.5 L669.7 488.8 L668.4 484.3 L668.8 479.8" fill="none" stroke="#000" stroke-width="1.3" stroke-linejoin="round"/>
<path d="M628.7 583.8 L630.3 586.4 L632.3 589.3" fill="none" stroke="#000" stroke-width="1.3" stroke-linejoin="round"/>
<path d="M484.2 46.3 L487.5 45.5 L489.5 47.5 L488.5 50.2 L485.0 50.5Z" fill="#fff" stroke="#000" stroke-width="1" stroke-linejoin="round"/>
<path d="M599.4 525.3 L604.3 522.1 L608.2 521.7 L610.1 524.7 L609.2 528.6 L606.2 530.2 L603.3 528.6Z" fill="#fff" stroke="#000" stroke-width="1" stroke-linejoin="round"/>
<path d="M243.8 162.5 L245.5 161.8 L246.3 163.3 L244.6 164.5Z" fill="#fff" stroke="#000" stroke-width="1" stroke-linejoin="round"/>
<circle cx="477.7" cy="95.5" r="0.8" fill="#000"/>
<circle cx="486.6" cy="74.5" r="1.1" fill="#000"/>
<circle cx="492.5" cy="108.0" r="1.2" fill="#000"/>
<circle cx="495.0" cy="109.5" r="1.8" fill="#000"/>
<circle cx="499.0" cy="111.5" r="2.0" fill="#000"/>
<circle cx="598.8" cy="12.0" r="2.0" fill="#000"/>
<circle cx="597.2" cy="11.2" r="1.6" fill="#000"/>
<circle cx="597.8" cy="22.0" r="1.8" fill="#000"/>
<circle cx="542.0" cy="137.5" r="0.9" fill="#000"/>
<circle cx="131.2" cy="225.2" r="1.9" fill="#000"/>
<circle cx="150.0" cy="219.0" r="0.8" fill="#000"/>
<circle cx="152.0" cy="218.0" r="0.7" fill="#000"/>
<circle cx="455.0" cy="438.7" r="0.9" fill="#000"/>
<circle cx="665.0" cy="176.0" r="1.1" fill="#000"/>
<circle cx="165.6" cy="438.3" r="1.6" fill="#000"/>
<circle cx="612.1" cy="530.6" r="1.7" fill="#000"/>
<circle cx="609.5" cy="529.8" r="1.0" fill="#000"/>
<rect x="852.60" y="113.50" width="29.60" height="36.05" fill="#c14759"/>
<rect x="852.60" y="149.25" width="29.60" height="36.05" fill="#cc6c7a"/>
<rect x="852.60" y="185.00" width="29.60" height="36.05" fill="#d9929c"/>
<rect x="852.60" y="220.75" width="29.60" height="36.05" fill="#e4b7bd"/>
<rect x="852.60" y="256.50" width="29.60" height="36.05" fill="#eaeaea"/>
<rect x="852.60" y="292.25" width="29.60" height="36.05" fill="#ffffff"/>
<rect x="852.60" y="328.00" width="29.60" height="36.05" fill="#ffffff"/>
<rect x="852.60" y="363.75" width="29.60" height="36.05" fill="#e9eff1"/>
<rect x="852.60" y="399.50" width="29.60" height="36.05" fill="#c9d8dc"/>
<rect x="852.60" y="435.25" width="29.60" height="36.05" fill="#a9c6cd"/>
<rect x="852.60" y="471.00" width="29.60" height="36.05" fill="#8ab5c1"/>
<rect x="852.60" y="506.75" width="29.60" height="36.05" fill="#6aa8b6"/>
<path d="M852.60 113.50 L867.40 78.6 L882.20 113.50 Z" fill="#b01c3b"/>
<path d="M852.60 542.50 L867.40 576.6 L882.20 542.50 Z" fill="#4aa0b0"/>
<line x1="852.60" y1="113.50" x2="882.20" y2="113.50" stroke="#000" stroke-opacity="0.8" stroke-width="1"/>
<line x1="852.60" y1="149.25" x2="882.20" y2="149.25" stroke="#000" stroke-opacity="0.8" stroke-width="1"/>
<line x1="852.60" y1="185.00" x2="882.20" y2="185.00" stroke="#000" stroke-opacity="0.8" stroke-width="1"/>
<line x1="852.60" y1="220.75" x2="882.20" y2="220.75" stroke="#000" stroke-opacity="0.8" stroke-width="1"/>
<line x1="852.60" y1="256.50" x2="882.20" y2="256.50" stroke="#000" stroke-opacity="0.8" stroke-width="1"/>
<line x1="852.60" y1="292.25" x2="882.20" y2="292.25" stroke="#000" stroke-opacity="0.8" stroke-width="1"/>
<line x1="852.60" y1="328.00" x2="882.20" y2="328.00" stroke="#000" stroke-opacity="0.8" stroke-width="1"/>
<line x1="852.60" y1="363.75" x2="882.20" y2="363.75" stroke="#000" stroke-opacity="0.8" stroke-width="1"/>
<line x1="852.60" y1="399.50" x2="882.20" y2="399.50" stroke="#000" stroke-opacity="0.8" stroke-width="1"/>
<line x1="852.60" y1="435.25" x2="882.20" y2="435.25" stroke="#000" stroke-opacity="0.8" stroke-width="1"/>
<line x1="852.60" y1="471.00" x2="882.20" y2="471.00" stroke="#000" stroke-opacity="0.8" stroke-width="1"/>
<line x1="852.60" y1="506.75" x2="882.20" y2="506.75" stroke="#000" stroke-opacity="0.8" stroke-width="1"/>
<line x1="852.60" y1="542.50" x2="882.20" y2="542.50" stroke="#000" stroke-opacity="0.8" stroke-width="1"/>
<path d="M852.60 113.50 L867.40 78.6 L882.20 113.50 L882.20 542.50 L867.40 576.6 L852.60 542.50 Z" fill="none" stroke="#000" stroke-width="1.05"/>
<g font-family="'DejaVu Sans', 'Liberation Sans', sans-serif" font-size="14" fill="#000">
<text transform="translate(886.7,117.90) scale(0.99,1.045)">80</text>
<text transform="translate(886.7,153.65) scale(0.99,1.045)">75</text>
<text transform="translate(886.7,189.40) scale(0.99,1.045)">70</text>
<text transform="translate(886.7,225.15) scale(0.99,1.045)">65</text>
<text transform="translate(886.7,260.90) scale(0.99,1.045)">60</text>
<text transform="translate(886.7,296.65) scale(0.99,1.045)">55</text>
<text transform="translate(886.7,332.40) scale(0.99,1.045)">50</text>
<text transform="translate(886.7,368.15) scale(0.99,1.045)">45</text>
<text transform="translate(886.7,403.90) scale(0.99,1.045)">40</text>
<text transform="translate(886.7,439.65) scale(0.99,1.045)">35</text>
<text transform="translate(886.7,475.40) scale(0.99,1.045)">30</text>
<text transform="translate(886.7,511.15) scale(0.99,1.045)">25</text>
<text transform="translate(886.7,546.90) scale(0.99,1.045)">20</text>
</g>
<text transform="translate(925.6,329) rotate(-90) scale(1,1.02)" text-anchor="middle" font-family="'DejaVu Sans', 'Liberation Sans', sans-serif" font-size="16.85" fill="#000">Chance of exceeding median max. temp. (%)</text>
<g font-family="'DejaVu Sans', 'Liberation Sans', sans-serif" fill="#000">
<text x="292.7" y="547.9" text-anchor="middle" font-size="19" textLength="573.5" lengthAdjust="spacing">Chance of exceeding the median maximum temperature for</text>
<text x="292.7" y="568.5" text-anchor="middle" font-size="19" textLength="322.5" lengthAdjust="spacing">December 2025 to February 2026</text>
<text x="10.2" y="640" font-size="10.55">Model: ACCESS-S2</text>
<text x="10.2" y="657.6" font-size="10.55">Base period: 1981-2018</text>
<text x="981.5" y="640.6" font-size="10.55" text-anchor="end">Model run: 23/11/2025</text>
<text x="981.5" y="657.6" font-size="10.55" text-anchor="end">Issued: Map not issued</text>
</g>
<g id="logo">
<g id="crest">
<path d="M110.43 12.01 L111.09 14.22 L113.23 13.36 L111.91 15.25 L113.92 16.39 L111.62 16.54 L111.99 18.82 L110.43 17.11 L108.88 18.82 L109.25 16.54 L106.94 16.39 L108.95 15.25 L107.64 13.36 L109.78 14.22Z" fill="#000" />
<path d="M106.10 21.45 L114.77 21.45" fill="none" stroke="#111" stroke-width="1.00" stroke-linecap="round" stroke-linejoin="round" stroke-opacity="1.00"/>
<path d="M96.33 17.54 L97.42 18.85 L98.50 17.98 L100.35 17.54 L100.67 19.39 L102.84 21.88 L101.76 22.97 L99.91 23.18 L100.35 25.90 L101.76 28.07 L102.52 30.23 L101.21 30.99 L99.59 29.48 L98.50 31.32 L97.42 35.11 L96.88 39.45 L95.79 43.79 L95.25 47.59 L97.42 49.00 L98.50 50.08 L93.62 50.30 L92.54 45.96 L91.45 43.79 L89.28 47.05 L86.03 49.76 L81.69 50.52 L76.27 50.84 L81.69 49.21 L85.49 47.05 L87.11 42.71 L87.66 38.37 L88.74 34.03 L91.45 29.69 L94.71 25.35 L96.33 22.10 L96.66 19.39Z" fill="#000" stroke="#000" stroke-width="0.3" stroke-linejoin="round"/>
<path d="M120.74 20.80 L122.36 19.39 L124.53 19.06 L125.62 20.47 L125.40 23.18 L124.86 26.44 L125.08 29.69 L127.79 30.23 L131.58 30.78 L135.38 32.40 L138.09 35.11 L139.50 38.37 L138.63 40.54 L135.92 41.08 L132.67 40.54 L132.13 43.79 L132.45 47.05 L132.89 49.76 L131.04 50.08 L130.50 45.96 L129.41 41.62 L127.79 42.71 L126.70 45.96 L125.62 49.76 L124.21 49.76 L124.86 45.42 L125.62 41.62 L123.99 39.45 L122.36 36.20 L122.04 31.86 L122.69 27.52 L123.12 23.18 L122.69 21.56Z" fill="#000" stroke="#000" stroke-width="0.3" stroke-linejoin="round"/>
<path d="M102.08 27.31 L119.44 27.31 L119.44 36.20 L118.57 40.54 L115.86 43.79 L110.76 45.42 L105.55 43.79 L102.84 40.54 L102.08 36.20Z" fill="#fff" stroke="#222" stroke-width="0.9" stroke-linejoin="round"/>
<path d="M103.38 28.61 L107.18 28.61 L107.18 32.40 L103.38 32.40Z" fill="#000" fill-opacity="0.75"/>
<path d="M108.26 28.61 L113.15 28.61 L113.15 32.40 L108.26 32.40Z" fill="#000" fill-opacity="0.70"/>
<path d="M114.23 28.61 L118.35 28.61 L118.35 32.40 L114.23 32.40Z" fill="#000" fill-opacity="0.80"/>
<path d="M103.38 33.81 L107.18 33.81 L107.18 37.83 L103.38 37.83Z" fill="#000" fill-opacity="0.70"/>
<path d="M108.26 33.81 L113.15 33.81 L113.15 37.83 L108.26 37.83Z" fill="#000" fill-opacity="0.60"/>
<path d="M114.23 33.81 L118.35 33.81 L118.35 37.83 L114.23 37.83Z" fill="#000" fill-opacity="0.70"/>
<path d="M105.55 39.24 L115.86 39.24 L115.86 42.92 L105.55 42.92Z" fill="#000" fill-opacity="0.75"/>
<path d="M68.13 51.17 L153.28 51.17" fill="none" stroke="#000" stroke-width="0.90" stroke-linecap="round" stroke-linejoin="round" stroke-opacity="1.00"/>
<path d="M68.13 51.17 L67.38 49.76 L68.13 47.91 L70.30 47.26 L71.71 48.35 L71.06 49.76" fill="none" stroke="#000" stroke-width="0.60" stroke-linecap="round" stroke-linejoin="round" stroke-opacity="1.00"/>
<path d="M153.28 51.17 L154.14 49.76 L153.28 47.91 L151.11 47.26 L149.80 48.35 L150.56 49.76" fill="none" stroke="#000" stroke-width="0.60" stroke-linecap="round" stroke-linejoin="round" stroke-opacity="1.00"/>
<path d="M86.57 49.76 L81.69 44.88 L78.44 37.28 L77.35 28.07" fill="none" stroke="#000" stroke-width="0.45" stroke-linecap="round" stroke-linejoin="round" stroke-opacity="1.00"/>
<ellipse cx="86.03" cy="47.94" rx="1.16" ry="0.49" transform="rotate(-90 86.03 47.94)" fill="#000" fill-opacity="1.00"/>
<ellipse cx="83.75" cy="48.34" rx="1.11" ry="0.49" transform="rotate(-190 83.75 48.34)" fill="#000" fill-opacity="1.00"/>
<ellipse cx="84.02" cy="45.62" rx="1.32" ry="0.49" transform="rotate(-84 84.02 45.62)" fill="#000" fill-opacity="1.00"/>
<ellipse cx="81.25" cy="45.75" rx="1.42" ry="0.49" transform="rotate(-172 81.25 45.75)" fill="#000" fill-opacity="1.00"/>
<ellipse cx="81.48" cy="43.41" rx="1.36" ry="0.49" transform="rotate(-99 81.48 43.41)" fill="#000" fill-opacity="1.00"/>
<ellipse cx="80.03" cy="42.89" rx="1.12" ry="0.49" transform="rotate(-150 80.03 42.89)" fill="#000" fill-opacity="1.00"/>
<ellipse cx="81.25" cy="40.45" rx="1.64" ry="0.49" transform="rotate(-65 81.25 40.45)" fill="#000" fill-opacity="1.00"/>
<ellipse cx="78.72" cy="40.06" rx="1.21" ry="0.49" transform="rotate(-152 78.72 40.06)" fill="#000" fill-opacity="1.00"/>
<ellipse cx="80.26" cy="37.65" rx="1.73" ry="0.49" transform="rotate(-59 80.26 37.65)" fill="#000" fill-opacity="1.00"/>
<ellipse cx="77.27" cy="37.51" rx="1.34" ry="0.49" transform="rotate(-166 77.27 37.51)" fill="#000" fill-opacity="1.00"/>
<ellipse cx="79.35" cy="35.77" rx="1.09" ry="0.49" transform="rotate(-32 79.35 35.77)" fill="#000" fill-opacity="1.00"/>
<ellipse cx="76.88" cy="34.36" rx="1.26" ry="0.49" transform="rotate(-157 76.88 34.36)" fill="#000" fill-opacity="1.00"/>
<ellipse cx="78.65" cy="32.32" rx="1.14" ry="0.49" transform="rotate(-57 78.65 32.32)" fill="#000" fill-opacity="1.00"/>
<ellipse cx="76.40" cy="30.73" rx="1.63" ry="0.49" transform="rotate(-141 76.40 30.73)" fill="#000" fill-opacity="1.00"/>
<ellipse cx="78.52" cy="29.00" rx="1.47" ry="0.49" transform="rotate(-56 78.52 29.00)" fill="#000" fill-opacity="1.00"/>
<ellipse cx="76.17" cy="28.12" rx="1.32" ry="0.49" transform="rotate(-151 76.17 28.12)" fill="#000" fill-opacity="1.00"/>
<path d="M86.03 50.52 L79.52 48.67 L71.93 45.96" fill="none" stroke="#000" stroke-width="0.45" stroke-linecap="round" stroke-linejoin="round" stroke-opacity="1.00"/>
<ellipse cx="84.88" cy="49.28" rx="1.02" ry="0.49" transform="rotate(-113 84.88 49.28)" fill="#000" fill-opacity="1.00"/>
<ellipse cx="82.75" cy="50.35" rx="1.11" ry="0.49" transform="rotate(-201 82.75 50.35)" fill="#000" fill-opacity="1.00"/>
<ellipse cx="82.02" cy="48.20" rx="1.25" ry="0.49" transform="rotate(-109 82.02 48.20)" fill="#000" fill-opacity="1.00"/>
<ellipse cx="79.73" cy="49.82" rx="1.36" ry="0.49" transform="rotate(-209 79.73 49.82)" fill="#000" fill-opacity="1.00"/>
<ellipse cx="79.06" cy="47.54" rx="1.17" ry="0.49" transform="rotate(-116 79.06 47.54)" fill="#000" fill-opacity="1.00"/>
<ellipse cx="76.99" cy="49.20" rx="1.43" ry="0.49" transform="rotate(-219 76.99 49.20)" fill="#000" fill-opacity="1.00"/>
<ellipse cx="76.12" cy="46.40" rx="1.35" ry="0.49" transform="rotate(-118 76.12 46.40)" fill="#000" fill-opacity="1.00"/>
<ellipse cx="73.97" cy="48.09" rx="1.55" ry="0.49" transform="rotate(-211 73.97 48.09)" fill="#000" fill-opacity="1.00"/>
<ellipse cx="73.73" cy="45.46" rx="1.16" ry="0.49" transform="rotate(-103 73.73 45.46)" fill="#000" fill-opacity="1.00"/>
<ellipse cx="71.81" cy="47.03" rx="1.05" ry="0.49" transform="rotate(-225 71.81 47.03)" fill="#000" fill-opacity="1.00"/>
<path d="M84.95 49.21 L78.44 43.79 L73.02 42.71" fill="none" stroke="#000" stroke-width="0.45" stroke-linecap="round" stroke-linejoin="round" stroke-opacity="1.00"/>
<ellipse cx="84.21" cy="47.18" rx="1.35" ry="0.43" transform="rotate(-93 84.21 47.18)" fill="#000" fill-opacity="1.00"/>
<ellipse cx="81.62" cy="47.53" rx="1.19" ry="0.43" transform="rotate(-180 81.62 47.53)" fill="#000" fill-opacity="1.00"/>
<ellipse cx="81.24" cy="45.03" rx="1.29" ry="0.43" transform="rotate(-104 81.24 45.03)" fill="#000" fill-opacity="1.00"/>
<ellipse cx="78.95" cy="45.72" rx="1.24" ry="0.43" transform="rotate(-198 78.95 45.72)" fill="#000" fill-opacity="1.00"/>
<ellipse cx="79.12" cy="43.00" rx="1.08" ry="0.43" transform="rotate(-79 79.12 43.00)" fill="#000" fill-opacity="1.00"/>
<ellipse cx="76.33" cy="44.53" rx="1.25" ry="0.43" transform="rotate(-225 76.33 44.53)" fill="#000" fill-opacity="1.00"/>
<ellipse cx="75.02" cy="42.07" rx="1.17" ry="0.43" transform="rotate(-116 75.02 42.07)" fill="#000" fill-opacity="1.00"/>
<ellipse cx="72.82" cy="44.09" rx="1.46" ry="0.43" transform="rotate(-229 72.82 44.09)" fill="#000" fill-opacity="1.00"/>
<path d="M137.01 49.76 L141.89 44.88 L144.06 37.28 L145.14 28.07" fill="none" stroke="#000" stroke-width="0.45" stroke-linecap="round" stroke-linejoin="round" stroke-opacity="1.00"/>
<ellipse cx="139.21" cy="49.35" rx="1.53" ry="0.49" transform="rotate(4 139.21 49.35)" fill="#000" fill-opacity="1.00"/>
<ellipse cx="138.85" cy="46.47" rx="1.55" ry="0.49" transform="rotate(-82 138.85 46.47)" fill="#000" fill-opacity="1.00"/>
<ellipse cx="141.57" cy="47.41" rx="1.76" ry="0.49" transform="rotate(9 141.57 47.41)" fill="#000" fill-opacity="1.00"/>
<ellipse cx="140.38" cy="44.69" rx="1.26" ry="0.49" transform="rotate(-105 140.38 44.69)" fill="#000" fill-opacity="1.00"/>
<ellipse cx="143.48" cy="45.01" rx="1.53" ry="0.49" transform="rotate(2 143.48 45.01)" fill="#000" fill-opacity="1.00"/>
<ellipse cx="141.75" cy="42.12" rx="1.38" ry="0.49" transform="rotate(-110 141.75 42.12)" fill="#000" fill-opacity="1.00"/>
<ellipse cx="143.72" cy="41.41" rx="1.14" ry="0.49" transform="rotate(-34 143.72 41.41)" fill="#000" fill-opacity="1.00"/>
<ellipse cx="142.47" cy="39.02" rx="1.60" ry="0.49" transform="rotate(-111 142.47 39.02)" fill="#000" fill-opacity="1.00"/>
<ellipse cx="144.61" cy="38.43" rx="1.23" ry="0.49" transform="rotate(-35 144.61 38.43)" fill="#000" fill-opacity="1.00"/>
<ellipse cx="142.98" cy="36.19" rx="1.67" ry="0.49" transform="rotate(-121 142.98 36.19)" fill="#000" fill-opacity="1.00"/>
<ellipse cx="145.23" cy="35.20" rx="1.37" ry="0.49" transform="rotate(-46 145.23 35.20)" fill="#000" fill-opacity="1.00"/>
<ellipse cx="143.05" cy="33.48" rx="1.68" ry="0.49" transform="rotate(-135 143.05 33.48)" fill="#000" fill-opacity="1.00"/>
<ellipse cx="146.20" cy="32.56" rx="1.67" ry="0.49" transform="rotate(-24 146.20 32.56)" fill="#000" fill-opacity="1.00"/>
<ellipse cx="143.81" cy="30.61" rx="1.35" ry="0.49" transform="rotate(-127 143.81 30.61)" fill="#000" fill-opacity="1.00"/>
<ellipse cx="146.34" cy="29.18" rx="1.68" ry="0.49" transform="rotate(-38 146.34 29.18)" fill="#000" fill-opacity="1.00"/>
<ellipse cx="143.98" cy="28.12" rx="1.16" ry="0.49" transform="rotate(-147 143.98 28.12)" fill="#000" fill-opacity="1.00"/>
<path d="M137.55 50.52 L144.06 48.67 L151.65 45.96" fill="none" stroke="#000" stroke-width="0.45" stroke-linecap="round" stroke-linejoin="round" stroke-opacity="1.00"/>
<ellipse cx="139.39" cy="50.83" rx="1.13" ry="0.49" transform="rotate(24 139.39 50.83)" fill="#000" fill-opacity="1.00"/>
<ellipse cx="140.45" cy="48.71" rx="1.29" ry="0.49" transform="rotate(-58 140.45 48.71)" fill="#000" fill-opacity="1.00"/>
<ellipse cx="142.12" cy="50.26" rx="1.15" ry="0.49" transform="rotate(37 142.12 50.26)" fill="#000" fill-opacity="1.00"/>
<ellipse cx="143.41" cy="48.04" rx="1.25" ry="0.49" transform="rotate(-51 143.41 48.04)" fill="#000" fill-opacity="1.00"/>
<ellipse cx="145.25" cy="49.44" rx="1.34" ry="0.49" transform="rotate(30 145.25 49.44)" fill="#000" fill-opacity="1.00"/>
<ellipse cx="145.55" cy="46.65" rx="1.43" ry="0.49" transform="rotate(-83 145.55 46.65)" fill="#000" fill-opacity="1.00"/>
<ellipse cx="148.06" cy="48.48" rx="1.38" ry="0.49" transform="rotate(31 148.06 48.48)" fill="#000" fill-opacity="1.00"/>
<ellipse cx="148.45" cy="46.13" rx="1.01" ry="0.49" transform="rotate(-75 148.45 46.13)" fill="#000" fill-opacity="1.00"/>
<ellipse cx="150.76" cy="47.81" rx="1.48" ry="0.49" transform="rotate(42 150.76 47.81)" fill="#000" fill-opacity="1.00"/>
<ellipse cx="151.21" cy="44.59" rx="1.50" ry="0.49" transform="rotate(-81 151.21 44.59)" fill="#000" fill-opacity="1.00"/>
<path d="M138.63 49.21 L145.14 43.79 L150.56 42.71" fill="none" stroke="#000" stroke-width="0.45" stroke-linecap="round" stroke-linejoin="round" stroke-opacity="1.00"/>
<ellipse cx="140.54" cy="48.81" rx="1.13" ry="0.43" transform="rotate(7 140.54 48.81)" fill="#000" fill-opacity="1.00"/>
<ellipse cx="140.94" cy="46.16" rx="1.27" ry="0.43" transform="rotate(-78 140.94 46.16)" fill="#000" fill-opacity="1.00"/>
<ellipse cx="143.02" cy="46.36" rx="0.93" ry="0.43" transform="rotate(-3 143.02 46.36)" fill="#000" fill-opacity="1.00"/>
<ellipse cx="143.51" cy="44.22" rx="0.99" ry="0.43" transform="rotate(-81 143.51 44.22)" fill="#000" fill-opacity="1.00"/>
<ellipse cx="145.70" cy="44.27" rx="0.93" ry="0.43" transform="rotate(5 145.70 44.27)" fill="#000" fill-opacity="1.00"/>
<ellipse cx="147.02" cy="42.78" rx="0.99" ry="0.43" transform="rotate(-46 147.02 42.78)" fill="#000" fill-opacity="1.00"/>
<ellipse cx="149.08" cy="43.77" rx="1.11" ry="0.43" transform="rotate(27 149.08 43.77)" fill="#000" fill-opacity="1.00"/>
<ellipse cx="150.77" cy="41.74" rx="1.42" ry="0.43" transform="rotate(-47 150.77 41.74)" fill="#000" fill-opacity="1.00"/>
<path d="M110.43 64.40 L103.38 58.98 L92.54 56.81 L81.69 57.35 L70.30 58.43" fill="none" stroke="#000" stroke-width="0.45" stroke-linecap="round" stroke-linejoin="round" stroke-opacity="1.00"/>
<ellipse cx="109.81" cy="62.53" rx="1.25" ry="0.54" transform="rotate(-89 109.81 62.53)" fill="#000" fill-opacity="1.00"/>
<ellipse cx="106.96" cy="63.05" rx="1.40" ry="0.54" transform="rotate(-185 106.96 63.05)" fill="#000" fill-opacity="1.00"/>
<ellipse cx="107.06" cy="60.58" rx="1.23" ry="0.54" transform="rotate(-97 107.06 60.58)" fill="#000" fill-opacity="1.00"/>
<ellipse cx="104.01" cy="61.74" rx="1.89" ry="0.54" transform="rotate(-203 104.01 61.74)" fill="#000" fill-opacity="1.00"/>
<ellipse cx="104.54" cy="58.29" rx="1.51" ry="0.54" transform="rotate(-93 104.54 58.29)" fill="#000" fill-opacity="1.00"/>
<ellipse cx="102.14" cy="59.56" rx="1.22" ry="0.54" transform="rotate(-206 102.14 59.56)" fill="#000" fill-opacity="1.00"/>
<ellipse cx="100.94" cy="57.42" rx="1.34" ry="0.54" transform="rotate(-123 100.94 57.42)" fill="#000" fill-opacity="1.00"/>
<ellipse cx="99.24" cy="59.37" rx="1.26" ry="0.54" transform="rotate(-229 99.24 59.37)" fill="#000" fill-opacity="1.00"/>
<ellipse cx="97.16" cy="56.51" rx="1.86" ry="0.54" transform="rotate(-133 97.16 56.51)" fill="#000" fill-opacity="1.00"/>
<ellipse cx="95.91" cy="58.57" rx="1.25" ry="0.54" transform="rotate(-220 95.91 58.57)" fill="#000" fill-opacity="1.00"/>
<ellipse cx="94.79" cy="56.24" rx="1.16" ry="0.54" transform="rotate(-117 94.79 56.24)" fill="#000" fill-opacity="1.00"/>
<ellipse cx="92.18" cy="58.37" rx="1.88" ry="0.54" transform="rotate(-220 92.18 58.37)" fill="#000" fill-opacity="1.00"/>
<ellipse cx="91.21" cy="55.27" rx="1.67" ry="0.54" transform="rotate(238 91.21 55.27)" fill="#000" fill-opacity="1.00"/>
<ellipse cx="89.47" cy="58.02" rx="1.42" ry="0.54" transform="rotate(134 89.47 58.02)" fill="#000" fill-opacity="1.00"/>
<ellipse cx="87.42" cy="55.84" rx="1.72" ry="0.54" transform="rotate(217 87.42 55.84)" fill="#000" fill-opacity="1.00"/>
<ellipse cx="86.19" cy="58.61" rx="1.73" ry="0.54" transform="rotate(126 86.19 58.61)" fill="#000" fill-opacity="1.00"/>
<ellipse cx="84.62" cy="56.19" rx="1.31" ry="0.54" transform="rotate(222 84.62 56.19)" fill="#000" fill-opacity="1.00"/>
<ellipse cx="83.10" cy="59.07" rx="1.89" ry="0.54" transform="rotate(118 83.10 59.07)" fill="#000" fill-opacity="1.00"/>
<ellipse cx="81.41" cy="55.68" rx="1.75" ry="0.54" transform="rotate(238 81.41 55.68)" fill="#000" fill-opacity="1.00"/>
<ellipse cx="80.03" cy="59.13" rx="1.70" ry="0.54" transform="rotate(115 80.03 59.13)" fill="#000" fill-opacity="1.00"/>
<ellipse cx="77.84" cy="56.59" rx="1.53" ry="0.54" transform="rotate(216 77.84 56.59)" fill="#000" fill-opacity="1.00"/>
<ellipse cx="76.78" cy="58.73" rx="1.16" ry="0.54" transform="rotate(129 76.78 58.73)" fill="#000" fill-opacity="1.00"/>
<ellipse cx="74.68" cy="57.14" rx="1.35" ry="0.54" transform="rotate(210 74.68 57.14)" fill="#000" fill-opacity="1.00"/>
<ellipse cx="73.13" cy="59.41" rx="1.66" ry="0.54" transform="rotate(132 73.13 59.41)" fill="#000" fill-opacity="1.00"/>
<ellipse cx="71.87" cy="56.82" rx="1.48" ry="0.54" transform="rotate(238 71.87 56.82)" fill="#000" fill-opacity="1.00"/>
<ellipse cx="70.35" cy="60.29" rx="1.89" ry="0.54" transform="rotate(111 70.35 60.29)" fill="#000" fill-opacity="1.00"/>
<path d="M110.43 64.40 L117.48 58.98 L128.33 56.81 L139.18 57.35 L150.56 58.43" fill="none" stroke="#000" stroke-width="0.45" stroke-linecap="round" stroke-linejoin="round" stroke-opacity="1.00"/>
<ellipse cx="112.48" cy="64.59" rx="1.42" ry="0.54" transform="rotate(26 112.48 64.59)" fill="#000" fill-opacity="1.00"/>
<ellipse cx="112.64" cy="61.50" rx="1.31" ry="0.54" transform="rotate(-79 112.64 61.50)" fill="#000" fill-opacity="1.00"/>
<ellipse cx="115.08" cy="62.00" rx="1.29" ry="0.54" transform="rotate(3 115.08 62.00)" fill="#000" fill-opacity="1.00"/>
<ellipse cx="114.90" cy="58.93" rx="1.82" ry="0.54" transform="rotate(-91 114.90 58.93)" fill="#000" fill-opacity="1.00"/>
<ellipse cx="117.76" cy="60.58" rx="1.50" ry="0.54" transform="rotate(23 117.76 60.58)" fill="#000" fill-opacity="1.00"/>
<ellipse cx="118.31" cy="57.21" rx="1.75" ry="0.54" transform="rotate(-66 118.31 57.21)" fill="#000" fill-opacity="1.00"/>
<ellipse cx="120.74" cy="59.45" rx="1.64" ry="0.54" transform="rotate(26 120.74 59.45)" fill="#000" fill-opacity="1.00"/>
<ellipse cx="121.25" cy="56.50" rx="1.73" ry="0.54" transform="rotate(-74 121.25 56.50)" fill="#000" fill-opacity="1.00"/>
<ellipse cx="123.45" cy="59.20" rx="1.50" ry="0.54" transform="rotate(46 123.45 59.20)" fill="#000" fill-opacity="1.00"/>
<ellipse cx="125.09" cy="56.19" rx="1.74" ry="0.54" transform="rotate(-52 125.09 56.19)" fill="#000" fill-opacity="1.00"/>
<ellipse cx="127.09" cy="58.44" rx="1.75" ry="0.54" transform="rotate(34 127.09 58.44)" fill="#000" fill-opacity="1.00"/>
<ellipse cx="127.49" cy="55.52" rx="1.44" ry="0.54" transform="rotate(-75 127.49 55.52)" fill="#000" fill-opacity="1.00"/>
<ellipse cx="130.00" cy="58.39" rx="1.86" ry="0.54" transform="rotate(50 130.00 58.39)" fill="#000" fill-opacity="1.00"/>
<ellipse cx="131.13" cy="55.78" rx="1.27" ry="0.54" transform="rotate(-54 131.13 55.78)" fill="#000" fill-opacity="1.00"/>
<ellipse cx="132.97" cy="57.90" rx="1.25" ry="0.54" transform="rotate(42 132.97 57.90)" fill="#000" fill-opacity="1.00"/>
<ellipse cx="134.54" cy="55.41" rx="1.75" ry="0.54" transform="rotate(-59 134.54 55.41)" fill="#000" fill-opacity="1.00"/>
<ellipse cx="136.62" cy="58.46" rx="1.77" ry="0.54" transform="rotate(42 136.62 58.46)" fill="#000" fill-opacity="1.00"/>
<ellipse cx="137.66" cy="55.65" rx="1.64" ry="0.54" transform="rotate(-62 137.66 55.65)" fill="#000" fill-opacity="1.00"/>
<ellipse cx="139.56" cy="58.59" rx="1.56" ry="0.54" transform="rotate(48 139.56 58.59)" fill="#000" fill-opacity="1.00"/>
<ellipse cx="141.10" cy="56.73" rx="1.15" ry="0.54" transform="rotate(-33 141.10 56.73)" fill="#000" fill-opacity="1.00"/>
<ellipse cx="142.29" cy="59.27" rx="1.63" ry="0.54" transform="rotate(70 142.29 59.27)" fill="#000" fill-opacity="1.00"/>
<ellipse cx="144.71" cy="56.29" rx="1.85" ry="0.54" transform="rotate(-45 144.71 56.29)" fill="#000" fill-opacity="1.00"/>
<ellipse cx="146.08" cy="59.49" rx="1.80" ry="0.54" transform="rotate(53 146.08 59.49)" fill="#000" fill-opacity="1.00"/>
<ellipse cx="147.35" cy="56.89" rx="1.30" ry="0.54" transform="rotate(-54 147.35 56.89)" fill="#000" fill-opacity="1.00"/>
<ellipse cx="149.14" cy="59.32" rx="1.36" ry="0.54" transform="rotate(48 149.14 59.32)" fill="#000" fill-opacity="1.00"/>
<ellipse cx="151.15" cy="57.31" rx="1.58" ry="0.54" transform="rotate(-37 151.15 57.31)" fill="#000" fill-opacity="1.00"/>
<path d="M95.79 62.23 L90.37 65.48 L84.95 68.74" fill="none" stroke="#000" stroke-width="0.45" stroke-linecap="round" stroke-linejoin="round" stroke-opacity="1.00"/>
<ellipse cx="93.77" cy="62.36" rx="1.25" ry="0.49" transform="rotate(192 93.77 62.36)" fill="#000" fill-opacity="1.00"/>
<ellipse cx="93.17" cy="65.07" rx="1.57" ry="0.49" transform="rotate(110 93.17 65.07)" fill="#000" fill-opacity="1.00"/>
<ellipse cx="91.05" cy="63.91" rx="1.27" ry="0.49" transform="rotate(195 91.05 63.91)" fill="#000" fill-opacity="1.00"/>
<ellipse cx="90.85" cy="66.79" rx="1.56" ry="0.49" transform="rotate(97 90.85 66.79)" fill="#000" fill-opacity="1.00"/>
<ellipse cx="88.03" cy="65.39" rx="1.57" ry="0.49" transform="rotate(197 88.03 65.39)" fill="#000" fill-opacity="1.00"/>
<ellipse cx="88.11" cy="68.14" rx="1.32" ry="0.49" transform="rotate(99 88.11 68.14)" fill="#000" fill-opacity="1.00"/>
<ellipse cx="85.96" cy="67.15" rx="0.99" ry="0.49" transform="rotate(200 85.96 67.15)" fill="#000" fill-opacity="1.00"/>
<ellipse cx="85.40" cy="69.51" rx="1.10" ry="0.49" transform="rotate(101 85.40 69.51)" fill="#000" fill-opacity="1.00"/>
<path d="M125.08 62.23 L130.50 65.48 L135.92 68.74" fill="none" stroke="#000" stroke-width="0.45" stroke-linecap="round" stroke-linejoin="round" stroke-opacity="1.00"/>
<ellipse cx="126.42" cy="64.14" rx="1.50" ry="0.49" transform="rotate(66 126.42 64.14)" fill="#000" fill-opacity="1.00"/>
<ellipse cx="128.50" cy="63.22" rx="1.28" ry="0.49" transform="rotate(-9 128.50 63.22)" fill="#000" fill-opacity="1.00"/>
<ellipse cx="128.52" cy="65.73" rx="1.34" ry="0.49" transform="rotate(88 128.52 65.73)" fill="#000" fill-opacity="1.00"/>
<ellipse cx="131.22" cy="64.73" rx="1.31" ry="0.49" transform="rotate(-14 131.22 64.73)" fill="#000" fill-opacity="1.00"/>
<ellipse cx="131.39" cy="67.51" rx="1.49" ry="0.49" transform="rotate(83 131.39 67.51)" fill="#000" fill-opacity="1.00"/>
<ellipse cx="134.00" cy="66.52" rx="1.34" ry="0.49" transform="rotate(-7 134.00 66.52)" fill="#000" fill-opacity="1.00"/>
<ellipse cx="134.25" cy="68.74" rx="1.16" ry="0.49" transform="rotate(73 134.25 68.74)" fill="#000" fill-opacity="1.00"/>
<ellipse cx="136.52" cy="67.67" rx="1.31" ry="0.49" transform="rotate(-27 136.52 67.67)" fill="#000" fill-opacity="1.00"/>
<path d="M87.11 58.98 L82.78 62.23 L80.61 64.40" fill="none" stroke="#000" stroke-width="0.45" stroke-linecap="round" stroke-linejoin="round" stroke-opacity="1.00"/>
<ellipse cx="85.12" cy="59.02" rx="1.35" ry="0.43" transform="rotate(195 85.12 59.02)" fill="#000" fill-opacity="1.00"/>
<ellipse cx="85.62" cy="61.51" rx="1.16" ry="0.43" transform="rotate(81 85.62 61.51)" fill="#000" fill-opacity="1.00"/>
<ellipse cx="83.02" cy="60.72" rx="1.20" ry="0.43" transform="rotate(197 83.02 60.72)" fill="#000" fill-opacity="1.00"/>
<ellipse cx="83.08" cy="63.39" rx="1.31" ry="0.43" transform="rotate(93 83.08 63.39)" fill="#000" fill-opacity="1.00"/>
<ellipse cx="80.78" cy="62.82" rx="1.21" ry="0.43" transform="rotate(184 80.78 62.82)" fill="#000" fill-opacity="1.00"/>
<ellipse cx="81.23" cy="65.50" rx="1.46" ry="0.43" transform="rotate(86 81.23 65.50)" fill="#000" fill-opacity="1.00"/>
<path d="M133.75 58.98 L138.09 62.23 L140.26 64.40" fill="none" stroke="#000" stroke-width="0.45" stroke-linecap="round" stroke-linejoin="round" stroke-opacity="1.00"/>
<ellipse cx="134.24" cy="60.96" rx="1.42" ry="0.43" transform="rotate(93 134.24 60.96)" fill="#000" fill-opacity="1.00"/>
<ellipse cx="136.49" cy="59.74" rx="1.05" ry="0.43" transform="rotate(-26 136.49 59.74)" fill="#000" fill-opacity="1.00"/>
<ellipse cx="136.62" cy="62.70" rx="1.46" ry="0.43" transform="rotate(89 136.62 62.70)" fill="#000" fill-opacity="1.00"/>
<ellipse cx="138.70" cy="61.52" rx="0.98" ry="0.43" transform="rotate(-23 138.70 61.52)" fill="#000" fill-opacity="1.00"/>
<ellipse cx="138.90" cy="64.16" rx="1.16" ry="0.43" transform="rotate(84 138.90 64.16)" fill="#000" fill-opacity="1.00"/>
<ellipse cx="140.89" cy="64.05" rx="1.04" ry="0.43" transform="rotate(8 140.89 64.05)" fill="#000" fill-opacity="1.00"/>
<path d="M110.43 45.42 L110.43 54.64 L110.43 64.40" fill="none" stroke="#000" stroke-width="0.80" stroke-linecap="round" stroke-linejoin="round" stroke-opacity="1.00"/>
<ellipse cx="109.65" cy="47.64" rx="1.18" ry="0.43" transform="rotate(127 109.65 47.64)" fill="#000" fill-opacity="1.00"/>
<ellipse cx="111.65" cy="49.72" rx="1.30" ry="0.43" transform="rotate(31 111.65 49.72)" fill="#000" fill-opacity="1.00"/>
<ellipse cx="109.59" cy="52.37" rx="1.20" ry="0.43" transform="rotate(130 109.59 52.37)" fill="#000" fill-opacity="1.00"/>
<ellipse cx="111.23" cy="54.29" rx="0.89" ry="0.43" transform="rotate(35 111.23 54.29)" fill="#000" fill-opacity="1.00"/>
<ellipse cx="109.14" cy="56.80" rx="1.34" ry="0.43" transform="rotate(151 109.14 56.80)" fill="#000" fill-opacity="1.00"/>
<ellipse cx="111.40" cy="59.56" rx="1.33" ry="0.43" transform="rotate(48 111.40 59.56)" fill="#000" fill-opacity="1.00"/>
<ellipse cx="109.57" cy="61.65" rx="1.08" ry="0.43" transform="rotate(137 109.57 61.65)" fill="#000" fill-opacity="1.00"/>
<ellipse cx="111.69" cy="63.81" rx="1.26" ry="0.43" transform="rotate(25 111.69 63.81)" fill="#000" fill-opacity="1.00"/>
<path d="M110.43 55.72 L106.64 54.64 L103.93 56.26 L104.47 59.52 L107.72 60.06" fill="none" stroke="#000" stroke-width="0.60" stroke-linecap="round" stroke-linejoin="round" stroke-opacity="1.00"/>
<path d="M110.43 55.72 L114.23 54.64 L116.94 56.26 L116.40 59.52 L113.15 60.06" fill="none" stroke="#000" stroke-width="0.60" stroke-linecap="round" stroke-linejoin="round" stroke-opacity="1.00"/>
<path d="M103.38 50.84 L106.64 47.05 L110.43 45.96" fill="none" stroke="#000" stroke-width="0.45" stroke-linecap="round" stroke-linejoin="round" stroke-opacity="1.00"/>
<ellipse cx="104.89" cy="50.10" rx="0.94" ry="0.38" transform="rotate(-10 104.89 50.10)" fill="#000" fill-opacity="1.00"/>
<ellipse cx="104.67" cy="48.17" rx="0.90" ry="0.38" transform="rotate(-100 104.67 48.17)" fill="#000" fill-opacity="1.00"/>
<ellipse cx="106.78" cy="47.87" rx="0.89" ry="0.38" transform="rotate(-9 106.78 47.87)" fill="#000" fill-opacity="1.00"/>
<ellipse cx="107.09" cy="46.21" rx="0.74" ry="0.38" transform="rotate(-73 107.09 46.21)" fill="#000" fill-opacity="1.00"/>
<ellipse cx="109.13" cy="47.18" rx="0.95" ry="0.38" transform="rotate(36 109.13 47.18)" fill="#000" fill-opacity="1.00"/>
<ellipse cx="110.33" cy="45.40" rx="0.89" ry="0.38" transform="rotate(-51 110.33 45.40)" fill="#000" fill-opacity="1.00"/>
<path d="M117.48 50.84 L114.23 47.05 L110.43 45.96" fill="none" stroke="#000" stroke-width="0.45" stroke-linecap="round" stroke-linejoin="round" stroke-opacity="1.00"/>
<ellipse cx="117.24" cy="49.22" rx="0.98" ry="0.38" transform="rotate(-77 117.24 49.22)" fill="#000" fill-opacity="1.00"/>
<ellipse cx="114.73" cy="48.86" rx="1.21" ry="0.38" transform="rotate(-168 114.73 48.86)" fill="#000" fill-opacity="1.00"/>
<ellipse cx="115.47" cy="46.75" rx="1.21" ry="0.38" transform="rotate(-72 115.47 46.75)" fill="#000" fill-opacity="1.00"/>
<ellipse cx="113.14" cy="47.34" rx="0.86" ry="0.38" transform="rotate(-202 113.14 47.34)" fill="#000" fill-opacity="1.00"/>
<ellipse cx="111.83" cy="45.61" rx="1.11" ry="0.38" transform="rotate(-128 111.83 45.61)" fill="#000" fill-opacity="1.00"/>
<ellipse cx="110.37" cy="46.57" rx="0.80" ry="0.38" transform="rotate(-207 110.37 46.57)" fill="#000" fill-opacity="1.00"/>
<path d="M97.96 47.05 L102.30 49.21 L105.55 51.38" fill="none" stroke="#000" stroke-width="0.45" stroke-linecap="round" stroke-linejoin="round" stroke-opacity="1.00"/>
<ellipse cx="99.10" cy="48.68" rx="1.18" ry="0.38" transform="rotate(74 99.10 48.68)" fill="#000" fill-opacity="1.00"/>
<ellipse cx="101.10" cy="47.71" rx="0.86" ry="0.38" transform="rotate(-33 101.10 47.71)" fill="#000" fill-opacity="1.00"/>
<ellipse cx="102.41" cy="50.19" rx="1.18" ry="0.38" transform="rotate(66 102.41 50.19)" fill="#000" fill-opacity="1.00"/>
<ellipse cx="104.49" cy="49.55" rx="1.07" ry="0.38" transform="rotate(-18 104.49 49.55)" fill="#000" fill-opacity="1.00"/>
<ellipse cx="105.09" cy="51.69" rx="0.76" ry="0.38" transform="rotate(71 105.09 51.69)" fill="#000" fill-opacity="1.00"/>
<path d="M122.91 47.05 L118.57 49.21 L115.31 51.38" fill="none" stroke="#000" stroke-width="0.45" stroke-linecap="round" stroke-linejoin="round" stroke-opacity="1.00"/>
<ellipse cx="121.22" cy="46.93" rx="0.94" ry="0.38" transform="rotate(209 121.22 46.93)" fill="#000" fill-opacity="1.00"/>
<ellipse cx="119.98" cy="49.39" rx="1.19" ry="0.38" transform="rotate(116 119.98 49.39)" fill="#000" fill-opacity="1.00"/>
<ellipse cx="117.89" cy="48.43" rx="1.12" ry="0.38" transform="rotate(207 117.89 48.43)" fill="#000" fill-opacity="1.00"/>
<ellipse cx="117.09" cy="51.12" rx="1.15" ry="0.38" transform="rotate(109 117.09 51.12)" fill="#000" fill-opacity="1.00"/>
<ellipse cx="114.78" cy="50.82" rx="1.15" ry="0.38" transform="rotate(183 114.78 50.82)" fill="#000" fill-opacity="1.00"/>
<ellipse cx="94.49" cy="60.93" rx="1.84" ry="1.84" transform="rotate(0 94.49 60.93)" fill="#000" fill-opacity="1.00"/>
<ellipse cx="94.49" cy="60.93" rx="0.83" ry="0.83" transform="rotate(0 94.49 60.93)" fill="#fff" fill-opacity="1.00"/>
<ellipse cx="126.38" cy="60.93" rx="1.84" ry="1.84" transform="rotate(0 126.38 60.93)" fill="#000" fill-opacity="1.00"/>
<ellipse cx="126.38" cy="60.93" rx="0.83" ry="0.83" transform="rotate(0 126.38 60.93)" fill="#fff" fill-opacity="1.00"/>
<ellipse cx="99.59" cy="58.98" rx="1.19" ry="1.19" transform="rotate(0 99.59 58.98)" fill="#000" fill-opacity="1.00"/>
<ellipse cx="99.59" cy="58.98" rx="0.54" ry="0.54" transform="rotate(0 99.59 58.98)" fill="#fff" fill-opacity="1.00"/>
<ellipse cx="121.28" cy="58.98" rx="1.19" ry="1.19" transform="rotate(0 121.28 58.98)" fill="#000" fill-opacity="1.00"/>
<ellipse cx="121.28" cy="58.98" rx="0.54" ry="0.54" transform="rotate(0 121.28 58.98)" fill="#fff" fill-opacity="1.00"/>
<path d="M94.71 62.77 L101.21 62.01 L110.98 62.45 L120.74 62.01 L127.25 62.77 L126.70 67.11 L120.74 66.35 L110.98 67.11 L101.21 66.35 L95.25 67.11Z" fill="#fff" stroke="#111" stroke-width="0.6" stroke-linejoin="round"/>
<text x="110.98" y="66.35" text-anchor="middle" font-family="'Liberation Serif', serif" font-weight="bold" font-size="4.3" textLength="27" lengthAdjust="spacingAndGlyphs" fill="#000">AUSTRALIA</text>
<path d="M100.13 73.08 L110.43 69.82 L120.74 73.08" fill="none" stroke="#000" stroke-width="0.70" stroke-linecap="round" stroke-linejoin="round" stroke-opacity="1.00"/>
<path d="M105.55 74.16 L110.43 68.74 L115.31 74.16" fill="none" stroke="#000" stroke-width="0.70" stroke-linecap="round" stroke-linejoin="round" stroke-opacity="1.00"/>
<ellipse cx="108.26" cy="70.69" rx="1.30" ry="1.30" transform="rotate(0 108.26 70.69)" fill="#000" fill-opacity="1.00"/>
<ellipse cx="108.26" cy="70.69" rx="0.59" ry="0.59" transform="rotate(0 108.26 70.69)" fill="#fff" fill-opacity="1.00"/>
<ellipse cx="112.60" cy="70.69" rx="1.30" ry="1.30" transform="rotate(0 112.60 70.69)" fill="#000" fill-opacity="1.00"/>
<ellipse cx="112.60" cy="70.69" rx="0.59" ry="0.59" transform="rotate(0 112.60 70.69)" fill="#fff" fill-opacity="1.00"/>
<path d="M103.38 71.45 L99.05 73.62" fill="none" stroke="#000" stroke-width="0.80" stroke-linecap="round" stroke-linejoin="round" stroke-opacity="1.00"/>
<path d="M117.48 71.45 L121.82 73.62" fill="none" stroke="#000" stroke-width="0.80" stroke-linecap="round" stroke-linejoin="round" stroke-opacity="1.00"/>
</g>
<text x="110.5" y="95" text-anchor="middle" font-family="'Liberation Serif', serif" font-weight="bold" font-size="16.4" fill="#000" stroke="#000" stroke-width="0.22">Australian Government</text>
<rect x="27" y="103" width="167.5" height="0.85" fill="#000"/>
<text x="111" y="122" text-anchor="middle" font-family="'Liberation Serif', serif" font-weight="bold" font-size="15" fill="#000" stroke="#000" stroke-width="0.22">Bureau of Meteorology</text>
</g>

</svg>
</body>
</html>
